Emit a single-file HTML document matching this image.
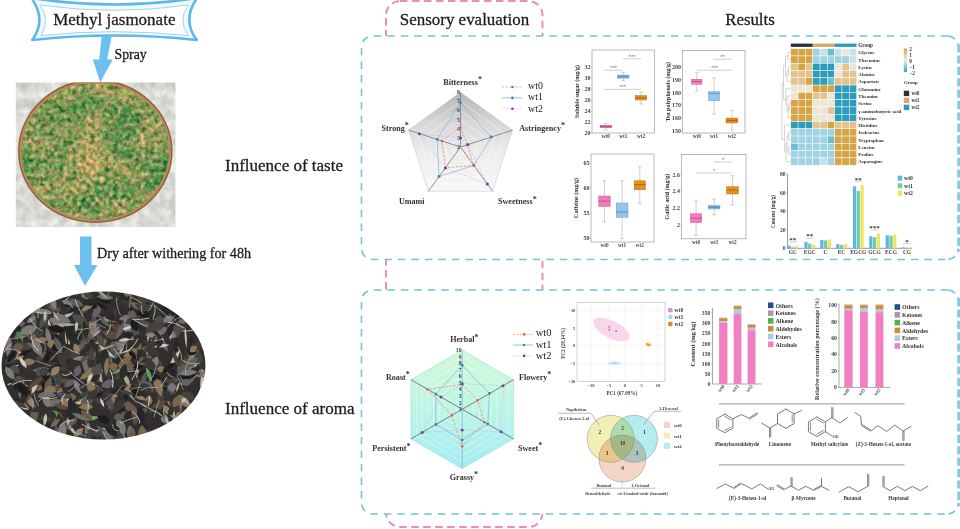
<!DOCTYPE html>
<html><head><meta charset="utf-8"><title>Graphical abstract</title>
<style>
html,body{margin:0;padding:0;background:#fff;}
body{width:960px;height:529px;overflow:hidden;font-family:"Liberation Serif",serif;}
svg{display:block;font-family:"Liberation Serif",serif;will-change:transform;}
</style></head><body>
<svg width="960" height="529" viewBox="0 0 960 529">
<defs>
<filter id="leafG" x="0" y="0" width="100%" height="100%" color-interpolation-filters="sRGB">
  <feTurbulence type="fractalNoise" baseFrequency="0.22" numOctaves="2" seed="7" result="n"/>
  <feColorMatrix in="n" type="matrix" values="0.60 0.95 0 0 -0.25  0.60 0.15 0 0 0.22  0.42 0.50 0 0 -0.12  0 0 0 0 1" result="c"/>
  <feTurbulence type="fractalNoise" baseFrequency="0.028 0.04" numOctaves="2" seed="21" result="lo"/>
  <feColorMatrix in="lo" type="matrix" values="1.2 0 0 0 -0.1  0.3 0 0 0 0.35  0.3 0 0 0 0.35  0 0 0 0 1" result="lo2"/>
  <feComposite in="c" in2="lo2" operator="arithmetic" k1="0" k2="1" k3="0.6" k4="-0.30" result="mix"/>
  <feGaussianBlur in="mix" stdDeviation="0.4"/>
</filter>
<filter id="concrete" x="0" y="0" width="100%" height="100%" color-interpolation-filters="sRGB">
  <feTurbulence type="fractalNoise" baseFrequency="0.10" numOctaves="3" seed="3" result="n"/>
  <feColorMatrix in="n" type="matrix" values="0.3 0 0 0 0.71  0.3 0 0 0 0.71  0.3 0 0 0 0.69  0 0 0 0 1"/>
</filter>
<filter id="leafD" x="0" y="0" width="100%" height="100%" color-interpolation-filters="sRGB">
  <feTurbulence type="fractalNoise" baseFrequency="0.06 0.10" numOctaves="3" seed="11" result="n1"/>
  <feColorMatrix in="n1" type="matrix" values="1.7 0.12 0 0 -0.66  1.7 0.0 0 0 -0.60  1.6 -0.10 0 0 -0.52  0 0 0 0 1" result="base"/>
  <feTurbulence type="turbulence" baseFrequency="0.05 0.08" numOctaves="2" seed="5" result="n2"/>
  <feColorMatrix in="n2" type="matrix" values="-5 0 0 0 0.5  -5 0 0 0 0.5  -5 0 0 0 0.47  0 0 0 0 1" result="veins"/>
  <feComposite in="base" in2="veins" operator="arithmetic" k1="0" k2="1" k3="0.8" k4="0" result="mix"/>
  <feGaussianBlur in="mix" stdDeviation="0.55"/>
</filter>
<clipPath id="clipTray"><ellipse cx="95.3" cy="151.2" rx="73.8" ry="68.3"/></clipPath>
<clipPath id="clipPhoto1"><rect x="15.8" y="82.5" width="159.6" height="144.5"/></clipPath>
<clipPath id="clipEll"><ellipse cx="103.5" cy="365.6" rx="102" ry="74"/></clipPath>
<filter id="soft" x="-2%" y="-2%" width="104%" height="104%"><feGaussianBlur stdDeviation="0.45"/></filter>
<linearGradient id="gPent" x1="0" y1="0" x2="0" y2="1"><stop offset="0" stop-color="#b4b4b4"/><stop offset="0.3" stop-color="#d6d6d6"/><stop offset="0.6" stop-color="#ececec"/><stop offset="1" stop-color="#f8f8f8"/></linearGradient>
<linearGradient id="gHex" x1="0" y1="0" x2="0" y2="1"><stop offset="0" stop-color="#d2f9d6"/><stop offset="0.5" stop-color="#bdf5e6"/><stop offset="1" stop-color="#a4ecf3"/></linearGradient>
<linearGradient id="gBar" x1="0" y1="0" x2="0" y2="1"><stop offset="0" stop-color="#c9a64a"/><stop offset="0.5" stop-color="#efefe6"/><stop offset="1" stop-color="#2fa3bd"/></linearGradient>
</defs>
<path d="M31.5,-2 Q114,11 197,-2 Q181.7,20 196.8,40 Q114,31 32.3,40 Q46.9,20 31.5,-2 Z" fill="#f3fafe" stroke="#5cb7ea" stroke-width="2.6" stroke-linejoin="round"/>
<path d="M39.8,5 Q114,15.6 188.3,5 Q177.3,20 188.3,35.6 Q114,27.8 40.8,35.6 Q51.1,20 39.8,5 Z" fill="#ffffff" stroke="#8fd0f2" stroke-width="0.9"/>
<text x="114.30" y="25.30" font-size="17.0" text-anchor="middle" font-weight="normal" fill="#1c1c1c" stroke="#1c1c1c" stroke-width="0.28">Methyl jasmonate</text>
<path d="M101.6,37 L111.5,37 L107.2,59.4 L112.7,59.4 L100.2,82.5 L92.9,59.4 L99.2,59.4 Z" fill="#6dc0ee"/>
<text x="114.50" y="59.40" font-size="13.8" text-anchor="start" font-weight="normal" fill="#1c1c1c" stroke="#1c1c1c" stroke-width="0.28">Spray</text>
<g clip-path="url(#clipPhoto1)">
<rect x="15.80" y="82.50" width="159.60" height="144.50" fill="#d3d4d0" stroke="none" stroke-width="0.5"/>
<rect x="15.8" y="82.5" width="159.6" height="144.5" filter="url(#concrete)" opacity="0.9"/>
<ellipse cx="95.3" cy="151.2" rx="77.3" ry="71.8" fill="#8e5e3c"/>
<ellipse cx="95.3" cy="151.2" rx="75.9" ry="70.4" fill="#b98a5c"/>
<ellipse cx="95.3" cy="151.2" rx="73.8" ry="68.3" fill="#7f9a4c"/>
<g clip-path="url(#clipTray)"><rect x="16" y="78" width="160" height="150" filter="url(#leafG)"/></g>
</g>
<path d="M80,236.5 L91.5,236.5 L91.5,265 L97.5,265 L85,286 L74,265 L80,265 Z" fill="#6dc0ee"/>
<text x="97.00" y="258.20" font-size="14.17" text-anchor="start" font-weight="normal" fill="#1c1c1c" stroke="#1c1c1c" stroke-width="0.28">Dry after withering for 48h</text>
<g clip-path="url(#clipEll)" filter="url(#soft)">
<ellipse cx="103.5" cy="365.6" rx="103" ry="75" fill="#302f2d"/>
<path d="M-5.3,0 Q0,-4.5 5.3,0 Q0,4.5 -5.3,0Z" fill="#3a3834" transform="translate(131.7 296.3) rotate(133)"/>
<path d="M-5.7,0 Q0,-6.5 5.7,0 Q0,6.5 -5.7,0Z" fill="#2b2a28" transform="translate(112.7 378.8) rotate(5)"/>
<path d="M-7.0,0 Q0,-5.4 7.0,0 Q0,5.4 -7.0,0Z" fill="#7a664e" transform="translate(42.7 387.5) rotate(156)"/>
<path d="M-5.4,0 Q0,-8.8 5.4,0 Q0,8.8 -5.4,0Z" fill="#1f1f1f" transform="translate(155.8 315.9) rotate(61)"/>
<path d="M-7.0,0 Q0,-4.6 7.0,0 Q0,4.6 -7.0,0Z" fill="#4e504e" transform="translate(173.7 380.7) rotate(166)"/>
<path d="M-7.7,0 Q0,-7.5 7.7,0 Q0,7.5 -7.7,0Z" fill="#5e5e5a" transform="translate(18.4 335.4) rotate(8)"/>
<path d="M-9.3,0 Q0,-5.9 9.3,0 Q0,5.9 -9.3,0Z" fill="#3a3834" transform="translate(48.5 334.9) rotate(82)"/>
<path d="M-6.0,0 Q0,-8.7 6.0,0 Q0,8.7 -6.0,0Z" fill="#27282a" transform="translate(171.0 316.3) rotate(117)"/>
<path d="M-7.0,0 Q0,-5.3 7.0,0 Q0,5.3 -7.0,0Z" fill="#777378" transform="translate(125.5 317.6) rotate(167)"/>
<path d="M-5.8,0 Q0,-4.2 5.8,0 Q0,4.2 -5.8,0Z" fill="#2b2a28" transform="translate(141.5 324.7) rotate(57)"/>
<path d="M-8.9,0 Q0,-4.2 8.9,0 Q0,4.2 -8.9,0Z" fill="#a8a496" transform="translate(56.6 323.4) rotate(26)"/>
<path d="M-6.9,0 Q0,-6.9 6.9,0 Q0,6.9 -6.9,0Z" fill="#94806a" transform="translate(30.7 401.4) rotate(65)"/>
<path d="M-5.4,0 Q0,-2.8 5.4,0 Q0,2.8 -5.4,0Z" fill="#d0cdc0" transform="translate(102.2 402.9) rotate(69)"/>
<path d="M-9.5,0 Q0,-4.2 9.5,0 Q0,4.2 -9.5,0Z" fill="#bdb9aa" transform="translate(203.7 369.9) rotate(138)"/>
<path d="M-9.7,0 Q0,-8.4 9.7,0 Q0,8.4 -9.7,0Z" fill="#2b2a28" transform="translate(71.2 335.5) rotate(47)"/>
<path d="M-7.2,0 Q0,-2.1 7.2,0 Q0,2.1 -7.2,0Z" fill="#a8a496" transform="translate(103.6 318.7) rotate(29)"/>
<path d="M-9.6,0 Q0,-8.4 9.6,0 Q0,8.4 -9.6,0Z" fill="#6b5a48" transform="translate(188.0 380.0) rotate(150)"/>
<path d="M-9.6,0 Q0,-1.7 9.6,0 Q0,1.7 -9.6,0Z" fill="#bdb9aa" transform="translate(64.6 301.1) rotate(138)"/>
<path d="M-7.4,0 Q0,-7.0 7.4,0 Q0,7.0 -7.4,0Z" fill="#8a7458" transform="translate(28.4 362.0) rotate(174)"/>
<path d="M-6.2,0 Q0,-9.0 6.2,0 Q0,9.0 -6.2,0Z" fill="#4e504e" transform="translate(190.1 402.9) rotate(117)"/>
<path d="M-4.9,0 Q0,-4.1 4.9,0 Q0,4.1 -4.9,0Z" fill="#3a3834" transform="translate(91.0 368.2) rotate(100)"/>
<path d="M-5.8,0 Q0,-8.5 5.8,0 Q0,8.5 -5.8,0Z" fill="#66606a" transform="translate(121.4 293.6) rotate(155)"/>
<path d="M-7.5,0 Q0,-7.6 7.5,0 Q0,7.6 -7.5,0Z" fill="#524e56" transform="translate(16.8 327.3) rotate(159)"/>
<path d="M-5.5,0 Q0,-4.5 5.5,0 Q0,4.5 -5.5,0Z" fill="#5c4c3e" transform="translate(118.9 328.1) rotate(78)"/>
<path d="M-8.1,0 Q0,-7.2 8.1,0 Q0,7.2 -8.1,0Z" fill="#6e6e6a" transform="translate(88.1 360.8) rotate(11)"/>
<path d="M-5.5,0 Q0,-6.2 5.5,0 Q0,6.2 -5.5,0Z" fill="#3a3834" transform="translate(149.6 409.5) rotate(76)"/>
<path d="M-8.9,0 Q0,-1.8 8.9,0 Q0,1.8 -8.9,0Z" fill="#c9c2ae" transform="translate(58.8 329.1) rotate(97)"/>
<path d="M-5.7,0 Q0,-6.0 5.7,0 Q0,6.0 -5.7,0Z" fill="#45423c" transform="translate(154.7 327.1) rotate(11)"/>
<path d="M-6.1,0 Q0,-7.5 6.1,0 Q0,7.5 -6.1,0Z" fill="#45423c" transform="translate(79.1 436.5) rotate(131)"/>
<path d="M-6.1,0 Q0,-8.8 6.1,0 Q0,8.8 -6.1,0Z" fill="#7a664e" transform="translate(160.7 389.2) rotate(104)"/>
<path d="M-7.1,0 Q0,-8.6 7.1,0 Q0,8.6 -7.1,0Z" fill="#33302e" transform="translate(112.0 401.8) rotate(96)"/>
<path d="M-5.7,0 Q0,-2.2 5.7,0 Q0,2.2 -5.7,0Z" fill="#bdb9aa" transform="translate(14.0 366.7) rotate(160)"/>
<path d="M-8.1,0 Q0,-6.8 8.1,0 Q0,6.8 -8.1,0Z" fill="#6e6e6a" transform="translate(52.2 379.4) rotate(57)"/>
<path d="M-6.7,0 Q0,-7.4 6.7,0 Q0,7.4 -6.7,0Z" fill="#1f1f1f" transform="translate(55.2 390.4) rotate(54)"/>
<path d="M-7.9,0 Q0,-6.8 7.9,0 Q0,6.8 -7.9,0Z" fill="#45423c" transform="translate(66.4 402.4) rotate(18)"/>
<path d="M-9.3,0 Q0,-8.4 9.3,0 Q0,8.4 -9.3,0Z" fill="#1f1f1f" transform="translate(111.1 366.5) rotate(67)"/>
<path d="M-9.9,0 Q0,-8.0 9.9,0 Q0,8.0 -9.9,0Z" fill="#5e5e5a" transform="translate(34.4 414.3) rotate(95)"/>
<path d="M-5.6,0 Q0,-1.8 5.6,0 Q0,1.8 -5.6,0Z" fill="#bdb9aa" transform="translate(137.4 373.6) rotate(100)"/>
<path d="M-8.3,0 Q0,-8.3 8.3,0 Q0,8.3 -8.3,0Z" fill="#524e56" transform="translate(57.5 380.9) rotate(91)"/>
<path d="M-6.8,0 Q0,-5.4 6.8,0 Q0,5.4 -6.8,0Z" fill="#27282a" transform="translate(53.2 425.2) rotate(1)"/>
<path d="M-6.9,0 Q0,-7.5 6.9,0 Q0,7.5 -6.9,0Z" fill="#27282a" transform="translate(158.3 385.6) rotate(101)"/>
<path d="M-7.7,0 Q0,-4.7 7.7,0 Q0,4.7 -7.7,0Z" fill="#1f1f1f" transform="translate(142.1 314.4) rotate(23)"/>
<path d="M-9.4,0 Q0,-5.1 9.4,0 Q0,5.1 -9.4,0Z" fill="#66606a" transform="translate(64.8 423.9) rotate(45)"/>
<path d="M-6.4,0 Q0,-4.3 6.4,0 Q0,4.3 -6.4,0Z" fill="#c9c2ae" transform="translate(23.3 406.5) rotate(29)"/>
<path d="M-8.6,0 Q0,-5.7 8.6,0 Q0,5.7 -8.6,0Z" fill="#3a3834" transform="translate(164.1 318.4) rotate(168)"/>
<path d="M-5.4,0 Q0,-7.5 5.4,0 Q0,7.5 -5.4,0Z" fill="#807a84" transform="translate(164.6 418.8) rotate(69)"/>
<path d="M-6.4,0 Q0,-8.1 6.4,0 Q0,8.1 -6.4,0Z" fill="#45423c" transform="translate(10.3 361.3) rotate(157)"/>
<path d="M-9.3,0 Q0,-8.8 9.3,0 Q0,8.8 -9.3,0Z" fill="#1f1f1f" transform="translate(47.5 389.0) rotate(50)"/>
<path d="M-6.3,0 Q0,-4.1 6.3,0 Q0,4.1 -6.3,0Z" fill="#4f8450" transform="translate(132.1 351.0) rotate(158)"/>
<path d="M-5.1,0 Q0,-6.2 5.1,0 Q0,6.2 -5.1,0Z" fill="#5f9a58" transform="translate(55.3 377.4) rotate(131)"/>
<path d="M-9.4,0 Q0,-5.0 9.4,0 Q0,5.0 -9.4,0Z" fill="#5c4c3e" transform="translate(65.9 381.1) rotate(8)"/>
<path d="M-8.5,0 Q0,-7.7 8.5,0 Q0,7.7 -8.5,0Z" fill="#6e6e6a" transform="translate(90.6 368.5) rotate(121)"/>
<path d="M-7.9,0 Q0,-7.3 7.9,0 Q0,7.3 -7.9,0Z" fill="#5e5e5a" transform="translate(76.1 302.8) rotate(22)"/>
<path d="M-6.7,0 Q0,-5.5 6.7,0 Q0,5.5 -6.7,0Z" fill="#5e5e5a" transform="translate(184.3 366.6) rotate(23)"/>
<path d="M-7.9,0 Q0,-5.5 7.9,0 Q0,5.5 -7.9,0Z" fill="#777378" transform="translate(87.4 429.9) rotate(99)"/>
<path d="M-6.9,0 Q0,-7.4 6.9,0 Q0,7.4 -6.9,0Z" fill="#4e504e" transform="translate(89.3 377.3) rotate(92)"/>
<path d="M-8.0,0 Q0,-5.7 8.0,0 Q0,5.7 -8.0,0Z" fill="#27282a" transform="translate(151.2 388.8) rotate(147)"/>
<path d="M-5.3,0 Q0,-4.2 5.3,0 Q0,4.2 -5.3,0Z" fill="#3a3834" transform="translate(154.2 390.8) rotate(177)"/>
<path d="M-5.6,0 Q0,-7.5 5.6,0 Q0,7.5 -5.6,0Z" fill="#94806a" transform="translate(126.0 404.8) rotate(89)"/>
<path d="M-8.8,0 Q0,-5.1 8.8,0 Q0,5.1 -8.8,0Z" fill="#2b2a28" transform="translate(51.8 388.4) rotate(145)"/>
<path d="M-7.0,0 Q0,-8.0 7.0,0 Q0,8.0 -7.0,0Z" fill="#6b5a48" transform="translate(143.1 360.4) rotate(120)"/>
<path d="M-10.0,0 Q0,-3.0 10.0,0 Q0,3.0 -10.0,0Z" fill="#c9c2ae" transform="translate(202.1 379.5) rotate(99)"/>
<path d="M-8.6,0 Q0,-8.2 8.6,0 Q0,8.2 -8.6,0Z" fill="#8a7458" transform="translate(183.7 401.2) rotate(50)"/>
<path d="M-4.9,0 Q0,-5.4 4.9,0 Q0,5.4 -4.9,0Z" fill="#45423c" transform="translate(159.6 363.4) rotate(49)"/>
<path d="M-6.6,0 Q0,-4.8 6.6,0 Q0,4.8 -6.6,0Z" fill="#3a3834" transform="translate(67.1 371.5) rotate(39)"/>
<path d="M-5.6,0 Q0,-6.1 5.6,0 Q0,6.1 -5.6,0Z" fill="#6b5a48" transform="translate(86.3 340.9) rotate(163)"/>
<path d="M-9.5,0 Q0,-2.6 9.5,0 Q0,2.6 -9.5,0Z" fill="#989486" transform="translate(120.5 394.1) rotate(154)"/>
<path d="M-8.9,0 Q0,-8.5 8.9,0 Q0,8.5 -8.9,0Z" fill="#7c7c76" transform="translate(195.1 353.8) rotate(88)"/>
<path d="M-8.2,0 Q0,-6.0 8.2,0 Q0,6.0 -8.2,0Z" fill="#27282a" transform="translate(57.6 363.5) rotate(30)"/>
<path d="M-9.5,0 Q0,-7.0 9.5,0 Q0,7.0 -9.5,0Z" fill="#66606a" transform="translate(96.9 311.2) rotate(119)"/>
<path d="M-7.0,0 Q0,-2.1 7.0,0 Q0,2.1 -7.0,0Z" fill="#d0cdc0" transform="translate(19.5 355.2) rotate(137)"/>
<path d="M-5.3,0 Q0,-3.7 5.3,0 Q0,3.7 -5.3,0Z" fill="#a8a496" transform="translate(79.1 402.4) rotate(171)"/>
<path d="M-8.2,0 Q0,-6.8 8.2,0 Q0,6.8 -8.2,0Z" fill="#45423c" transform="translate(172.0 383.3) rotate(39)"/>
<path d="M-9.8,0 Q0,-7.6 9.8,0 Q0,7.6 -9.8,0Z" fill="#33302e" transform="translate(143.8 404.6) rotate(140)"/>
<path d="M-7.7,0 Q0,-8.5 7.7,0 Q0,8.5 -7.7,0Z" fill="#8a7458" transform="translate(35.6 338.0) rotate(68)"/>
<path d="M-8.7,0 Q0,-8.3 8.7,0 Q0,8.3 -8.7,0Z" fill="#27282a" transform="translate(122.1 413.9) rotate(108)"/>
<path d="M-4.9,0 Q0,-7.2 4.9,0 Q0,7.2 -4.9,0Z" fill="#1f1f1f" transform="translate(160.6 343.3) rotate(2)"/>
<path d="M-8.0,0 Q0,-8.1 8.0,0 Q0,8.1 -8.0,0Z" fill="#1f1f1f" transform="translate(87.4 364.2) rotate(127)"/>
<path d="M-7.8,0 Q0,-3.8 7.8,0 Q0,3.8 -7.8,0Z" fill="#a8a496" transform="translate(90.5 399.7) rotate(149)"/>
<path d="M-6.0,0 Q0,-6.3 6.0,0 Q0,6.3 -6.0,0Z" fill="#2b2a28" transform="translate(122.2 339.7) rotate(135)"/>
<path d="M-9.2,0 Q0,-4.9 9.2,0 Q0,4.9 -9.2,0Z" fill="#45423c" transform="translate(117.6 390.2) rotate(38)"/>
<path d="M-6.4,0 Q0,-2.1 6.4,0 Q0,2.1 -6.4,0Z" fill="#a8a496" transform="translate(163.7 342.3) rotate(73)"/>
<path d="M-7.0,0 Q0,-4.1 7.0,0 Q0,4.1 -7.0,0Z" fill="#5c4c3e" transform="translate(114.6 327.7) rotate(53)"/>
<path d="M-7.1,0 Q0,-6.7 7.1,0 Q0,6.7 -7.1,0Z" fill="#5e5e5a" transform="translate(84.2 328.1) rotate(77)"/>
<path d="M-6.2,0 Q0,-5.2 6.2,0 Q0,5.2 -6.2,0Z" fill="#807a84" transform="translate(153.2 340.9) rotate(130)"/>
<path d="M-8.5,0 Q0,-2.3 8.5,0 Q0,2.3 -8.5,0Z" fill="#d0cdc0" transform="translate(66.2 401.1) rotate(137)"/>
<path d="M-8.2,0 Q0,-1.5 8.2,0 Q0,1.5 -8.2,0Z" fill="#a8a496" transform="translate(123.1 435.8) rotate(49)"/>
<path d="M-8.0,0 Q0,-7.8 8.0,0 Q0,7.8 -8.0,0Z" fill="#777378" transform="translate(199.3 373.4) rotate(18)"/>
<path d="M-7.4,0 Q0,-4.0 7.4,0 Q0,4.0 -7.4,0Z" fill="#a8a496" transform="translate(99.2 342.3) rotate(13)"/>
<path d="M-9.7,0 Q0,-4.4 9.7,0 Q0,4.4 -9.7,0Z" fill="#33302e" transform="translate(129.6 300.4) rotate(45)"/>
<path d="M-5.7,0 Q0,-6.6 5.7,0 Q0,6.6 -5.7,0Z" fill="#5e5e5a" transform="translate(115.2 353.4) rotate(81)"/>
<path d="M-7.6,0 Q0,-4.3 7.6,0 Q0,4.3 -7.6,0Z" fill="#6aa862" transform="translate(91.9 418.2) rotate(173)"/>
<path d="M-8.1,0 Q0,-4.8 8.1,0 Q0,4.8 -8.1,0Z" fill="#807a84" transform="translate(22.5 404.0) rotate(31)"/>
<path d="M-6.1,0 Q0,-5.4 6.1,0 Q0,5.4 -6.1,0Z" fill="#3a3834" transform="translate(93.5 379.3) rotate(155)"/>
<path d="M-7.7,0 Q0,-8.0 7.7,0 Q0,8.0 -7.7,0Z" fill="#27282a" transform="translate(16.9 326.7) rotate(36)"/>
<path d="M-9.0,0 Q0,-4.4 9.0,0 Q0,4.4 -9.0,0Z" fill="#1f1f1f" transform="translate(25.7 325.4) rotate(30)"/>
<path d="M-6.9,0 Q0,-6.3 6.9,0 Q0,6.3 -6.9,0Z" fill="#8a7458" transform="translate(64.6 401.9) rotate(55)"/>
<path d="M-4.9,0 Q0,-4.2 4.9,0 Q0,4.2 -4.9,0Z" fill="#5c4c3e" transform="translate(83.8 332.3) rotate(78)"/>
<path d="M-9.1,0 Q0,-6.9 9.1,0 Q0,6.9 -9.1,0Z" fill="#27282a" transform="translate(67.6 329.2) rotate(171)"/>
<path d="M-5.5,0 Q0,-6.9 5.5,0 Q0,6.9 -5.5,0Z" fill="#807a84" transform="translate(155.3 361.3) rotate(114)"/>
<path d="M-6.3,0 Q0,-4.5 6.3,0 Q0,4.5 -6.3,0Z" fill="#1f1f1f" transform="translate(101.8 305.9) rotate(29)"/>
<path d="M-9.0,0 Q0,-6.8 9.0,0 Q0,6.8 -9.0,0Z" fill="#6e6e6a" transform="translate(85.7 364.9) rotate(82)"/>
<path d="M-10.2,0 Q0,-1.5 10.2,0 Q0,1.5 -10.2,0Z" fill="#c9c2ae" transform="translate(66.0 339.8) rotate(83)"/>
<path d="M-7.9,0 Q0,-7.8 7.9,0 Q0,7.8 -7.9,0Z" fill="#4e504e" transform="translate(13.4 368.3) rotate(37)"/>
<path d="M-7.2,0 Q0,-4.1 7.2,0 Q0,4.1 -7.2,0Z" fill="#27282a" transform="translate(113.4 428.0) rotate(113)"/>
<path d="M-7.5,0 Q0,-4.5 7.5,0 Q0,4.5 -7.5,0Z" fill="#2b2a28" transform="translate(164.0 396.2) rotate(179)"/>
<path d="M-7.2,0 Q0,-7.6 7.2,0 Q0,7.6 -7.2,0Z" fill="#3a3834" transform="translate(186.9 360.0) rotate(92)"/>
<path d="M-7.0,0 Q0,-4.7 7.0,0 Q0,4.7 -7.0,0Z" fill="#5f9a58" transform="translate(57.7 414.5) rotate(34)"/>
<path d="M-6.0,0 Q0,-8.0 6.0,0 Q0,8.0 -6.0,0Z" fill="#2b2a28" transform="translate(123.6 401.6) rotate(75)"/>
<path d="M-8.5,0 Q0,-8.2 8.5,0 Q0,8.2 -8.5,0Z" fill="#807a84" transform="translate(191.2 366.7) rotate(104)"/>
<path d="M-6.4,0 Q0,-6.8 6.4,0 Q0,6.8 -6.4,0Z" fill="#5c4c3e" transform="translate(135.8 418.9) rotate(98)"/>
<path d="M-5.8,0 Q0,-5.9 5.8,0 Q0,5.9 -5.8,0Z" fill="#27282a" transform="translate(94.5 339.6) rotate(154)"/>
<path d="M-6.6,0 Q0,-7.3 6.6,0 Q0,7.3 -6.6,0Z" fill="#5c4c3e" transform="translate(85.5 339.1) rotate(148)"/>
<path d="M-9.8,0 Q0,-5.7 9.8,0 Q0,5.7 -9.8,0Z" fill="#33302e" transform="translate(200.6 364.9) rotate(18)"/>
<path d="M-8.1,0 Q0,-8.3 8.1,0 Q0,8.3 -8.1,0Z" fill="#6e6e6a" transform="translate(160.4 331.3) rotate(153)"/>
<path d="M-9.4,0 Q0,-6.4 9.4,0 Q0,6.4 -9.4,0Z" fill="#27282a" transform="translate(176.1 348.1) rotate(97)"/>
<path d="M-10.0,0 Q0,-7.7 10.0,0 Q0,7.7 -10.0,0Z" fill="#807a84" transform="translate(127.2 326.9) rotate(78)"/>
<path d="M-6.9,0 Q0,-1.6 6.9,0 Q0,1.6 -6.9,0Z" fill="#c9c2ae" transform="translate(22.4 385.1) rotate(10)"/>
<path d="M-7.6,0 Q0,-8.0 7.6,0 Q0,8.0 -7.6,0Z" fill="#45423c" transform="translate(74.9 355.5) rotate(31)"/>
<path d="M-9.0,0 Q0,-2.9 9.0,0 Q0,2.9 -9.0,0Z" fill="#d0cdc0" transform="translate(127.7 327.8) rotate(162)"/>
<path d="M-6.9,0 Q0,-5.7 6.9,0 Q0,5.7 -6.9,0Z" fill="#6b5a48" transform="translate(96.5 334.6) rotate(106)"/>
<path d="M-5.6,0 Q0,-5.9 5.6,0 Q0,5.9 -5.6,0Z" fill="#1f1f1f" transform="translate(131.6 354.5) rotate(87)"/>
<path d="M-4.6,0 Q0,-8.2 4.6,0 Q0,8.2 -4.6,0Z" fill="#8a7458" transform="translate(50.4 376.1) rotate(71)"/>
<path d="M-6.3,0 Q0,-3.9 6.3,0 Q0,3.9 -6.3,0Z" fill="#a8a496" transform="translate(186.4 401.4) rotate(34)"/>
<path d="M-9.1,0 Q0,-7.1 9.1,0 Q0,7.1 -9.1,0Z" fill="#6e6e6a" transform="translate(53.1 402.9) rotate(163)"/>
<path d="M-6.5,0 Q0,-4.7 6.5,0 Q0,4.7 -6.5,0Z" fill="#94806a" transform="translate(133.1 337.7) rotate(164)"/>
<path d="M-9.3,0 Q0,-5.8 9.3,0 Q0,5.8 -9.3,0Z" fill="#33302e" transform="translate(68.5 353.3) rotate(90)"/>
<path d="M-9.8,0 Q0,-4.1 9.8,0 Q0,4.1 -9.8,0Z" fill="#c9c2ae" transform="translate(57.6 316.6) rotate(84)"/>
<path d="M-8.5,0 Q0,-8.9 8.5,0 Q0,8.9 -8.5,0Z" fill="#27282a" transform="translate(17.7 402.7) rotate(174)"/>
<path d="M-6.0,0 Q0,-4.6 6.0,0 Q0,4.6 -6.0,0Z" fill="#66606a" transform="translate(165.0 346.0) rotate(66)"/>
<path d="M-9.7,0 Q0,-4.5 9.7,0 Q0,4.5 -9.7,0Z" fill="#27282a" transform="translate(153.8 330.9) rotate(42)"/>
<path d="M-8.0,0 Q0,-6.3 8.0,0 Q0,6.3 -8.0,0Z" fill="#2b2a28" transform="translate(115.9 426.2) rotate(126)"/>
<path d="M-6.2,0 Q0,-6.5 6.2,0 Q0,6.5 -6.2,0Z" fill="#2b2a28" transform="translate(133.6 309.6) rotate(17)"/>
<path d="M-6.8,0 Q0,-7.7 6.8,0 Q0,7.7 -6.8,0Z" fill="#7c7c76" transform="translate(94.1 390.5) rotate(28)"/>
<path d="M-9.7,0 Q0,-5.4 9.7,0 Q0,5.4 -9.7,0Z" fill="#5c4c3e" transform="translate(86.3 307.1) rotate(124)"/>
<path d="M-5.0,0 Q0,-7.4 5.0,0 Q0,7.4 -5.0,0Z" fill="#1f1f1f" transform="translate(46.4 357.5) rotate(98)"/>
<path d="M-9.8,0 Q0,-8.7 9.8,0 Q0,8.7 -9.8,0Z" fill="#3a3834" transform="translate(200.0 345.0) rotate(148)"/>
<path d="M-4.8,0 Q0,-5.7 4.8,0 Q0,5.7 -4.8,0Z" fill="#66606a" transform="translate(21.0 323.6) rotate(178)"/>
<path d="M-5.6,0 Q0,-5.1 5.6,0 Q0,5.1 -5.6,0Z" fill="#7c7c76" transform="translate(161.5 322.6) rotate(157)"/>
<path d="M-8.2,0 Q0,-4.5 8.2,0 Q0,4.5 -8.2,0Z" fill="#bdb9aa" transform="translate(68.9 314.1) rotate(144)"/>
<path d="M-6.3,0 Q0,-4.9 6.3,0 Q0,4.9 -6.3,0Z" fill="#5e5e5a" transform="translate(29.1 344.9) rotate(9)"/>
<path d="M-7.0,0 Q0,-5.8 7.0,0 Q0,5.8 -7.0,0Z" fill="#4e504e" transform="translate(152.3 369.4) rotate(107)"/>
<path d="M-8.8,0 Q0,-8.3 8.8,0 Q0,8.3 -8.8,0Z" fill="#4e504e" transform="translate(93.8 324.9) rotate(94)"/>
<path d="M-9.2,0 Q0,-6.1 9.2,0 Q0,6.1 -9.2,0Z" fill="#45423c" transform="translate(95.0 433.3) rotate(19)"/>
<path d="M-8.8,0 Q0,-2.3 8.8,0 Q0,2.3 -8.8,0Z" fill="#a8a496" transform="translate(146.4 357.4) rotate(99)"/>
<path d="M-8.9,0 Q0,-4.6 8.9,0 Q0,4.6 -8.9,0Z" fill="#5a585e" transform="translate(109.7 358.8) rotate(118)"/>
<path d="M-7.7,0 Q0,-2.5 7.7,0 Q0,2.5 -7.7,0Z" fill="#c9c2ae" transform="translate(179.8 373.1) rotate(75)"/>
<path d="M-9.7,0 Q0,-7.4 9.7,0 Q0,7.4 -9.7,0Z" fill="#5e5e5a" transform="translate(21.7 354.9) rotate(85)"/>
<path d="M-7.6,0 Q0,-6.9 7.6,0 Q0,6.9 -7.6,0Z" fill="#3a3834" transform="translate(89.7 401.3) rotate(101)"/>
<path d="M-9.7,0 Q0,-6.1 9.7,0 Q0,6.1 -9.7,0Z" fill="#27282a" transform="translate(69.1 310.4) rotate(165)"/>
<path d="M-7.7,0 Q0,-5.1 7.7,0 Q0,5.1 -7.7,0Z" fill="#2b2a28" transform="translate(12.9 334.6) rotate(118)"/>
<path d="M-7.6,0 Q0,-2.2 7.6,0 Q0,2.2 -7.6,0Z" fill="#a8a496" transform="translate(47.8 308.4) rotate(101)"/>
<path d="M-4.6,0 Q0,-8.6 4.6,0 Q0,8.6 -4.6,0Z" fill="#7c7c76" transform="translate(157.5 383.4) rotate(149)"/>
<path d="M-9.6,0 Q0,-5.8 9.6,0 Q0,5.8 -9.6,0Z" fill="#807a84" transform="translate(56.5 318.9) rotate(33)"/>
<path d="M-8.0,0 Q0,-4.2 8.0,0 Q0,4.2 -8.0,0Z" fill="#27282a" transform="translate(31.4 388.6) rotate(134)"/>
<path d="M-6.2,0 Q0,-5.6 6.2,0 Q0,5.6 -6.2,0Z" fill="#1f1f1f" transform="translate(46.0 353.9) rotate(169)"/>
<path d="M-4.8,0 Q0,-4.4 4.8,0 Q0,4.4 -4.8,0Z" fill="#33302e" transform="translate(122.9 421.6) rotate(80)"/>
<path d="M-8.7,0 Q0,-4.6 8.7,0 Q0,4.6 -8.7,0Z" fill="#3a3834" transform="translate(88.2 381.2) rotate(77)"/>
<path d="M-4.7,0 Q0,-6.0 4.7,0 Q0,6.0 -4.7,0Z" fill="#8a7458" transform="translate(59.7 391.7) rotate(108)"/>
<path d="M-5.2,0 Q0,-6.5 5.2,0 Q0,6.5 -5.2,0Z" fill="#1f1f1f" transform="translate(45.2 312.6) rotate(78)"/>
<path d="M-9.1,0 Q0,-8.0 9.1,0 Q0,8.0 -9.1,0Z" fill="#33302e" transform="translate(28.6 370.4) rotate(13)"/>
<path d="M-6.1,0 Q0,-6.0 6.1,0 Q0,6.0 -6.1,0Z" fill="#5c4c3e" transform="translate(176.6 376.7) rotate(174)"/>
<path d="M-9.1,0 Q0,-5.2 9.1,0 Q0,5.2 -9.1,0Z" fill="#45423c" transform="translate(95.4 393.3) rotate(106)"/>
<path d="M-5.7,0 Q0,-7.9 5.7,0 Q0,7.9 -5.7,0Z" fill="#1f1f1f" transform="translate(108.3 350.4) rotate(14)"/>
<path d="M-6.4,0 Q0,-8.8 6.4,0 Q0,8.8 -6.4,0Z" fill="#1f1f1f" transform="translate(130.4 370.1) rotate(116)"/>
<path d="M-4.9,0 Q0,-8.8 4.9,0 Q0,8.8 -4.9,0Z" fill="#27282a" transform="translate(54.2 317.9) rotate(113)"/>
<path d="M-8.0,0 Q0,-8.9 8.0,0 Q0,8.9 -8.0,0Z" fill="#94806a" transform="translate(96.2 374.9) rotate(58)"/>
<path d="M-6.0,0 Q0,-4.3 6.0,0 Q0,4.3 -6.0,0Z" fill="#7c7c76" transform="translate(91.3 361.1) rotate(91)"/>
<path d="M-4.9,0 Q0,-8.3 4.9,0 Q0,8.3 -4.9,0Z" fill="#1f1f1f" transform="translate(65.2 358.6) rotate(154)"/>
<path d="M-9.7,0 Q0,-7.7 9.7,0 Q0,7.7 -9.7,0Z" fill="#94806a" transform="translate(126.7 366.6) rotate(7)"/>
<path d="M-7.1,0 Q0,-4.8 7.1,0 Q0,4.8 -7.1,0Z" fill="#33302e" transform="translate(186.1 376.1) rotate(11)"/>
<path d="M-4.7,0 Q0,-7.5 4.7,0 Q0,7.5 -4.7,0Z" fill="#7a664e" transform="translate(71.9 396.9) rotate(178)"/>
<path d="M-6.6,0 Q0,-7.9 6.6,0 Q0,7.9 -6.6,0Z" fill="#1f1f1f" transform="translate(108.4 381.6) rotate(122)"/>
<path d="M-5.0,0 Q0,-7.4 5.0,0 Q0,7.4 -5.0,0Z" fill="#1f1f1f" transform="translate(13.1 384.7) rotate(51)"/>
<path d="M-7.1,0 Q0,-1.9 7.1,0 Q0,1.9 -7.1,0Z" fill="#d0cdc0" transform="translate(148.7 388.5) rotate(174)"/>
<path d="M-6.2,0 Q0,-5.9 6.2,0 Q0,5.9 -6.2,0Z" fill="#5a585e" transform="translate(143.6 349.8) rotate(142)"/>
<path d="M-10.0,0 Q0,-8.6 10.0,0 Q0,8.6 -10.0,0Z" fill="#4e504e" transform="translate(166.8 390.4) rotate(17)"/>
<path d="M-5.5,0 Q0,-5.1 5.5,0 Q0,5.1 -5.5,0Z" fill="#1f1f1f" transform="translate(137.9 366.8) rotate(171)"/>
<path d="M-6.1,0 Q0,-7.9 6.1,0 Q0,7.9 -6.1,0Z" fill="#2b2a28" transform="translate(100.7 325.7) rotate(91)"/>
<path d="M-9.3,0 Q0,-7.1 9.3,0 Q0,7.1 -9.3,0Z" fill="#8a7458" transform="translate(111.5 400.4) rotate(108)"/>
<path d="M-8.9,0 Q0,-4.8 8.9,0 Q0,4.8 -8.9,0Z" fill="#5e5e5a" transform="translate(33.7 319.0) rotate(79)"/>
<path d="M-7.9,0 Q0,-7.8 7.9,0 Q0,7.8 -7.9,0Z" fill="#45423c" transform="translate(85.5 391.3) rotate(141)"/>
<path d="M-8.4,0 Q0,-3.5 8.4,0 Q0,3.5 -8.4,0Z" fill="#c9c2ae" transform="translate(49.8 327.5) rotate(79)"/>
<path d="M-9.8,0 Q0,-8.1 9.8,0 Q0,8.1 -9.8,0Z" fill="#5c4c3e" transform="translate(157.9 406.2) rotate(144)"/>
<path d="M-7.5,0 Q0,-4.5 7.5,0 Q0,4.5 -7.5,0Z" fill="#5e5e5a" transform="translate(30.5 329.1) rotate(152)"/>
<path d="M-7.0,0 Q0,-6.6 7.0,0 Q0,6.6 -7.0,0Z" fill="#807a84" transform="translate(174.4 334.2) rotate(150)"/>
<path d="M-11.0,0 Q0,-2.2 11.0,0 Q0,2.2 -11.0,0Z" fill="#c9c2ae" transform="translate(167.5 421.8) rotate(67)"/>
<path d="M-4.7,0 Q0,-8.6 4.7,0 Q0,8.6 -4.7,0Z" fill="#777378" transform="translate(172.0 387.5) rotate(85)"/>
<path d="M-4.5,0 Q0,-4.4 4.5,0 Q0,4.4 -4.5,0Z" fill="#94806a" transform="translate(170.4 403.4) rotate(46)"/>
<path d="M-6.8,0 Q0,-7.9 6.8,0 Q0,7.9 -6.8,0Z" fill="#7c7c76" transform="translate(171.2 372.7) rotate(43)"/>
<path d="M-7.0,0 Q0,-4.6 7.0,0 Q0,4.6 -7.0,0Z" fill="#5e5e5a" transform="translate(27.1 327.4) rotate(163)"/>
<path d="M-8.5,0 Q0,-5.5 8.5,0 Q0,5.5 -8.5,0Z" fill="#7a664e" transform="translate(123.0 295.0) rotate(0)"/>
<path d="M-5.0,0 Q0,-8.9 5.0,0 Q0,8.9 -5.0,0Z" fill="#27282a" transform="translate(73.8 375.9) rotate(12)"/>
<path d="M-4.6,0 Q0,-8.4 4.6,0 Q0,8.4 -4.6,0Z" fill="#4f8450" transform="translate(108.8 366.7) rotate(8)"/>
<path d="M-8.8,0 Q0,-5.7 8.8,0 Q0,5.7 -8.8,0Z" fill="#5e5e5a" transform="translate(80.7 347.1) rotate(132)"/>
<path d="M-5.2,0 Q0,-5.8 5.2,0 Q0,5.8 -5.2,0Z" fill="#5e5e5a" transform="translate(129.4 405.2) rotate(61)"/>
<path d="M-7.1,0 Q0,-4.9 7.1,0 Q0,4.9 -7.1,0Z" fill="#4e504e" transform="translate(132.3 413.8) rotate(24)"/>
<path d="M-4.7,0 Q0,-5.0 4.7,0 Q0,5.0 -4.7,0Z" fill="#3a3834" transform="translate(147.1 430.4) rotate(8)"/>
<path d="M-7.1,0 Q0,-4.2 7.1,0 Q0,4.2 -7.1,0Z" fill="#4f8450" transform="translate(191.0 367.8) rotate(116)"/>
<path d="M-6.3,0 Q0,-4.6 6.3,0 Q0,4.6 -6.3,0Z" fill="#27282a" transform="translate(60.3 418.5) rotate(66)"/>
<path d="M-7.2,0 Q0,-3.6 7.2,0 Q0,3.6 -7.2,0Z" fill="#c9c2ae" transform="translate(182.2 401.1) rotate(144)"/>
<path d="M-7.8,0 Q0,-8.1 7.8,0 Q0,8.1 -7.8,0Z" fill="#45423c" transform="translate(56.4 304.7) rotate(98)"/>
<path d="M-7.0,0 Q0,-7.6 7.0,0 Q0,7.6 -7.0,0Z" fill="#807a84" transform="translate(67.4 304.3) rotate(30)"/>
<path d="M-7.9,0 Q0,-6.2 7.9,0 Q0,6.2 -7.9,0Z" fill="#5e5e5a" transform="translate(92.2 357.9) rotate(115)"/>
<path d="M-9.7,0 Q0,-4.7 9.7,0 Q0,4.7 -9.7,0Z" fill="#7a664e" transform="translate(138.1 351.9) rotate(109)"/>
<path d="M-5.3,0 Q0,-6.2 5.3,0 Q0,6.2 -5.3,0Z" fill="#94806a" transform="translate(76.5 348.5) rotate(67)"/>
<path d="M-6.7,0 Q0,-7.2 6.7,0 Q0,7.2 -6.7,0Z" fill="#1f1f1f" transform="translate(92.2 303.8) rotate(45)"/>
<path d="M-9.5,0 Q0,-4.6 9.5,0 Q0,4.6 -9.5,0Z" fill="#5c4c3e" transform="translate(25.4 400.0) rotate(139)"/>
<path d="M-9.5,0 Q0,-6.5 9.5,0 Q0,6.5 -9.5,0Z" fill="#4e504e" transform="translate(144.7 323.9) rotate(22)"/>
<path d="M-10.9,0 Q0,-4.4 10.9,0 Q0,4.4 -10.9,0Z" fill="#c9c2ae" transform="translate(174.8 358.6) rotate(120)"/>
<path d="M-9.2,0 Q0,-7.6 9.2,0 Q0,7.6 -9.2,0Z" fill="#1f1f1f" transform="translate(145.8 372.9) rotate(167)"/>
<path d="M-9.9,0 Q0,-8.0 9.9,0 Q0,8.0 -9.9,0Z" fill="#6b5a48" transform="translate(131.3 408.5) rotate(43)"/>
<path d="M-8.9,0 Q0,-6.8 8.9,0 Q0,6.8 -8.9,0Z" fill="#5c4c3e" transform="translate(102.3 345.3) rotate(110)"/>
<path d="M-7.1,0 Q0,-6.1 7.1,0 Q0,6.1 -7.1,0Z" fill="#4f8450" transform="translate(19.9 337.8) rotate(74)"/>
<path d="M-7.0,0 Q0,-7.4 7.0,0 Q0,7.4 -7.0,0Z" fill="#2b2a28" transform="translate(118.6 310.9) rotate(62)"/>
<path d="M-8.7,0 Q0,-4.6 8.7,0 Q0,4.6 -8.7,0Z" fill="#777378" transform="translate(179.8 406.5) rotate(91)"/>
<path d="M-5.4,0 Q0,-5.6 5.4,0 Q0,5.6 -5.4,0Z" fill="#8a7458" transform="translate(177.9 414.0) rotate(128)"/>
<path d="M-5.8,0 Q0,-3.2 5.8,0 Q0,3.2 -5.8,0Z" fill="#bdb9aa" transform="translate(72.4 430.0) rotate(55)"/>
<path d="M-5.3,0 Q0,-7.3 5.3,0 Q0,7.3 -5.3,0Z" fill="#33302e" transform="translate(110.3 366.0) rotate(130)"/>
<path d="M-4.9,0 Q0,-8.7 4.9,0 Q0,8.7 -4.9,0Z" fill="#6b5a48" transform="translate(124.7 415.6) rotate(139)"/>
<path d="M-8.0,0 Q0,-6.5 8.0,0 Q0,6.5 -8.0,0Z" fill="#94806a" transform="translate(56.0 323.4) rotate(113)"/>
<path d="M-6.1,0 Q0,-4.4 6.1,0 Q0,4.4 -6.1,0Z" fill="#5c4c3e" transform="translate(61.0 432.3) rotate(11)"/>
<path d="M-5.3,0 Q0,-8.3 5.3,0 Q0,8.3 -5.3,0Z" fill="#33302e" transform="translate(91.3 363.3) rotate(57)"/>
<path d="M-6.3,0 Q0,-6.3 6.3,0 Q0,6.3 -6.3,0Z" fill="#6b5a48" transform="translate(83.0 403.7) rotate(48)"/>
<path d="M-9.3,0 Q0,-6.1 9.3,0 Q0,6.1 -9.3,0Z" fill="#45423c" transform="translate(52.6 306.7) rotate(173)"/>
<path d="M-7.2,0 Q0,-6.6 7.2,0 Q0,6.6 -7.2,0Z" fill="#3a3834" transform="translate(191.1 397.9) rotate(90)"/>
<path d="M-8.6,0 Q0,-2.3 8.6,0 Q0,2.3 -8.6,0Z" fill="#d0cdc0" transform="translate(193.4 366.4) rotate(152)"/>
<path d="M-6.9,0 Q0,-8.4 6.9,0 Q0,8.4 -6.9,0Z" fill="#2b2a28" transform="translate(138.3 334.3) rotate(131)"/>
<path d="M-7.6,0 Q0,-5.8 7.6,0 Q0,5.8 -7.6,0Z" fill="#33302e" transform="translate(156.8 346.0) rotate(52)"/>
<path d="M-8.2,0 Q0,-4.6 8.2,0 Q0,4.6 -8.2,0Z" fill="#94806a" transform="translate(80.5 358.4) rotate(176)"/>
<path d="M-8.7,0 Q0,-5.0 8.7,0 Q0,5.0 -8.7,0Z" fill="#1f1f1f" transform="translate(82.1 408.7) rotate(92)"/>
<path d="M-8.9,0 Q0,-6.6 8.9,0 Q0,6.6 -8.9,0Z" fill="#1f1f1f" transform="translate(103.5 299.2) rotate(27)"/>
<path d="M-8.6,0 Q0,-5.5 8.6,0 Q0,5.5 -8.6,0Z" fill="#33302e" transform="translate(190.6 339.1) rotate(61)"/>
<path d="M-7.1,0 Q0,-4.1 7.1,0 Q0,4.1 -7.1,0Z" fill="#807a84" transform="translate(169.8 370.3) rotate(60)"/>
<path d="M-9.3,0 Q0,-7.1 9.3,0 Q0,7.1 -9.3,0Z" fill="#27282a" transform="translate(24.6 353.4) rotate(107)"/>
<path d="M-6.0,0 Q0,-3.3 6.0,0 Q0,3.3 -6.0,0Z" fill="#989486" transform="translate(56.1 388.3) rotate(113)"/>
<path d="M-5.8,0 Q0,-6.9 5.8,0 Q0,6.9 -5.8,0Z" fill="#27282a" transform="translate(127.7 415.4) rotate(126)"/>
<path d="M-8.3,0 Q0,-6.1 8.3,0 Q0,6.1 -8.3,0Z" fill="#45423c" transform="translate(41.0 357.0) rotate(139)"/>
<path d="M-7.6,0 Q0,-9.0 7.6,0 Q0,9.0 -7.6,0Z" fill="#3a3834" transform="translate(151.1 301.7) rotate(86)"/>
<path d="M-6.4,0 Q0,-5.8 6.4,0 Q0,5.8 -6.4,0Z" fill="#94806a" transform="translate(78.6 432.3) rotate(139)"/>
<path d="M-7.2,0 Q0,-8.8 7.2,0 Q0,8.8 -7.2,0Z" fill="#5e5e5a" transform="translate(148.1 386.5) rotate(50)"/>
<path d="M-8.4,0 Q0,-7.5 8.4,0 Q0,7.5 -8.4,0Z" fill="#6aa862" transform="translate(62.8 430.1) rotate(88)"/>
<path d="M-10.4,0 Q0,-3.1 10.4,0 Q0,3.1 -10.4,0Z" fill="#a8a496" transform="translate(99.4 374.4) rotate(71)"/>
<path d="M-6.1,0 Q0,-7.6 6.1,0 Q0,7.6 -6.1,0Z" fill="#2b2a28" transform="translate(72.2 405.5) rotate(62)"/>
<path d="M-9.1,0 Q0,-5.4 9.1,0 Q0,5.4 -9.1,0Z" fill="#7a664e" transform="translate(91.9 330.0) rotate(101)"/>
<path d="M-5.8,0 Q0,-7.3 5.8,0 Q0,7.3 -5.8,0Z" fill="#524e56" transform="translate(57.4 308.5) rotate(96)"/>
<path d="M-7.1,0 Q0,-7.4 7.1,0 Q0,7.4 -7.1,0Z" fill="#27282a" transform="translate(131.4 300.3) rotate(25)"/>
<path d="M-6.9,0 Q0,-4.4 6.9,0 Q0,4.4 -6.9,0Z" fill="#c9c2ae" transform="translate(34.4 387.9) rotate(116)"/>
<path d="M-9.5,0 Q0,-4.9 9.5,0 Q0,4.9 -9.5,0Z" fill="#66606a" transform="translate(118.5 370.7) rotate(159)"/>
<path d="M-5.6,0 Q0,-3.2 5.6,0 Q0,3.2 -5.6,0Z" fill="#a8a496" transform="translate(102.6 429.3) rotate(177)"/>
<path d="M-6.0,0 Q0,-1.8 6.0,0 Q0,1.8 -6.0,0Z" fill="#989486" transform="translate(112.2 364.7) rotate(83)"/>
<path d="M-6.1,0 Q0,-7.4 6.1,0 Q0,7.4 -6.1,0Z" fill="#7c7c76" transform="translate(54.5 319.8) rotate(35)"/>
<path d="M-7.3,0 Q0,-4.4 7.3,0 Q0,4.4 -7.3,0Z" fill="#45423c" transform="translate(125.9 385.9) rotate(120)"/>
<path d="M-4.5,0 Q0,-5.9 4.5,0 Q0,5.9 -4.5,0Z" fill="#3a3834" transform="translate(39.8 313.1) rotate(80)"/>
<path d="M-4.6,0 Q0,-7.3 4.6,0 Q0,7.3 -4.6,0Z" fill="#5e5e5a" transform="translate(56.4 340.7) rotate(125)"/>
<path d="M-8.3,0 Q0,-7.2 8.3,0 Q0,7.2 -8.3,0Z" fill="#8a7458" transform="translate(64.5 351.8) rotate(169)"/>
<path d="M-7.5,0 Q0,-3.3 7.5,0 Q0,3.3 -7.5,0Z" fill="#c9c2ae" transform="translate(76.7 324.8) rotate(99)"/>
<path d="M-8.7,0 Q0,-7.4 8.7,0 Q0,7.4 -8.7,0Z" fill="#524e56" transform="translate(97.6 371.1) rotate(107)"/>
<path d="M-4.9,0 Q0,-6.8 4.9,0 Q0,6.8 -4.9,0Z" fill="#8a7458" transform="translate(161.5 369.3) rotate(11)"/>
<path d="M-5.4,0 Q0,-8.3 5.4,0 Q0,8.3 -5.4,0Z" fill="#7a664e" transform="translate(113.1 366.4) rotate(80)"/>
<path d="M-7.0,0 Q0,-4.3 7.0,0 Q0,4.3 -7.0,0Z" fill="#94806a" transform="translate(139.9 397.3) rotate(24)"/>
<path d="M-8.5,0 Q0,-6.0 8.5,0 Q0,6.0 -8.5,0Z" fill="#8a7458" transform="translate(86.4 374.9) rotate(147)"/>
<path d="M-8.4,0 Q0,-6.7 8.4,0 Q0,6.7 -8.4,0Z" fill="#1f1f1f" transform="translate(153.2 377.0) rotate(11)"/>
<path d="M-8.7,0 Q0,-8.9 8.7,0 Q0,8.9 -8.7,0Z" fill="#3a3834" transform="translate(97.9 334.5) rotate(116)"/>
<path d="M-6.6,0 Q0,-7.4 6.6,0 Q0,7.4 -6.6,0Z" fill="#45423c" transform="translate(87.4 437.6) rotate(119)"/>
<path d="M-10.0,0 Q0,-6.0 10.0,0 Q0,6.0 -10.0,0Z" fill="#3a3834" transform="translate(111.4 388.0) rotate(23)"/>
<path d="M-9.0,0 Q0,-5.2 9.0,0 Q0,5.2 -9.0,0Z" fill="#45423c" transform="translate(96.0 397.6) rotate(62)"/>
<path d="M-4.7,0 Q0,-7.3 4.7,0 Q0,7.3 -4.7,0Z" fill="#5a585e" transform="translate(58.2 429.5) rotate(111)"/>
<path d="M-7.8,0 Q0,-7.5 7.8,0 Q0,7.5 -7.8,0Z" fill="#4e504e" transform="translate(51.1 302.4) rotate(9)"/>
<path d="M-8.6,0 Q0,-7.9 8.6,0 Q0,7.9 -8.6,0Z" fill="#3a3834" transform="translate(152.1 351.3) rotate(25)"/>
<path d="M-5.8,0 Q0,-8.4 5.8,0 Q0,8.4 -5.8,0Z" fill="#8a7458" transform="translate(187.6 376.7) rotate(177)"/>
<path d="M-9.7,0 Q0,-8.4 9.7,0 Q0,8.4 -9.7,0Z" fill="#33302e" transform="translate(107.8 353.0) rotate(164)"/>
<path d="M-9.7,0 Q0,-7.4 9.7,0 Q0,7.4 -9.7,0Z" fill="#8a7458" transform="translate(129.0 355.0) rotate(141)"/>
<path d="M-5.5,0 Q0,-6.7 5.5,0 Q0,6.7 -5.5,0Z" fill="#45423c" transform="translate(66.9 353.4) rotate(43)"/>
<path d="M-9.5,0 Q0,-6.8 9.5,0 Q0,6.8 -9.5,0Z" fill="#45423c" transform="translate(48.0 417.8) rotate(174)"/>
<path d="M-6.3,0 Q0,-4.4 6.3,0 Q0,4.4 -6.3,0Z" fill="#3a3834" transform="translate(115.1 312.2) rotate(81)"/>
<path d="M-6.0,0 Q0,-7.4 6.0,0 Q0,7.4 -6.0,0Z" fill="#66606a" transform="translate(77.5 370.8) rotate(109)"/>
<path d="M-8.2,0 Q0,-5.1 8.2,0 Q0,5.1 -8.2,0Z" fill="#4e504e" transform="translate(179.0 320.1) rotate(38)"/>
<path d="M-11.0,0 Q0,-1.9 11.0,0 Q0,1.9 -11.0,0Z" fill="#d0cdc0" transform="translate(185.7 336.9) rotate(86)"/>
<path d="M-7.5,0 Q0,-7.9 7.5,0 Q0,7.9 -7.5,0Z" fill="#3a3834" transform="translate(51.5 380.8) rotate(69)"/>
<path d="M-9.4,0 Q0,-6.3 9.4,0 Q0,6.3 -9.4,0Z" fill="#33302e" transform="translate(110.3 345.1) rotate(145)"/>
<path d="M-6.5,0 Q0,-6.1 6.5,0 Q0,6.1 -6.5,0Z" fill="#3a3834" transform="translate(148.4 403.8) rotate(101)"/>
<path d="M-7.7,0 Q0,-6.1 7.7,0 Q0,6.1 -7.7,0Z" fill="#33302e" transform="translate(47.2 313.9) rotate(27)"/>
<path d="M-9.6,0 Q0,-2.5 9.6,0 Q0,2.5 -9.6,0Z" fill="#c9c2ae" transform="translate(69.1 348.1) rotate(88)"/>
<path d="M-5.4,0 Q0,-7.6 5.4,0 Q0,7.6 -5.4,0Z" fill="#8a7458" transform="translate(148.7 400.6) rotate(88)"/>
<path d="M-7.4,0 Q0,-8.2 7.4,0 Q0,8.2 -7.4,0Z" fill="#66606a" transform="translate(187.7 371.8) rotate(13)"/>
<path d="M-7.3,0 Q0,-5.9 7.3,0 Q0,5.9 -7.3,0Z" fill="#3a3834" transform="translate(129.9 302.5) rotate(111)"/>
<path d="M-4.6,0 Q0,-6.7 4.6,0 Q0,6.7 -4.6,0Z" fill="#5c4c3e" transform="translate(137.2 382.6) rotate(74)"/>
<path d="M-8.9,0 Q0,-8.5 8.9,0 Q0,8.5 -8.9,0Z" fill="#5c4c3e" transform="translate(110.7 334.5) rotate(19)"/>
<path d="M-8.9,0 Q0,-4.4 8.9,0 Q0,4.4 -8.9,0Z" fill="#807a84" transform="translate(41.3 369.5) rotate(173)"/>
<path d="M-8.3,0 Q0,-8.2 8.3,0 Q0,8.2 -8.3,0Z" fill="#807a84" transform="translate(95.2 328.1) rotate(118)"/>
<path d="M-6.6,0 Q0,-6.4 6.6,0 Q0,6.4 -6.6,0Z" fill="#45423c" transform="translate(175.9 403.5) rotate(115)"/>
<path d="M-8.2,0 Q0,-1.8 8.2,0 Q0,1.8 -8.2,0Z" fill="#a8a496" transform="translate(144.5 304.7) rotate(8)"/>
<path d="M-6.7,0 Q0,-3.6 6.7,0 Q0,3.6 -6.7,0Z" fill="#c9c2ae" transform="translate(45.2 419.3) rotate(98)"/>
<path d="M-9.3,0 Q0,-3.8 9.3,0 Q0,3.8 -9.3,0Z" fill="#bdb9aa" transform="translate(135.4 318.8) rotate(72)"/>
<path d="M-6.3,0 Q0,-7.8 6.3,0 Q0,7.8 -6.3,0Z" fill="#33302e" transform="translate(51.1 414.5) rotate(25)"/>
<path d="M-5.8,0 Q0,-4.4 5.8,0 Q0,4.4 -5.8,0Z" fill="#45423c" transform="translate(103.7 434.9) rotate(109)"/>
<path d="M-7.9,0 Q0,-4.5 7.9,0 Q0,4.5 -7.9,0Z" fill="#a8a496" transform="translate(126.5 379.6) rotate(64)"/>
<path d="M-6.6,0 Q0,-7.9 6.6,0 Q0,7.9 -6.6,0Z" fill="#6e6e6a" transform="translate(192.6 355.6) rotate(53)"/>
<path d="M-8.4,0 Q0,-7.2 8.4,0 Q0,7.2 -8.4,0Z" fill="#45423c" transform="translate(52.3 303.3) rotate(133)"/>
<path d="M-6.9,0 Q0,-7.8 6.9,0 Q0,7.8 -6.9,0Z" fill="#1f1f1f" transform="translate(66.5 308.2) rotate(18)"/>
<path d="M-6.7,0 Q0,-4.1 6.7,0 Q0,4.1 -6.7,0Z" fill="#94806a" transform="translate(20.1 355.5) rotate(64)"/>
<path d="M-4.6,0 Q0,-6.1 4.6,0 Q0,6.1 -4.6,0Z" fill="#45423c" transform="translate(21.3 379.9) rotate(140)"/>
<path d="M-7.6,0 Q0,-4.8 7.6,0 Q0,4.8 -7.6,0Z" fill="#5f9a58" transform="translate(148.9 374.3) rotate(69)"/>
<path d="M-5.4,0 Q0,-5.4 5.4,0 Q0,5.4 -5.4,0Z" fill="#6b5a48" transform="translate(30.5 336.6) rotate(54)"/>
<path d="M-6.8,0 Q0,-1.8 6.8,0 Q0,1.8 -6.8,0Z" fill="#c9c2ae" transform="translate(160.6 345.3) rotate(171)"/>
<path d="M-6.9,0 Q0,-6.2 6.9,0 Q0,6.2 -6.9,0Z" fill="#5e5e5a" transform="translate(69.6 383.1) rotate(148)"/>
<path d="M-9.7,0 Q0,-5.0 9.7,0 Q0,5.0 -9.7,0Z" fill="#33302e" transform="translate(134.0 379.4) rotate(57)"/>
<path d="M-8.8,0 Q0,-5.6 8.8,0 Q0,5.6 -8.8,0Z" fill="#94806a" transform="translate(61.4 394.1) rotate(50)"/>
<path d="M-8.3,0 Q0,-3.5 8.3,0 Q0,3.5 -8.3,0Z" fill="#d0cdc0" transform="translate(161.2 345.9) rotate(172)"/>
<path d="M-9.1,0 Q0,-4.3 9.1,0 Q0,4.3 -9.1,0Z" fill="#1f1f1f" transform="translate(95.7 396.0) rotate(153)"/>
<path d="M-5.8,0 Q0,-7.3 5.8,0 Q0,7.3 -5.8,0Z" fill="#1f1f1f" transform="translate(163.1 390.9) rotate(129)"/>
<path d="M-9.6,0 Q0,-8.3 9.6,0 Q0,8.3 -9.6,0Z" fill="#33302e" transform="translate(202.6 362.6) rotate(75)"/>
<path d="M-5.1,0 Q0,-5.2 5.1,0 Q0,5.2 -5.1,0Z" fill="#5a585e" transform="translate(144.2 411.2) rotate(120)"/>
<path d="M-9.8,0 Q0,-5.7 9.8,0 Q0,5.7 -9.8,0Z" fill="#5c4c3e" transform="translate(36.1 382.1) rotate(143)"/>
<path d="M-5.7,0 Q0,-5.9 5.7,0 Q0,5.9 -5.7,0Z" fill="#94806a" transform="translate(47.3 401.6) rotate(83)"/>
<path d="M-7.2,0 Q0,-5.5 7.2,0 Q0,5.5 -7.2,0Z" fill="#2b2a28" transform="translate(139.8 393.4) rotate(166)"/>
<path d="M-7.4,0 Q0,-5.7 7.4,0 Q0,5.7 -7.4,0Z" fill="#3a3834" transform="translate(150.0 343.5) rotate(18)"/>
<path d="M-9.0,0 Q0,-4.6 9.0,0 Q0,4.6 -9.0,0Z" fill="#2b2a28" transform="translate(148.3 358.7) rotate(153)"/>
<path d="M-5.8,0 Q0,-4.9 5.8,0 Q0,4.9 -5.8,0Z" fill="#27282a" transform="translate(133.4 391.5) rotate(29)"/>
<path d="M-8.0,0 Q0,-4.9 8.0,0 Q0,4.9 -8.0,0Z" fill="#45423c" transform="translate(115.6 432.5) rotate(118)"/>
<path d="M-6.2,0 Q0,-3.6 6.2,0 Q0,3.6 -6.2,0Z" fill="#c9c2ae" transform="translate(82.4 400.3) rotate(135)"/>
<path d="M-8.2,0 Q0,-6.4 8.2,0 Q0,6.4 -8.2,0Z" fill="#8a7458" transform="translate(40.3 340.2) rotate(174)"/>
<path d="M-6.4,0 Q0,-8.2 6.4,0 Q0,8.2 -6.4,0Z" fill="#2b2a28" transform="translate(65.8 349.3) rotate(111)"/>
<path d="M-7.7,0 Q0,-7.4 7.7,0 Q0,7.4 -7.7,0Z" fill="#33302e" transform="translate(166.9 395.7) rotate(56)"/>
<path d="M-7.3,0 Q0,-6.1 7.3,0 Q0,6.1 -7.3,0Z" fill="#3a3834" transform="translate(50.7 309.7) rotate(25)"/>
<path d="M-9.6,0 Q0,-8.7 9.6,0 Q0,8.7 -9.6,0Z" fill="#4e504e" transform="translate(80.0 319.7) rotate(31)"/>
<path d="M-7.9,0 Q0,-8.3 7.9,0 Q0,8.3 -7.9,0Z" fill="#45423c" transform="translate(36.2 334.8) rotate(171)"/>
<path d="M-7.3,0 Q0,-6.5 7.3,0 Q0,6.5 -7.3,0Z" fill="#33302e" transform="translate(100.4 321.1) rotate(123)"/>
<path d="M-7.6,0 Q0,-8.0 7.6,0 Q0,8.0 -7.6,0Z" fill="#6b5a48" transform="translate(86.5 415.2) rotate(40)"/>
<path d="M-7.5,0 Q0,-4.6 7.5,0 Q0,4.6 -7.5,0Z" fill="#5c4c3e" transform="translate(60.8 406.6) rotate(21)"/>
<path d="M-8.7,0 Q0,-6.2 8.7,0 Q0,6.2 -8.7,0Z" fill="#2b2a28" transform="translate(159.1 412.8) rotate(39)"/>
<path d="M-6.1,0 Q0,-9.0 6.1,0 Q0,9.0 -6.1,0Z" fill="#524e56" transform="translate(88.4 400.1) rotate(81)"/>
<path d="M-8.8,0 Q0,-5.2 8.8,0 Q0,5.2 -8.8,0Z" fill="#2b2a28" transform="translate(72.9 411.8) rotate(146)"/>
<path d="M-6.9,0 Q0,-7.1 6.9,0 Q0,7.1 -6.9,0Z" fill="#6e6e6a" transform="translate(121.3 343.8) rotate(141)"/>
<path d="M-6.0,0 Q0,-6.7 6.0,0 Q0,6.7 -6.0,0Z" fill="#94806a" transform="translate(166.8 410.2) rotate(58)"/>
<path d="M-9.9,0 Q0,-7.4 9.9,0 Q0,7.4 -9.9,0Z" fill="#33302e" transform="translate(144.7 334.8) rotate(17)"/>
<path d="M-8.7,0 Q0,-7.4 8.7,0 Q0,7.4 -8.7,0Z" fill="#524e56" transform="translate(177.4 329.1) rotate(88)"/>
<path d="M-4.9,0 Q0,-8.0 4.9,0 Q0,8.0 -4.9,0Z" fill="#45423c" transform="translate(119.1 331.8) rotate(138)"/>
<path d="M-7.0,0 Q0,-6.4 7.0,0 Q0,6.4 -7.0,0Z" fill="#5e5e5a" transform="translate(83.9 402.1) rotate(105)"/>
<path d="M-8.0,0 Q0,-4.0 8.0,0 Q0,4.0 -8.0,0Z" fill="#989486" transform="translate(130.7 394.4) rotate(58)"/>
<path d="M-8.8,0 Q0,-8.5 8.8,0 Q0,8.5 -8.8,0Z" fill="#45423c" transform="translate(59.8 372.5) rotate(137)"/>
<path d="M-5.0,0 Q0,-2.8 5.0,0 Q0,2.8 -5.0,0Z" fill="#bdb9aa" transform="translate(11.8 384.0) rotate(172)"/>
<path d="M-6.2,0 Q0,-8.4 6.2,0 Q0,8.4 -6.2,0Z" fill="#27282a" transform="translate(43.4 393.1) rotate(158)"/>
<path d="M-9.5,0 Q0,-4.8 9.5,0 Q0,4.8 -9.5,0Z" fill="#27282a" transform="translate(21.4 345.2) rotate(71)"/>
<path d="M-5.0,0 Q0,-4.5 5.0,0 Q0,4.5 -5.0,0Z" fill="#27282a" transform="translate(64.2 394.7) rotate(38)"/>
<path d="M-4.6,0 Q0,-7.5 4.6,0 Q0,7.5 -4.6,0Z" fill="#5c4c3e" transform="translate(18.2 379.3) rotate(147)"/>
<path d="M-5.8,0 Q0,-4.4 5.8,0 Q0,4.4 -5.8,0Z" fill="#2b2a28" transform="translate(202.1 354.3) rotate(145)"/>
<path d="M-8.8,0 Q0,-7.8 8.8,0 Q0,7.8 -8.8,0Z" fill="#45423c" transform="translate(23.3 346.3) rotate(24)"/>
<path d="M-6.4,0 Q0,-5.1 6.4,0 Q0,5.1 -6.4,0Z" fill="#4e504e" transform="translate(109.7 293.8) rotate(135)"/>
<path d="M-5.0,0 Q0,-4.5 5.0,0 Q0,4.5 -5.0,0Z" fill="#7a664e" transform="translate(188.3 382.5) rotate(135)"/>
<path d="M-6.5,0 Q0,-3.4 6.5,0 Q0,3.4 -6.5,0Z" fill="#a8a496" transform="translate(121.6 348.7) rotate(108)"/>
<path d="M-8.1,0 Q0,-2.4 8.1,0 Q0,2.4 -8.1,0Z" fill="#bdb9aa" transform="translate(148.2 334.2) rotate(92)"/>
<path d="M-7.2,0 Q0,-4.6 7.2,0 Q0,4.6 -7.2,0Z" fill="#3a3834" transform="translate(153.6 335.7) rotate(90)"/>
<path d="M-9.6,0 Q0,-4.7 9.6,0 Q0,4.7 -9.6,0Z" fill="#6aa862" transform="translate(122.5 369.7) rotate(155)"/>
<path d="M-7.1,0 Q0,-8.9 7.1,0 Q0,8.9 -7.1,0Z" fill="#7c7c76" transform="translate(117.3 346.0) rotate(13)"/>
<path d="M-9.7,0 Q0,-6.0 9.7,0 Q0,6.0 -9.7,0Z" fill="#2b2a28" transform="translate(121.1 294.6) rotate(52)"/>
<path d="M-5.0,0 Q0,-6.7 5.0,0 Q0,6.7 -5.0,0Z" fill="#45423c" transform="translate(146.5 404.6) rotate(111)"/>
<path d="M-9.9,0 Q0,-4.8 9.9,0 Q0,4.8 -9.9,0Z" fill="#7a664e" transform="translate(58.5 337.8) rotate(59)"/>
<path d="M-4.9,0 Q0,-7.5 4.9,0 Q0,7.5 -4.9,0Z" fill="#6e6e6a" transform="translate(121.0 404.0) rotate(131)"/>
<path d="M-4.8,0 Q0,-7.3 4.8,0 Q0,7.3 -4.8,0Z" fill="#94806a" transform="translate(19.9 356.0) rotate(118)"/>
<path d="M-5.4,0 Q0,-4.6 5.4,0 Q0,4.6 -5.4,0Z" fill="#8a7458" transform="translate(102.8 343.2) rotate(141)"/>
<path d="M-6.3,0 Q0,-6.1 6.3,0 Q0,6.1 -6.3,0Z" fill="#66606a" transform="translate(56.8 422.0) rotate(94)"/>
<path d="M-7.2,0 Q0,-6.8 7.2,0 Q0,6.8 -7.2,0Z" fill="#6b5a48" transform="translate(129.3 365.0) rotate(66)"/>
<path d="M-5.8,0 Q0,-6.5 5.8,0 Q0,6.5 -5.8,0Z" fill="#6b5a48" transform="translate(54.0 307.6) rotate(8)"/>
<path d="M-9.6,0 Q0,-4.9 9.6,0 Q0,4.9 -9.6,0Z" fill="#5c4c3e" transform="translate(176.8 328.3) rotate(173)"/>
<path d="M-6.8,0 Q0,-7.6 6.8,0 Q0,7.6 -6.8,0Z" fill="#3a3834" transform="translate(146.7 388.3) rotate(49)"/>
<path d="M-5.5,0 Q0,-8.0 5.5,0 Q0,8.0 -5.5,0Z" fill="#6b5a48" transform="translate(18.2 347.0) rotate(177)"/>
<path d="M-6.7,0 Q0,-2.6 6.7,0 Q0,2.6 -6.7,0Z" fill="#a8a496" transform="translate(96.4 333.8) rotate(141)"/>
<path d="M-10.0,0 Q0,-7.9 10.0,0 Q0,7.9 -10.0,0Z" fill="#45423c" transform="translate(151.9 328.0) rotate(132)"/>
<path d="M-4.6,0 Q0,-6.7 4.6,0 Q0,6.7 -4.6,0Z" fill="#45423c" transform="translate(112.9 408.8) rotate(114)"/>
<path d="M-8.5,0 Q0,-4.5 8.5,0 Q0,4.5 -8.5,0Z" fill="#27282a" transform="translate(70.2 403.4) rotate(95)"/>
<path d="M-8.4,0 Q0,-4.5 8.4,0 Q0,4.5 -8.4,0Z" fill="#3a3834" transform="translate(50.6 364.4) rotate(166)"/>
<path d="M-7.0,0 Q0,-7.7 7.0,0 Q0,7.7 -7.0,0Z" fill="#5e5e5a" transform="translate(183.8 368.5) rotate(105)"/>
<path d="M-7.6,0 Q0,-6.2 7.6,0 Q0,6.2 -7.6,0Z" fill="#33302e" transform="translate(104.6 385.6) rotate(174)"/>
<path d="M-8.4,0 Q0,-7.7 8.4,0 Q0,7.7 -8.4,0Z" fill="#45423c" transform="translate(50.3 330.7) rotate(57)"/>
<path d="M-5.1,0 Q0,-4.5 5.1,0 Q0,4.5 -5.1,0Z" fill="#33302e" transform="translate(57.4 303.5) rotate(81)"/>
<path d="M-7.0,0 Q0,-6.3 7.0,0 Q0,6.3 -7.0,0Z" fill="#3a3834" transform="translate(65.9 310.2) rotate(153)"/>
<path d="M-9.1,0 Q0,-5.6 9.1,0 Q0,5.6 -9.1,0Z" fill="#524e56" transform="translate(64.0 395.5) rotate(16)"/>
<path d="M-5.9,0 Q0,-9.0 5.9,0 Q0,9.0 -5.9,0Z" fill="#8a7458" transform="translate(52.6 344.5) rotate(6)"/>
<path d="M-5.0,0 Q0,-4.5 5.0,0 Q0,4.5 -5.0,0Z" fill="#524e56" transform="translate(84.2 358.6) rotate(143)"/>
<path d="M-6.5,0 Q0,-7.2 6.5,0 Q0,7.2 -6.5,0Z" fill="#45423c" transform="translate(160.3 325.1) rotate(116)"/>
<path d="M-10.0,0 Q0,-5.0 10.0,0 Q0,5.0 -10.0,0Z" fill="#66606a" transform="translate(120.1 330.4) rotate(116)"/>
<path d="M-4.8,0 Q0,-8.6 4.8,0 Q0,8.6 -4.8,0Z" fill="#45423c" transform="translate(173.6 410.7) rotate(78)"/>
<path d="M-5.5,0 Q0,-5.1 5.5,0 Q0,5.1 -5.5,0Z" fill="#45423c" transform="translate(148.8 365.0) rotate(34)"/>
<path d="M-7.9,0 Q0,-7.2 7.9,0 Q0,7.2 -7.9,0Z" fill="#33302e" transform="translate(59.0 421.6) rotate(90)"/>
<path d="M-5.3,0 Q0,-5.0 5.3,0 Q0,5.0 -5.3,0Z" fill="#45423c" transform="translate(180.8 362.5) rotate(159)"/>
<path d="M-4.6,0 Q0,-5.9 4.6,0 Q0,5.9 -4.6,0Z" fill="#7c7c76" transform="translate(108.7 384.7) rotate(128)"/>
<path d="M-7.3,0 Q0,-5.9 7.3,0 Q0,5.9 -7.3,0Z" fill="#33302e" transform="translate(99.4 406.7) rotate(32)"/>
<path d="M-9.6,0 Q0,-3.1 9.6,0 Q0,3.1 -9.6,0Z" fill="#a8a496" transform="translate(66.9 324.6) rotate(180)"/>
<path d="M-4.8,0 Q0,-9.0 4.8,0 Q0,9.0 -4.8,0Z" fill="#4e504e" transform="translate(135.2 331.5) rotate(39)"/>
<path d="M-5.5,0 Q0,-7.0 5.5,0 Q0,7.0 -5.5,0Z" fill="#3a3834" transform="translate(173.5 409.0) rotate(145)"/>
<path d="M-6.4,0 Q0,-6.8 6.4,0 Q0,6.8 -6.4,0Z" fill="#27282a" transform="translate(143.4 426.0) rotate(26)"/>
<path d="M-5.8,0 Q0,-5.1 5.8,0 Q0,5.1 -5.8,0Z" fill="#2b2a28" transform="translate(112.0 318.2) rotate(95)"/>
<path d="M-9.1,0 Q0,-5.6 9.1,0 Q0,5.6 -9.1,0Z" fill="#7c7c76" transform="translate(43.2 311.7) rotate(4)"/>
<path d="M-9.2,0 Q0,-8.8 9.2,0 Q0,8.8 -9.2,0Z" fill="#7c7c76" transform="translate(121.0 426.5) rotate(67)"/>
<path d="M-6.3,0 Q0,-8.9 6.3,0 Q0,8.9 -6.3,0Z" fill="#1f1f1f" transform="translate(192.8 350.4) rotate(132)"/>
<path d="M-5.5,0 Q0,-8.8 5.5,0 Q0,8.8 -5.5,0Z" fill="#8a7458" transform="translate(90.7 385.9) rotate(125)"/>
<path d="M-8.5,0 Q0,-5.5 8.5,0 Q0,5.5 -8.5,0Z" fill="#1f1f1f" transform="translate(47.6 378.6) rotate(32)"/>
<path d="M-4.7,0 Q0,-7.0 4.7,0 Q0,7.0 -4.7,0Z" fill="#5e5e5a" transform="translate(118.2 416.8) rotate(166)"/>
<path d="M-4.9,0 Q0,-5.7 4.9,0 Q0,5.7 -4.9,0Z" fill="#27282a" transform="translate(116.7 429.4) rotate(58)"/>
<path d="M-8.0,0 Q0,-8.4 8.0,0 Q0,8.4 -8.0,0Z" fill="#6e6e6a" transform="translate(131.0 433.2) rotate(80)"/>
<path d="M-8.8,0 Q0,-7.6 8.8,0 Q0,7.6 -8.8,0Z" fill="#1f1f1f" transform="translate(56.1 329.0) rotate(9)"/>
<path d="M-7.2,0 Q0,-5.9 7.2,0 Q0,5.9 -7.2,0Z" fill="#45423c" transform="translate(91.0 353.9) rotate(98)"/>
<path d="M-6.8,0 Q0,-4.0 6.8,0 Q0,4.0 -6.8,0Z" fill="#d0cdc0" transform="translate(23.0 362.6) rotate(57)"/>
<path d="M-9.7,0 Q0,-8.9 9.7,0 Q0,8.9 -9.7,0Z" fill="#7c7c76" transform="translate(36.9 347.4) rotate(61)"/>
<path d="M-9.4,0 Q0,-4.8 9.4,0 Q0,4.8 -9.4,0Z" fill="#5e5e5a" transform="translate(144.8 355.6) rotate(18)"/>
<path d="M-9.6,0 Q0,-6.7 9.6,0 Q0,6.7 -9.6,0Z" fill="#4e504e" transform="translate(44.0 320.3) rotate(119)"/>
<path d="M-9.1,0 Q0,-4.8 9.1,0 Q0,4.8 -9.1,0Z" fill="#33302e" transform="translate(62.6 306.6) rotate(65)"/>
<path d="M-7.1,0 Q0,-4.5 7.1,0 Q0,4.5 -7.1,0Z" fill="#5e5e5a" transform="translate(88.9 335.6) rotate(37)"/>
<path d="M-6.2,0 Q0,-6.0 6.2,0 Q0,6.0 -6.2,0Z" fill="#6b5a48" transform="translate(131.4 435.3) rotate(88)"/>
<path d="M-6.5,0 Q0,-5.9 6.5,0 Q0,5.9 -6.5,0Z" fill="#7a664e" transform="translate(136.0 305.9) rotate(34)"/>
<path d="M-7.6,0 Q0,-4.8 7.6,0 Q0,4.8 -7.6,0Z" fill="#1f1f1f" transform="translate(11.5 356.8) rotate(125)"/>
<path d="M-9.8,0 Q0,-6.9 9.8,0 Q0,6.9 -9.8,0Z" fill="#6e6e6a" transform="translate(22.0 390.1) rotate(100)"/>
<path d="M-8.3,0 Q0,-8.7 8.3,0 Q0,8.7 -8.3,0Z" fill="#33302e" transform="translate(172.3 412.1) rotate(103)"/>
<path d="M-4.7,0 Q0,-6.9 4.7,0 Q0,6.9 -4.7,0Z" fill="#27282a" transform="translate(50.1 336.2) rotate(93)"/>
<path d="M-5.5,0 Q0,-8.9 5.5,0 Q0,8.9 -5.5,0Z" fill="#45423c" transform="translate(117.9 436.1) rotate(175)"/>
<path d="M-6.9,0 Q0,-9.0 6.9,0 Q0,9.0 -6.9,0Z" fill="#27282a" transform="translate(165.8 311.0) rotate(113)"/>
<path d="M-10.1,0 Q0,-3.2 10.1,0 Q0,3.2 -10.1,0Z" fill="#bdb9aa" transform="translate(171.0 330.3) rotate(94)"/>
<path d="M-6.8,0 Q0,-4.7 6.8,0 Q0,4.7 -6.8,0Z" fill="#5a585e" transform="translate(144.0 378.4) rotate(106)"/>
<path d="M-9.3,0 Q0,-8.4 9.3,0 Q0,8.4 -9.3,0Z" fill="#1f1f1f" transform="translate(189.3 374.8) rotate(158)"/>
<path d="M-4.7,0 Q0,-5.4 4.7,0 Q0,5.4 -4.7,0Z" fill="#5c4c3e" transform="translate(55.9 388.2) rotate(26)"/>
<path d="M-8.3,0 Q0,-4.2 8.3,0 Q0,4.2 -8.3,0Z" fill="#1f1f1f" transform="translate(125.4 393.9) rotate(86)"/>
<path d="M-6.2,0 Q0,-8.2 6.2,0 Q0,8.2 -6.2,0Z" fill="#1f1f1f" transform="translate(56.8 347.0) rotate(154)"/>
<path d="M-9.0,0 Q0,-5.3 9.0,0 Q0,5.3 -9.0,0Z" fill="#7c7c76" transform="translate(48.5 336.5) rotate(75)"/>
<path d="M-8.6,0 Q0,-7.8 8.6,0 Q0,7.8 -8.6,0Z" fill="#45423c" transform="translate(132.9 320.0) rotate(156)"/>
<path d="M-8.4,0 Q0,-6.0 8.4,0 Q0,6.0 -8.4,0Z" fill="#1f1f1f" transform="translate(168.3 367.8) rotate(140)"/>
<path d="M-9.1,0 Q0,-5.2 9.1,0 Q0,5.2 -9.1,0Z" fill="#3a3834" transform="translate(108.4 375.6) rotate(82)"/>
<path d="M-7.3,0 Q0,-7.2 7.3,0 Q0,7.2 -7.3,0Z" fill="#45423c" transform="translate(187.9 395.5) rotate(22)"/>
<path d="M-9.8,0 Q0,-6.4 9.8,0 Q0,6.4 -9.8,0Z" fill="#777378" transform="translate(8.7 347.0) rotate(99)"/>
<path d="M-5.0,0 Q0,-4.1 5.0,0 Q0,4.1 -5.0,0Z" fill="#27282a" transform="translate(72.0 414.9) rotate(9)"/>
<path d="M-8.1,0 Q0,-7.4 8.1,0 Q0,7.4 -8.1,0Z" fill="#3a3834" transform="translate(175.0 406.5) rotate(48)"/>
<path d="M-8.3,0 Q0,-6.4 8.3,0 Q0,6.4 -8.3,0Z" fill="#7c7c76" transform="translate(85.2 295.5) rotate(24)"/>
<path d="M-8.9,0 Q0,-5.5 8.9,0 Q0,5.5 -8.9,0Z" fill="#33302e" transform="translate(37.5 409.5) rotate(174)"/>
<path d="M-7.0,0 Q0,-5.1 7.0,0 Q0,5.1 -7.0,0Z" fill="#1f1f1f" transform="translate(132.3 354.5) rotate(54)"/>
<path d="M-7.3,0 Q0,-7.3 7.3,0 Q0,7.3 -7.3,0Z" fill="#66606a" transform="translate(107.7 383.6) rotate(152)"/>
<path d="M-8.3,0 Q0,-6.4 8.3,0 Q0,6.4 -8.3,0Z" fill="#807a84" transform="translate(78.1 387.1) rotate(61)"/>
<path d="M-8.4,0 Q0,-8.5 8.4,0 Q0,8.5 -8.4,0Z" fill="#27282a" transform="translate(58.3 340.1) rotate(54)"/>
<path d="M-5.2,0 Q0,-1.9 5.2,0 Q0,1.9 -5.2,0Z" fill="#989486" transform="translate(32.8 404.4) rotate(90)"/>
<path d="M-4.7,0 Q0,-7.5 4.7,0 Q0,7.5 -4.7,0Z" fill="#27282a" transform="translate(62.2 425.0) rotate(103)"/>
<path d="M-8.0,0 Q0,-6.4 8.0,0 Q0,6.4 -8.0,0Z" fill="#33302e" transform="translate(40.9 398.7) rotate(169)"/>
<path d="M-9.3,0 Q0,-4.9 9.3,0 Q0,4.9 -9.3,0Z" fill="#27282a" transform="translate(74.9 336.4) rotate(18)"/>
<path d="M-9.5,0 Q0,-8.7 9.5,0 Q0,8.7 -9.5,0Z" fill="#7c7c76" transform="translate(28.3 330.4) rotate(162)"/>
<path d="M-6.8,0 Q0,-8.4 6.8,0 Q0,8.4 -6.8,0Z" fill="#1f1f1f" transform="translate(134.7 325.0) rotate(67)"/>
<path d="M-9.3,0 Q0,-6.9 9.3,0 Q0,6.9 -9.3,0Z" fill="#2b2a28" transform="translate(120.8 360.3) rotate(170)"/>
<path d="M-6.8,0 Q0,-8.4 6.8,0 Q0,8.4 -6.8,0Z" fill="#1f1f1f" transform="translate(103.6 419.3) rotate(27)"/>
<path d="M-8.0,0 Q0,-4.9 8.0,0 Q0,4.9 -8.0,0Z" fill="#1f1f1f" transform="translate(176.7 318.9) rotate(114)"/>
<path d="M-8.8,0 Q0,-7.9 8.8,0 Q0,7.9 -8.8,0Z" fill="#4e504e" transform="translate(156.3 317.2) rotate(23)"/>
<path d="M-6.6,0 Q0,-4.2 6.6,0 Q0,4.2 -6.6,0Z" fill="#45423c" transform="translate(90.1 355.3) rotate(36)"/>
<path d="M-5.5,0 Q0,-7.4 5.5,0 Q0,7.4 -5.5,0Z" fill="#33302e" transform="translate(77.9 294.7) rotate(113)"/>
<path d="M-5.1,0 Q0,-6.5 5.1,0 Q0,6.5 -5.1,0Z" fill="#3a3834" transform="translate(52.8 393.9) rotate(55)"/>
<path d="M-6.4,0 Q0,-8.4 6.4,0 Q0,8.4 -6.4,0Z" fill="#94806a" transform="translate(194.1 359.2) rotate(179)"/>
<path d="M-5.4,0 Q0,-8.5 5.4,0 Q0,8.5 -5.4,0Z" fill="#3a3834" transform="translate(71.7 424.2) rotate(146)"/>
<path d="M-8.1,0 Q0,-4.2 8.1,0 Q0,4.2 -8.1,0Z" fill="#27282a" transform="translate(6.9 366.3) rotate(158)"/>
<path d="M-8.1,0 Q0,-7.3 8.1,0 Q0,7.3 -8.1,0Z" fill="#2b2a28" transform="translate(54.2 370.7) rotate(4)"/>
<path d="M-5.9,0 Q0,-7.5 5.9,0 Q0,7.5 -5.9,0Z" fill="#33302e" transform="translate(141.8 353.4) rotate(37)"/>
<path d="M-7.8,0 Q0,-4.7 7.8,0 Q0,4.7 -7.8,0Z" fill="#94806a" transform="translate(87.5 307.3) rotate(150)"/>
<path d="M-8.8,0 Q0,-6.5 8.8,0 Q0,6.5 -8.8,0Z" fill="#2b2a28" transform="translate(23.7 397.5) rotate(110)"/>
<path d="M-8.0,0 Q0,-1.6 8.0,0 Q0,1.6 -8.0,0Z" fill="#a8a496" transform="translate(159.6 414.0) rotate(37)"/>
<path d="M-5.0,0 Q0,-4.6 5.0,0 Q0,4.6 -5.0,0Z" fill="#27282a" transform="translate(191.0 340.9) rotate(103)"/>
<path d="M-8.5,0 Q0,-4.5 8.5,0 Q0,4.5 -8.5,0Z" fill="#5a585e" transform="translate(102.3 431.2) rotate(46)"/>
<path d="M-9.3,0 Q0,-8.3 9.3,0 Q0,8.3 -9.3,0Z" fill="#3a3834" transform="translate(62.3 360.4) rotate(65)"/>
<path d="M-4.6,0 Q0,-4.7 4.6,0 Q0,4.7 -4.6,0Z" fill="#2b2a28" transform="translate(139.2 354.8) rotate(116)"/>
<path d="M-6.1,0 Q0,-3.9 6.1,0 Q0,3.9 -6.1,0Z" fill="#a8a496" transform="translate(68.9 423.2) rotate(72)"/>
<path d="M-9.4,0 Q0,-4.8 9.4,0 Q0,4.8 -9.4,0Z" fill="#6e6e6a" transform="translate(80.4 416.8) rotate(24)"/>
<path d="M-5.5,0 Q0,-5.9 5.5,0 Q0,5.9 -5.5,0Z" fill="#5c4c3e" transform="translate(186.6 363.1) rotate(65)"/>
<path d="M-8.1,0 Q0,-4.1 8.1,0 Q0,4.1 -8.1,0Z" fill="#1f1f1f" transform="translate(25.3 352.6) rotate(156)"/>
<path d="M-9.9,0 Q0,-7.3 9.9,0 Q0,7.3 -9.9,0Z" fill="#524e56" transform="translate(108.5 401.2) rotate(61)"/>
<path d="M-8.5,0 Q0,-6.4 8.5,0 Q0,6.4 -8.5,0Z" fill="#27282a" transform="translate(108.2 394.9) rotate(119)"/>
<path d="M-4.8,0 Q0,-7.2 4.8,0 Q0,7.2 -4.8,0Z" fill="#5e5e5a" transform="translate(132.1 314.3) rotate(28)"/>
<path d="M-6.7,0 Q0,-2.5 6.7,0 Q0,2.5 -6.7,0Z" fill="#bdb9aa" transform="translate(174.0 417.0) rotate(91)"/>
<path d="M-7.0,0 Q0,-8.0 7.0,0 Q0,8.0 -7.0,0Z" fill="#5a585e" transform="translate(113.7 347.9) rotate(81)"/>
<path d="M-8.6,0 Q0,-4.1 8.6,0 Q0,4.1 -8.6,0Z" fill="#45423c" transform="translate(175.5 357.9) rotate(73)"/>
<path d="M-7.8,0 Q0,-7.1 7.8,0 Q0,7.1 -7.8,0Z" fill="#7c7c76" transform="translate(9.7 372.8) rotate(55)"/>
<path d="M-6.5,0 Q0,-4.3 6.5,0 Q0,4.3 -6.5,0Z" fill="#5e5e5a" transform="translate(105.2 322.8) rotate(40)"/>
<path d="M-8.4,0 Q0,-5.8 8.4,0 Q0,5.8 -8.4,0Z" fill="#4e504e" transform="translate(94.3 374.4) rotate(81)"/>
<path d="M-9.1,0 Q0,-8.8 9.1,0 Q0,8.8 -9.1,0Z" fill="#1f1f1f" transform="translate(22.2 388.8) rotate(53)"/>
<path d="M-7.2,0 Q0,-8.1 7.2,0 Q0,8.1 -7.2,0Z" fill="#3a3834" transform="translate(107.9 395.1) rotate(134)"/>
<path d="M-9.6,0 Q0,-6.0 9.6,0 Q0,6.0 -9.6,0Z" fill="#2b2a28" transform="translate(85.2 329.7) rotate(82)"/>
<path d="M-4.8,0 Q0,-7.2 4.8,0 Q0,7.2 -4.8,0Z" fill="#45423c" transform="translate(160.3 397.3) rotate(121)"/>
<path d="M-4.5,0 Q0,-7.7 4.5,0 Q0,7.7 -4.5,0Z" fill="#5c4c3e" transform="translate(94.9 378.6) rotate(100)"/>
<path d="M-5.6,0 Q0,-3.9 5.6,0 Q0,3.9 -5.6,0Z" fill="#d0cdc0" transform="translate(89.9 378.0) rotate(118)"/>
<path d="M-6.6,0 Q0,-3.8 6.6,0 Q0,3.8 -6.6,0Z" fill="#c9c2ae" transform="translate(124.9 339.6) rotate(173)"/>
<path d="M-7.8,0 Q0,-8.4 7.8,0 Q0,8.4 -7.8,0Z" fill="#45423c" transform="translate(198.5 358.7) rotate(92)"/>
<path d="M-9.6,0 Q0,-7.2 9.6,0 Q0,7.2 -9.6,0Z" fill="#27282a" transform="translate(172.8 372.6) rotate(36)"/>
<path d="M-5.2,0 Q0,-7.6 5.2,0 Q0,7.6 -5.2,0Z" fill="#27282a" transform="translate(128.6 335.0) rotate(176)"/>
<path d="M-5.1,0 Q0,-5.8 5.1,0 Q0,5.8 -5.1,0Z" fill="#4e504e" transform="translate(38.4 371.8) rotate(86)"/>
<path d="M-9.4,0 Q0,-6.7 9.4,0 Q0,6.7 -9.4,0Z" fill="#27282a" transform="translate(117.8 390.0) rotate(158)"/>
<path d="M-5.3,0 Q0,-7.4 5.3,0 Q0,7.4 -5.3,0Z" fill="#45423c" transform="translate(87.8 294.5) rotate(36)"/>
<path d="M-5.3,0 Q0,-4.3 5.3,0 Q0,4.3 -5.3,0Z" fill="#1f1f1f" transform="translate(154.0 316.1) rotate(141)"/>
<path d="M-5.1,0 Q0,-8.3 5.1,0 Q0,8.3 -5.1,0Z" fill="#45423c" transform="translate(43.7 371.6) rotate(133)"/>
<path d="M-7.3,0 Q0,-8.0 7.3,0 Q0,8.0 -7.3,0Z" fill="#7a664e" transform="translate(177.2 401.0) rotate(125)"/>
<path d="M-9.8,0 Q0,-8.9 9.8,0 Q0,8.9 -9.8,0Z" fill="#45423c" transform="translate(142.5 299.5) rotate(56)"/>
<path d="M-9.3,0 Q0,-8.3 9.3,0 Q0,8.3 -9.3,0Z" fill="#33302e" transform="translate(114.0 294.5) rotate(80)"/>
<path d="M-8.7,0 Q0,-6.7 8.7,0 Q0,6.7 -8.7,0Z" fill="#5e5e5a" transform="translate(48.1 385.1) rotate(109)"/>
<path d="M-9.8,0 Q0,-7.7 9.8,0 Q0,7.7 -9.8,0Z" fill="#777378" transform="translate(61.9 318.5) rotate(21)"/>
<path d="M-5.9,0 Q0,-2.0 5.9,0 Q0,2.0 -5.9,0Z" fill="#bdb9aa" transform="translate(55.9 316.1) rotate(58)"/>
<path d="M-7.5,0 Q0,-4.4 7.5,0 Q0,4.4 -7.5,0Z" fill="#94806a" transform="translate(126.9 389.2) rotate(127)"/>
<path d="M-5.4,0 Q0,-6.7 5.4,0 Q0,6.7 -5.4,0Z" fill="#94806a" transform="translate(108.6 432.3) rotate(73)"/>
<path d="M-6.5,0 Q0,-5.1 6.5,0 Q0,5.1 -6.5,0Z" fill="#5e5e5a" transform="translate(73.1 421.6) rotate(135)"/>
<path d="M-4.5,0 Q0,-7.3 4.5,0 Q0,7.3 -4.5,0Z" fill="#6e6e6a" transform="translate(109.7 438.1) rotate(80)"/>
<path d="M-8.3,0 Q0,-5.6 8.3,0 Q0,5.6 -8.3,0Z" fill="#66606a" transform="translate(185.2 382.2) rotate(165)"/>
<path d="M-4.6,0 Q0,-6.6 4.6,0 Q0,6.6 -4.6,0Z" fill="#8a7458" transform="translate(193.4 348.9) rotate(139)"/>
<path d="M-9.4,0 Q0,-5.0 9.4,0 Q0,5.0 -9.4,0Z" fill="#8a7458" transform="translate(106.4 366.9) rotate(93)"/>
<path d="M-5.7,0 Q0,-7.1 5.7,0 Q0,7.1 -5.7,0Z" fill="#2b2a28" transform="translate(195.7 371.1) rotate(38)"/>
<path d="M-9.3,0 Q0,-7.7 9.3,0 Q0,7.7 -9.3,0Z" fill="#27282a" transform="translate(141.0 414.6) rotate(78)"/>
<path d="M-6.7,0 Q0,-6.3 6.7,0 Q0,6.3 -6.7,0Z" fill="#807a84" transform="translate(53.4 302.9) rotate(73)"/>
<path d="M-8.0,0 Q0,-7.1 8.0,0 Q0,7.1 -8.0,0Z" fill="#2b2a28" transform="translate(66.4 349.5) rotate(136)"/>
<path d="M-5.1,0 Q0,-7.9 5.1,0 Q0,7.9 -5.1,0Z" fill="#33302e" transform="translate(120.8 394.9) rotate(54)"/>
<path d="M-9.0,0 Q0,-4.2 9.0,0 Q0,4.2 -9.0,0Z" fill="#45423c" transform="translate(20.0 404.3) rotate(28)"/>
<path d="M-6.1,0 Q0,-7.2 6.1,0 Q0,7.2 -6.1,0Z" fill="#7c7c76" transform="translate(46.9 401.6) rotate(54)"/>
<path d="M-5.0,0 Q0,-1.9 5.0,0 Q0,1.9 -5.0,0Z" fill="#bdb9aa" transform="translate(177.7 387.2) rotate(107)"/>
<path d="M-8.6,0 Q0,-7.6 8.6,0 Q0,7.6 -8.6,0Z" fill="#27282a" transform="translate(111.0 430.9) rotate(38)"/>
<path d="M-5.6,0 Q0,-4.9 5.6,0 Q0,4.9 -5.6,0Z" fill="#807a84" transform="translate(31.3 319.5) rotate(144)"/>
<path d="M-5.4,0 Q0,-2.4 5.4,0 Q0,2.4 -5.4,0Z" fill="#989486" transform="translate(174.7 416.9) rotate(18)"/>
<path d="M-8.2,0 Q0,-5.2 8.2,0 Q0,5.2 -8.2,0Z" fill="#3a3834" transform="translate(149.1 363.7) rotate(51)"/>
<path d="M-7.7,0 Q0,-6.8 7.7,0 Q0,6.8 -7.7,0Z" fill="#4e504e" transform="translate(100.6 340.5) rotate(66)"/>
<path d="M-8.8,0 Q0,-7.6 8.8,0 Q0,7.6 -8.8,0Z" fill="#3a3834" transform="translate(66.4 355.1) rotate(115)"/>
<path d="M-9.3,0 Q0,-6.3 9.3,0 Q0,6.3 -9.3,0Z" fill="#5e5e5a" transform="translate(58.4 345.1) rotate(65)"/>
<path d="M-5.0,0 Q0,-5.4 5.0,0 Q0,5.4 -5.0,0Z" fill="#33302e" transform="translate(64.2 373.1) rotate(149)"/>
<path d="M-4.9,0 Q0,-4.4 4.9,0 Q0,4.4 -4.9,0Z" fill="#6e6e6a" transform="translate(182.5 321.3) rotate(3)"/>
<path d="M-8.7,0 Q0,-5.1 8.7,0 Q0,5.1 -8.7,0Z" fill="#6e6e6a" transform="translate(105.0 297.2) rotate(7)"/>
<path d="M-6.5,0 Q0,-5.1 6.5,0 Q0,5.1 -6.5,0Z" fill="#7a664e" transform="translate(55.1 423.1) rotate(139)"/>
<path d="M-5.0,0 Q0,-5.8 5.0,0 Q0,5.8 -5.0,0Z" fill="#94806a" transform="translate(150.6 335.1) rotate(2)"/>
<path d="M-9.7,0 Q0,-7.3 9.7,0 Q0,7.3 -9.7,0Z" fill="#33302e" transform="translate(155.5 313.1) rotate(174)"/>
<path d="M-8.7,0 Q0,-5.2 8.7,0 Q0,5.2 -8.7,0Z" fill="#3a3834" transform="translate(151.2 363.2) rotate(48)"/>
<path d="M-6.6,0 Q0,-8.6 6.6,0 Q0,8.6 -6.6,0Z" fill="#8a7458" transform="translate(49.8 390.2) rotate(159)"/>
<path d="M-8.0,0 Q0,-5.4 8.0,0 Q0,5.4 -8.0,0Z" fill="#33302e" transform="translate(10.6 387.3) rotate(134)"/>
<path d="M-6.5,0 Q0,-7.3 6.5,0 Q0,7.3 -6.5,0Z" fill="#45423c" transform="translate(119.4 375.8) rotate(150)"/>
<path d="M-9.8,0 Q0,-2.5 9.8,0 Q0,2.5 -9.8,0Z" fill="#989486" transform="translate(106.9 347.5) rotate(160)"/>
<path d="M-5.7,0 Q0,-4.9 5.7,0 Q0,4.9 -5.7,0Z" fill="#8a7458" transform="translate(91.4 326.2) rotate(65)"/>
<path d="M-8.5,0 Q0,-6.4 8.5,0 Q0,6.4 -8.5,0Z" fill="#1f1f1f" transform="translate(147.4 309.9) rotate(86)"/>
<path d="M-5.8,0 Q0,-3.3 5.8,0 Q0,3.3 -5.8,0Z" fill="#bdb9aa" transform="translate(45.1 316.1) rotate(92)"/>
<path d="M-10.7,0 Q0,-4.0 10.7,0 Q0,4.0 -10.7,0Z" fill="#bdb9aa" transform="translate(106.9 351.8) rotate(39)"/>
<path d="M-9.1,0 Q0,-7.0 9.1,0 Q0,7.0 -9.1,0Z" fill="#7a664e" transform="translate(125.0 361.4) rotate(143)"/>
<path d="M-5.4,0 Q0,-7.4 5.4,0 Q0,7.4 -5.4,0Z" fill="#807a84" transform="translate(168.2 319.2) rotate(166)"/>
<path d="M-5.1,0 Q0,-5.0 5.1,0 Q0,5.0 -5.1,0Z" fill="#3a3834" transform="translate(123.0 302.7) rotate(155)"/>
<path d="M-5.5,0 Q0,-8.5 5.5,0 Q0,8.5 -5.5,0Z" fill="#2b2a28" transform="translate(104.4 353.9) rotate(108)"/>
<path d="M-7.2,0 Q0,-4.7 7.2,0 Q0,4.7 -7.2,0Z" fill="#5a585e" transform="translate(179.8 370.2) rotate(109)"/>
<path d="M-9.3,0 Q0,-7.5 9.3,0 Q0,7.5 -9.3,0Z" fill="#8a7458" transform="translate(159.0 387.4) rotate(77)"/>
<path d="M-7.7,0 Q0,-7.7 7.7,0 Q0,7.7 -7.7,0Z" fill="#5e5e5a" transform="translate(192.1 363.0) rotate(137)"/>
<path d="M-8.7,0 Q0,-8.6 8.7,0 Q0,8.6 -8.7,0Z" fill="#45423c" transform="translate(143.2 306.9) rotate(15)"/>
<path d="M-8.4,0 Q0,-7.9 8.4,0 Q0,7.9 -8.4,0Z" fill="#2b2a28" transform="translate(123.4 372.0) rotate(104)"/>
<path d="M-5.1,0 Q0,-6.1 5.1,0 Q0,6.1 -5.1,0Z" fill="#1f1f1f" transform="translate(134.7 393.0) rotate(105)"/>
<path d="M-6.0,0 Q0,-7.4 6.0,0 Q0,7.4 -6.0,0Z" fill="#94806a" transform="translate(55.3 370.9) rotate(136)"/>
<path d="M-7.6,0 Q0,-6.4 7.6,0 Q0,6.4 -7.6,0Z" fill="#8a7458" transform="translate(86.0 407.0) rotate(178)"/>
<path d="M-9.2,0 Q0,-7.3 9.2,0 Q0,7.3 -9.2,0Z" fill="#3a3834" transform="translate(119.2 405.6) rotate(135)"/>
<path d="M-7.3,0 Q0,-7.9 7.3,0 Q0,7.9 -7.3,0Z" fill="#3a3834" transform="translate(92.7 394.7) rotate(144)"/>
<path d="M-9.8,0 Q0,-4.0 9.8,0 Q0,4.0 -9.8,0Z" fill="#45423c" transform="translate(126.5 392.5) rotate(16)"/>
<path d="M-7.8,0 Q0,-7.6 7.8,0 Q0,7.6 -7.8,0Z" fill="#2b2a28" transform="translate(90.4 302.0) rotate(168)"/>
<path d="M-4.8,0 Q0,-7.9 4.8,0 Q0,7.9 -4.8,0Z" fill="#33302e" transform="translate(83.4 388.4) rotate(32)"/>
<path d="M-8.1,0 Q0,-3.3 8.1,0 Q0,3.3 -8.1,0Z" fill="#989486" transform="translate(102.4 294.2) rotate(42)"/>
<path d="M-5.6,0 Q0,-4.1 5.6,0 Q0,4.1 -5.6,0Z" fill="#33302e" transform="translate(160.0 344.2) rotate(127)"/>
<path d="M-9.5,0 Q0,-5.7 9.5,0 Q0,5.7 -9.5,0Z" fill="#7c7c76" transform="translate(188.2 372.8) rotate(173)"/>
<path d="M-7.7,0 Q0,-5.3 7.7,0 Q0,5.3 -7.7,0Z" fill="#45423c" transform="translate(58.4 381.1) rotate(73)"/>
<path d="M-9.3,0 Q0,-8.1 9.3,0 Q0,8.1 -9.3,0Z" fill="#807a84" transform="translate(61.9 430.9) rotate(103)"/>
<path d="M-8.7,0 Q0,-8.8 8.7,0 Q0,8.8 -8.7,0Z" fill="#7a664e" transform="translate(142.7 433.6) rotate(83)"/>
<path d="M-5.9,0 Q0,-5.9 5.9,0 Q0,5.9 -5.9,0Z" fill="#2b2a28" transform="translate(95.6 378.3) rotate(142)"/>
<path d="M-9.8,0 Q0,-6.6 9.8,0 Q0,6.6 -9.8,0Z" fill="#6e6e6a" transform="translate(47.0 395.0) rotate(2)"/>
<path d="M-8.6,0 Q0,-5.7 8.6,0 Q0,5.7 -8.6,0Z" fill="#27282a" transform="translate(170.6 328.8) rotate(100)"/>
<path d="M33.4,334.1 Q36.7,340.8 45.0,343.5" fill="none" stroke="#c4c0b0" stroke-width="0.75" stroke-linecap="round"/>
<path d="M48.3,397.5 Q41.1,397.5 38.6,401.5" fill="none" stroke="#e0dccf" stroke-width="0.58" stroke-linecap="round"/>
<path d="M141.7,381.1 Q139.0,385.5 135.7,397.2" fill="none" stroke="#b0ac9c" stroke-width="0.69" stroke-linecap="round"/>
<path d="M73.5,420.2 Q64.8,420.4 59.7,425.6" fill="none" stroke="#e0dccf" stroke-width="0.70" stroke-linecap="round"/>
<path d="M154.1,305.5 Q157.1,308.3 153.0,318.6" fill="none" stroke="#e0dccf" stroke-width="0.70" stroke-linecap="round"/>
<path d="M148.9,318.2 Q140.4,320.3 132.6,319.4" fill="none" stroke="#d6d2c4" stroke-width="0.84" stroke-linecap="round"/>
<path d="M75.5,299.8 Q76.9,306.2 83.2,316.4" fill="none" stroke="#e0dccf" stroke-width="0.74" stroke-linecap="round"/>
<path d="M126.1,341.0 Q127.7,345.3 126.1,351.6" fill="none" stroke="#b0ac9c" stroke-width="0.64" stroke-linecap="round"/>
<path d="M40.7,307.3 Q36.3,310.6 38.2,317.7" fill="none" stroke="#c4c0b0" stroke-width="0.78" stroke-linecap="round"/>
<path d="M181.6,316.9 Q174.5,317.9 167.9,326.8" fill="none" stroke="#b0ac9c" stroke-width="0.75" stroke-linecap="round"/>
<path d="M111.4,393.7 Q107.4,397.9 102.4,401.0" fill="none" stroke="#b0ac9c" stroke-width="0.55" stroke-linecap="round"/>
<path d="M29.9,318.2 Q32.9,326.6 42.5,331.1" fill="none" stroke="#e0dccf" stroke-width="0.68" stroke-linecap="round"/>
<path d="M112.7,424.8 Q112.5,430.7 118.4,430.8" fill="none" stroke="#c4c0b0" stroke-width="0.79" stroke-linecap="round"/>
<path d="M139.2,370.8 Q132.1,371.2 127.8,371.5" fill="none" stroke="#b0ac9c" stroke-width="0.94" stroke-linecap="round"/>
<path d="M81.7,330.4 Q77.1,337.3 77.8,339.3" fill="none" stroke="#e0dccf" stroke-width="0.71" stroke-linecap="round"/>
<path d="M130.2,350.6 Q124.7,350.4 121.7,353.2" fill="none" stroke="#e0dccf" stroke-width="0.86" stroke-linecap="round"/>
<path d="M132.7,347.5 Q128.1,352.5 116.4,353.5" fill="none" stroke="#b0ac9c" stroke-width="0.71" stroke-linecap="round"/>
<path d="M157.1,387.4 Q145.7,386.3 141.0,390.5" fill="none" stroke="#d6d2c4" stroke-width="0.55" stroke-linecap="round"/>
<path d="M182.4,360.3 Q191.1,365.7 199.4,363.2" fill="none" stroke="#d6d2c4" stroke-width="0.63" stroke-linecap="round"/>
<path d="M40.0,385.8 Q32.5,386.2 29.1,390.0" fill="none" stroke="#c4c0b0" stroke-width="0.57" stroke-linecap="round"/>
<path d="M132.6,411.6 Q140.0,417.8 139.8,423.3" fill="none" stroke="#e0dccf" stroke-width="0.77" stroke-linecap="round"/>
<path d="M110.2,370.3 Q114.4,378.2 112.5,387.1" fill="none" stroke="#e0dccf" stroke-width="0.95" stroke-linecap="round"/>
<path d="M94.2,324.7 Q99.1,323.6 105.4,327.9" fill="none" stroke="#d6d2c4" stroke-width="0.50" stroke-linecap="round"/>
<path d="M163.4,409.7 Q162.6,419.1 169.8,421.7" fill="none" stroke="#b0ac9c" stroke-width="0.65" stroke-linecap="round"/>
<path d="M159.3,400.1 Q157.1,406.0 154.0,416.9" fill="none" stroke="#b0ac9c" stroke-width="0.70" stroke-linecap="round"/>
<path d="M34.0,393.8 Q34.3,399.1 38.3,405.6" fill="none" stroke="#c4c0b0" stroke-width="0.76" stroke-linecap="round"/>
<path d="M166.7,377.3 Q164.7,382.2 160.3,386.5" fill="none" stroke="#e0dccf" stroke-width="0.71" stroke-linecap="round"/>
<path d="M169.4,313.7 Q175.1,318.0 179.0,326.0" fill="none" stroke="#b0ac9c" stroke-width="0.59" stroke-linecap="round"/>
<path d="M105.2,318.6 Q112.2,322.2 115.8,322.1" fill="none" stroke="#c4c0b0" stroke-width="0.55" stroke-linecap="round"/>
<path d="M87.5,400.5 Q89.1,403.0 87.6,413.0" fill="none" stroke="#d6d2c4" stroke-width="0.92" stroke-linecap="round"/>
<path d="M105.4,317.0 Q100.2,318.3 89.7,325.5" fill="none" stroke="#c4c0b0" stroke-width="0.69" stroke-linecap="round"/>
<path d="M153.2,302.6 Q149.7,310.8 147.9,311.7" fill="none" stroke="#e0dccf" stroke-width="0.58" stroke-linecap="round"/>
<path d="M149.9,396.2 Q149.0,399.2 148.4,405.5" fill="none" stroke="#e0dccf" stroke-width="0.94" stroke-linecap="round"/>
<path d="M168.9,322.3 Q174.8,322.3 183.5,327.7" fill="none" stroke="#e0dccf" stroke-width="0.79" stroke-linecap="round"/>
<path d="M90.1,327.9 Q84.2,330.1 75.2,329.3" fill="none" stroke="#c4c0b0" stroke-width="0.69" stroke-linecap="round"/>
<path d="M31.5,380.5 Q22.8,379.2 12.0,384.8" fill="none" stroke="#c4c0b0" stroke-width="0.85" stroke-linecap="round"/>
<path d="M154.4,305.1 Q164.1,313.8 169.2,318.3" fill="none" stroke="#b0ac9c" stroke-width="0.87" stroke-linecap="round"/>
<path d="M11.3,343.8 Q4.1,349.7 4.2,352.2" fill="none" stroke="#e0dccf" stroke-width="0.77" stroke-linecap="round"/>
<path d="M102.3,369.3 Q101.3,378.1 100.7,381.1" fill="none" stroke="#c4c0b0" stroke-width="0.53" stroke-linecap="round"/>
<path d="M30.3,331.6 Q30.5,337.3 38.7,340.7" fill="none" stroke="#b0ac9c" stroke-width="0.87" stroke-linecap="round"/>
<path d="M176.9,375.8 Q178.7,379.3 183.3,389.9" fill="none" stroke="#b0ac9c" stroke-width="0.59" stroke-linecap="round"/>
<path d="M135.1,401.2 Q139.4,402.4 145.2,406.5" fill="none" stroke="#d6d2c4" stroke-width="0.76" stroke-linecap="round"/>
<path d="M36.8,361.2 Q46.6,364.8 51.0,365.8" fill="none" stroke="#e0dccf" stroke-width="0.52" stroke-linecap="round"/>
<path d="M38.1,396.6 Q48.9,400.4 57.2,397.4" fill="none" stroke="#d6d2c4" stroke-width="0.73" stroke-linecap="round"/>
<path d="M137.8,338.8 Q133.9,347.9 124.8,352.3" fill="none" stroke="#d6d2c4" stroke-width="0.91" stroke-linecap="round"/>
<path d="M27.2,335.7 Q14.4,339.2 8.0,339.1" fill="none" stroke="#b0ac9c" stroke-width="0.59" stroke-linecap="round"/>
<path d="M110.7,324.7 Q110.7,328.7 106.8,334.1" fill="none" stroke="#d6d2c4" stroke-width="0.88" stroke-linecap="round"/>
<path d="M122.7,385.4 Q115.6,393.1 114.9,396.0" fill="none" stroke="#b0ac9c" stroke-width="0.75" stroke-linecap="round"/>
<path d="M138.0,361.3 Q138.2,370.9 132.0,379.6" fill="none" stroke="#e0dccf" stroke-width="0.92" stroke-linecap="round"/>
<path d="M91.0,381.7 Q83.9,385.2 80.9,387.9" fill="none" stroke="#b0ac9c" stroke-width="0.88" stroke-linecap="round"/>
<path d="M195.4,329.4 Q187.9,332.0 182.1,331.0" fill="none" stroke="#e0dccf" stroke-width="0.80" stroke-linecap="round"/>
<path d="M103.6,431.9 Q104.8,439.5 110.4,441.4" fill="none" stroke="#d6d2c4" stroke-width="0.89" stroke-linecap="round"/>
<path d="M189.0,360.0 Q184.1,366.9 185.7,374.5" fill="none" stroke="#c4c0b0" stroke-width="0.57" stroke-linecap="round"/>
<path d="M70.3,371.5 Q73.7,376.6 83.5,383.4" fill="none" stroke="#c4c0b0" stroke-width="0.87" stroke-linecap="round"/>
<path d="M140.6,403.2 Q149.7,408.4 155.9,412.4" fill="none" stroke="#d6d2c4" stroke-width="0.80" stroke-linecap="round"/>
<path d="M64.6,394.5 Q60.0,401.0 62.5,403.2" fill="none" stroke="#e0dccf" stroke-width="0.94" stroke-linecap="round"/>
<path d="M82.3,424.4 Q92.3,430.4 98.4,430.7" fill="none" stroke="#d6d2c4" stroke-width="0.82" stroke-linecap="round"/>
<path d="M130.4,295.5 Q130.5,300.0 129.5,307.3" fill="none" stroke="#c4c0b0" stroke-width="0.58" stroke-linecap="round"/>
<path d="M116.7,298.1 Q115.7,305.3 120.4,315.1" fill="none" stroke="#b0ac9c" stroke-width="0.79" stroke-linecap="round"/>
<path d="M6.6,349.2 Q15.6,348.1 20.1,352.9" fill="none" stroke="#c4c0b0" stroke-width="0.74" stroke-linecap="round"/>
<path d="M44.8,343.3 Q47.1,350.7 41.5,357.7" fill="none" stroke="#c4c0b0" stroke-width="0.54" stroke-linecap="round"/>
<path d="M163.3,339.1 Q160.2,339.6 154.4,341.2" fill="none" stroke="#e0dccf" stroke-width="0.60" stroke-linecap="round"/>
<path d="M76.2,384.7 Q71.2,390.6 68.6,391.3" fill="none" stroke="#b0ac9c" stroke-width="0.81" stroke-linecap="round"/>
<path d="M85.6,421.3 Q88.8,428.5 97.6,432.1" fill="none" stroke="#d6d2c4" stroke-width="0.56" stroke-linecap="round"/>
<path d="M141.6,305.5 Q139.9,309.9 142.9,313.7" fill="none" stroke="#c4c0b0" stroke-width="0.77" stroke-linecap="round"/>
<path d="M157.3,363.4 Q155.1,374.0 149.8,381.8" fill="none" stroke="#b0ac9c" stroke-width="0.79" stroke-linecap="round"/>
<path d="M131.3,297.0 Q138.5,300.8 141.1,302.8" fill="none" stroke="#d6d2c4" stroke-width="0.73" stroke-linecap="round"/>
<path d="M141.5,387.4 Q132.4,387.4 129.6,390.7" fill="none" stroke="#b0ac9c" stroke-width="0.62" stroke-linecap="round"/>
<path d="M74.0,432.4 Q82.6,434.5 85.2,436.0" fill="none" stroke="#c4c0b0" stroke-width="0.60" stroke-linecap="round"/>
<path d="M199.5,371.0 Q200.2,372.8 194.2,377.7" fill="none" stroke="#b0ac9c" stroke-width="0.70" stroke-linecap="round"/>
<path d="M31.4,336.6 Q32.8,347.4 38.4,350.5" fill="none" stroke="#e0dccf" stroke-width="0.91" stroke-linecap="round"/>
<path d="M137.0,417.1 Q124.9,420.6 120.3,423.1" fill="none" stroke="#e0dccf" stroke-width="0.61" stroke-linecap="round"/>
<path d="M64.2,346.7 Q72.0,351.6 79.5,353.7" fill="none" stroke="#c4c0b0" stroke-width="0.71" stroke-linecap="round"/>
<path d="M113.8,348.7 Q117.7,352.1 122.3,361.4" fill="none" stroke="#c4c0b0" stroke-width="0.79" stroke-linecap="round"/>
<path d="M132.9,319.3 Q143.5,326.0 147.7,326.2" fill="none" stroke="#b0ac9c" stroke-width="1.00" stroke-linecap="round"/>
<path d="M71.6,373.1 Q65.5,376.9 62.4,374.6" fill="none" stroke="#d6d2c4" stroke-width="0.88" stroke-linecap="round"/>
<path d="M177.7,346.8 Q183.0,356.4 181.4,359.6" fill="none" stroke="#e0dccf" stroke-width="0.58" stroke-linecap="round"/>
<path d="M31.2,311.7 Q42.0,313.4 51.0,313.4" fill="none" stroke="#c4c0b0" stroke-width="0.80" stroke-linecap="round"/>
<path d="M92.0,383.7 Q97.0,384.4 102.6,390.6" fill="none" stroke="#c4c0b0" stroke-width="0.52" stroke-linecap="round"/>
<path d="M64.3,345.9 Q59.5,349.6 50.6,360.3" fill="none" stroke="#b0ac9c" stroke-width="0.93" stroke-linecap="round"/>
</g>
<text x="225.00" y="171.00" font-size="17" text-anchor="start" font-weight="normal" fill="#1c1c1c" stroke="#1c1c1c" stroke-width="0.28">Influence of taste</text>
<text x="225.00" y="414.00" font-size="17.04" text-anchor="start" font-weight="normal" fill="#1c1c1c" stroke="#1c1c1c" stroke-width="0.28">Influence of aroma</text>
<rect x="386" y="1" width="156.5" height="526" rx="14" ry="14" fill="none" stroke="#e98fb6" stroke-width="2" stroke-dasharray="7.5 4.5"/>
<rect x="361.5" y="36" width="597.8" height="223.5" rx="11" ry="11" fill="#ffffff"/>
<path d="M948.3,36 H372.5 A11,11 0 0 0 361.5,47 V248.5 A11,11 0 0 0 372.5,259.5 H948.3" fill="none" stroke="#6ec6d6" stroke-width="1.6" stroke-dasharray="7.5 6"/>
<path d="M948.3,36 A11,11 0 0 1 958.3,47" fill="none" stroke="#6ec6d6" stroke-width="1.6" stroke-dasharray="7.5 5"/>
<path d="M948.3,259.5 A11,11 0 0 0 958.3,248.5" fill="none" stroke="#6ec6d6" stroke-width="1.6" stroke-dasharray="7.5 5"/>
<line x1="958.7" y1="44" x2="958.7" y2="251.5" stroke="#84cbe4" stroke-width="3" stroke-dasharray="8.2 3.2"/>
<rect x="361.5" y="290" width="597.8" height="224" rx="11" ry="11" fill="#ffffff"/>
<path d="M948.3,290 H372.5 A11,11 0 0 0 361.5,301 V503 A11,11 0 0 0 372.5,514 H948.3" fill="none" stroke="#6ec6d6" stroke-width="1.6" stroke-dasharray="7.5 6"/>
<path d="M948.3,290 A11,11 0 0 1 958.3,301" fill="none" stroke="#6ec6d6" stroke-width="1.6" stroke-dasharray="7.5 5"/>
<path d="M948.3,514 A11,11 0 0 0 958.3,503" fill="none" stroke="#6ec6d6" stroke-width="1.6" stroke-dasharray="7.5 5"/>
<line x1="958.7" y1="298" x2="958.7" y2="506" stroke="#84cbe4" stroke-width="3" stroke-dasharray="8.2 3.2"/>
<text x="464.50" y="24.50" font-size="16.95" text-anchor="middle" font-weight="normal" fill="#1c1c1c" stroke="#1c1c1c" stroke-width="0.28">Sensory evaluation</text>
<text x="750.00" y="24.80" font-size="16.8" text-anchor="middle" font-weight="normal" fill="#1c1c1c" stroke="#1c1c1c" stroke-width="0.28">Results</text>
<polygon points="460.50,92.30 512.52,130.10 492.65,191.25 428.35,191.25 408.48,130.10" fill="url(#gPent)" stroke="#c4c4c4" stroke-width="0.5"/>
<polygon points="460.50,137.88 469.17,144.18 465.86,154.38 455.14,154.38 451.83,144.18" fill="none" stroke="#ffffff" stroke-width="0.5" opacity="0.85"/>
<polygon points="460.50,128.77 477.84,141.37 471.22,161.75 449.78,161.75 443.16,141.37" fill="none" stroke="#ffffff" stroke-width="0.5" opacity="0.85"/>
<polygon points="460.50,119.65 486.51,138.55 476.58,169.13 444.42,169.13 434.49,138.55" fill="none" stroke="#ffffff" stroke-width="0.5" opacity="0.85"/>
<polygon points="460.50,110.53 495.18,135.73 481.93,176.50 439.07,176.50 425.82,135.73" fill="none" stroke="#ffffff" stroke-width="0.5" opacity="0.85"/>
<polygon points="460.50,101.42 503.85,132.91 487.29,183.88 433.71,183.88 417.15,132.91" fill="none" stroke="#ffffff" stroke-width="0.5" opacity="0.85"/>
<line x1="460.50" y1="147.00" x2="460.50" y2="92.30" stroke="#858585" stroke-width="0.9"/>
<line x1="460.50" y1="147.00" x2="512.52" y2="130.10" stroke="#858585" stroke-width="0.9"/>
<line x1="460.50" y1="147.00" x2="492.65" y2="191.25" stroke="#858585" stroke-width="0.9"/>
<line x1="460.50" y1="147.00" x2="428.35" y2="191.25" stroke="#858585" stroke-width="0.9"/>
<line x1="460.50" y1="147.00" x2="408.48" y2="130.10" stroke="#858585" stroke-width="0.9"/>
<text x="459.90" y="148.90" font-size="5.8" text-anchor="end" font-weight="bold" fill="#2a3f86">2</text>
<text x="459.90" y="139.78" font-size="5.8" text-anchor="end" font-weight="bold" fill="#2a3f86">3</text>
<text x="459.90" y="130.67" font-size="5.8" text-anchor="end" font-weight="bold" fill="#2a3f86">4</text>
<text x="459.90" y="121.55" font-size="5.8" text-anchor="end" font-weight="bold" fill="#2a3f86">5</text>
<text x="459.90" y="112.43" font-size="5.8" text-anchor="end" font-weight="bold" fill="#2a3f86">6</text>
<text x="459.90" y="103.32" font-size="5.8" text-anchor="end" font-weight="bold" fill="#2a3f86">7</text>
<text x="459.90" y="94.20" font-size="5.8" text-anchor="end" font-weight="bold" fill="#2a3f86">8</text>
<polygon points="460.50,102.69 491.28,137.00 473.90,165.44 439.07,176.50 437.09,139.39" fill="none" stroke="#7cb2df" stroke-width="0.7"/>
<polygon points="460.50,137.88 467.87,144.61 487.29,183.88 445.28,167.95 419.40,133.65" fill="none" stroke="#c79ae4" stroke-width="0.7" stroke-dasharray="0.8 1.2"/>
<polygon points="460.50,127.58 467.18,144.83 473.90,165.44 445.28,167.95 441.95,140.97" fill="none" stroke="#f0946f" stroke-width="0.9" stroke-dasharray="2.4 1.6"/>
<circle cx="460.50" cy="102.69" r="1.40" fill="#3a86b8" stroke="none" stroke-width="0.5"/>
<circle cx="491.28" cy="137.00" r="1.40" fill="#3a86b8" stroke="none" stroke-width="0.5"/>
<circle cx="473.90" cy="165.44" r="1.40" fill="#3a86b8" stroke="none" stroke-width="0.5"/>
<circle cx="439.07" cy="176.50" r="1.40" fill="#3a86b8" stroke="none" stroke-width="0.5"/>
<circle cx="437.09" cy="139.39" r="1.40" fill="#3a86b8" stroke="none" stroke-width="0.5"/>
<circle cx="460.50" cy="127.58" r="1.20" fill="#d85a4a" stroke="none" stroke-width="0.5"/>
<circle cx="467.18" cy="144.83" r="1.20" fill="#d85a4a" stroke="none" stroke-width="0.5"/>
<circle cx="473.90" cy="165.44" r="1.20" fill="#d85a4a" stroke="none" stroke-width="0.5"/>
<circle cx="445.28" cy="167.95" r="1.20" fill="#d85a4a" stroke="none" stroke-width="0.5"/>
<circle cx="441.95" cy="140.97" r="1.20" fill="#d85a4a" stroke="none" stroke-width="0.5"/>
<circle cx="460.50" cy="137.88" r="1.50" fill="#7d3aa6" stroke="none" stroke-width="0.5"/>
<circle cx="467.87" cy="144.61" r="1.50" fill="#7d3aa6" stroke="none" stroke-width="0.5"/>
<circle cx="487.29" cy="183.88" r="1.50" fill="#7d3aa6" stroke="none" stroke-width="0.5"/>
<circle cx="445.28" cy="167.95" r="1.50" fill="#7d3aa6" stroke="none" stroke-width="0.5"/>
<circle cx="419.40" cy="133.65" r="1.50" fill="#7d3aa6" stroke="none" stroke-width="0.5"/>
<text x="462.60" y="85.00" font-size="8.1" text-anchor="middle" font-weight="bold" fill="#333">Bitterness<tspan dy="-2.6" font-size="8.1">*</tspan></text>
<text x="408.90" y="131.00" font-size="8.1" text-anchor="end" font-weight="bold" fill="#333">Strong<tspan dy="-2.6" font-size="8.1">*</tspan></text>
<text x="519.20" y="131.00" font-size="8.1" text-anchor="start" font-weight="bold" fill="#333">Astringency<tspan dy="-2.6" font-size="8.1">*</tspan></text>
<text x="411.80" y="204.30" font-size="8.1" text-anchor="middle" font-weight="bold" fill="#333">Umami</text>
<text x="498.00" y="204.30" font-size="8.1" text-anchor="start" font-weight="bold" fill="#333">Sweetness<tspan dy="-2.6" font-size="8.1">*</tspan></text>
<line x1="501.80" y1="87.00" x2="522.20" y2="87.00" stroke="#f0946f" stroke-width="0.8" stroke-dasharray="2 1.5"/>
<circle cx="512.40" cy="87.00" r="1.30" fill="#d85a4a" stroke="none" stroke-width="0.5"/>
<text x="528.00" y="88.60" font-size="9.9" text-anchor="start" font-weight="normal" fill="#1e1e1e">wt0</text>
<line x1="501.80" y1="97.90" x2="522.20" y2="97.90" stroke="#7cb2df" stroke-width="0.8"/>
<circle cx="512.40" cy="97.90" r="1.30" fill="#3a86b8" stroke="none" stroke-width="0.5"/>
<text x="528.00" y="100.20" font-size="9.9" text-anchor="start" font-weight="normal" fill="#1e1e1e">wt1</text>
<line x1="501.80" y1="108.80" x2="522.20" y2="108.80" stroke="#c79ae4" stroke-width="0.8" stroke-dasharray="0.8 1.2"/>
<circle cx="512.40" cy="108.80" r="1.30" fill="#7d3aa6" stroke="none" stroke-width="0.5"/>
<text x="528.00" y="111.50" font-size="9.9" text-anchor="start" font-weight="normal" fill="#1e1e1e">wt2</text>
<rect x="592.00" y="50.00" width="62.50" height="83.00" fill="#ffffff" stroke="#9c9c9c" stroke-width="0.7"/>
<text x="590.50" y="68.70" font-size="6.0" text-anchor="end" font-weight="bold" fill="#444">32</text>
<line x1="591.00" y1="66.70" x2="592.00" y2="66.70" stroke="#777" stroke-width="0.4"/>
<text x="590.50" y="80.00" font-size="6.0" text-anchor="end" font-weight="bold" fill="#444">30</text>
<line x1="591.00" y1="78.00" x2="592.00" y2="78.00" stroke="#777" stroke-width="0.4"/>
<text x="590.50" y="91.00" font-size="6.0" text-anchor="end" font-weight="bold" fill="#444">28</text>
<line x1="591.00" y1="89.00" x2="592.00" y2="89.00" stroke="#777" stroke-width="0.4"/>
<text x="590.50" y="102.00" font-size="6.0" text-anchor="end" font-weight="bold" fill="#444">26</text>
<line x1="591.00" y1="100.00" x2="592.00" y2="100.00" stroke="#777" stroke-width="0.4"/>
<text x="590.50" y="113.00" font-size="6.0" text-anchor="end" font-weight="bold" fill="#444">24</text>
<line x1="591.00" y1="111.00" x2="592.00" y2="111.00" stroke="#777" stroke-width="0.4"/>
<text x="590.50" y="124.00" font-size="6.0" text-anchor="end" font-weight="bold" fill="#444">22</text>
<line x1="591.00" y1="122.00" x2="592.00" y2="122.00" stroke="#777" stroke-width="0.4"/>
<text x="590.50" y="135.00" font-size="6.0" text-anchor="end" font-weight="bold" fill="#444">20</text>
<line x1="591.00" y1="133.00" x2="592.00" y2="133.00" stroke="#777" stroke-width="0.4"/>
<text x="579.20" y="91.50" font-size="6.0" text-anchor="middle" font-weight="bold" fill="#333" transform="rotate(-90 579.2 91.5)">Soluble sugar (mg/g)</text>
<line x1="605.85" y1="123.30" x2="605.85" y2="130.00" stroke="#b0b0b0" stroke-width="0.6"/>
<line x1="603.85" y1="123.30" x2="607.85" y2="123.30" stroke="#b0b0b0" stroke-width="0.6"/>
<line x1="603.85" y1="130.00" x2="607.85" y2="130.00" stroke="#b0b0b0" stroke-width="0.6"/>
<rect x="600.00" y="125.20" width="11.70" height="2.60" fill="#f07cbc" stroke="#c0508f" stroke-width="0.4"/>
<line x1="600.00" y1="126.50" x2="611.70" y2="126.50" stroke="#c0508f" stroke-width="1.5"/>
<text x="605.85" y="138.00" font-size="5.2" text-anchor="middle" font-weight="bold" fill="#444">wt0</text>
<line x1="623.25" y1="72.30" x2="623.25" y2="80.60" stroke="#b0b0b0" stroke-width="0.6"/>
<line x1="621.25" y1="72.30" x2="625.25" y2="72.30" stroke="#b0b0b0" stroke-width="0.6"/>
<line x1="621.25" y1="80.60" x2="625.25" y2="80.60" stroke="#b0b0b0" stroke-width="0.6"/>
<rect x="617.50" y="75.00" width="11.50" height="3.20" fill="#93c4ec" stroke="#5a8fc0" stroke-width="0.4"/>
<line x1="617.50" y1="76.60" x2="629.00" y2="76.60" stroke="#5a8fc0" stroke-width="1.5"/>
<text x="623.25" y="138.00" font-size="5.2" text-anchor="middle" font-weight="bold" fill="#444">wt1</text>
<line x1="640.95" y1="92.00" x2="640.95" y2="104.00" stroke="#b0b0b0" stroke-width="0.6"/>
<line x1="638.95" y1="92.00" x2="642.95" y2="92.00" stroke="#b0b0b0" stroke-width="0.6"/>
<line x1="638.95" y1="104.00" x2="642.95" y2="104.00" stroke="#b0b0b0" stroke-width="0.6"/>
<rect x="635.20" y="95.60" width="11.50" height="4.40" fill="#e8901c" stroke="#a86010" stroke-width="0.4"/>
<line x1="635.20" y1="97.80" x2="646.70" y2="97.80" stroke="#a86010" stroke-width="0.9"/>
<text x="640.95" y="138.00" font-size="5.2" text-anchor="middle" font-weight="bold" fill="#444">wt2</text>
<line x1="604.00" y1="70.20" x2="623.00" y2="70.20" stroke="#9a9a9a" stroke-width="0.5"/>
<text x="613.50" y="69.00" font-size="4.5" text-anchor="middle" font-weight="bold" fill="#666">***</text>
<line x1="623.00" y1="58.80" x2="641.00" y2="58.80" stroke="#9a9a9a" stroke-width="0.5"/>
<text x="632.00" y="57.60" font-size="4.5" text-anchor="middle" font-weight="bold" fill="#666">***</text>
<line x1="604.00" y1="89.40" x2="641.00" y2="89.40" stroke="#9a9a9a" stroke-width="0.5"/>
<text x="622.50" y="88.20" font-size="4.5" text-anchor="middle" font-weight="bold" fill="#666">***</text>
<rect x="682.50" y="50.50" width="62.50" height="82.50" fill="#ffffff" stroke="#9c9c9c" stroke-width="0.7"/>
<text x="681.00" y="68.70" font-size="6.0" text-anchor="end" font-weight="bold" fill="#444">200</text>
<line x1="681.50" y1="66.70" x2="682.50" y2="66.70" stroke="#777" stroke-width="0.4"/>
<text x="681.00" y="81.60" font-size="6.0" text-anchor="end" font-weight="bold" fill="#444">190</text>
<line x1="681.50" y1="79.60" x2="682.50" y2="79.60" stroke="#777" stroke-width="0.4"/>
<text x="681.00" y="94.50" font-size="6.0" text-anchor="end" font-weight="bold" fill="#444">180</text>
<line x1="681.50" y1="92.50" x2="682.50" y2="92.50" stroke="#777" stroke-width="0.4"/>
<text x="681.00" y="107.20" font-size="6.0" text-anchor="end" font-weight="bold" fill="#444">170</text>
<line x1="681.50" y1="105.20" x2="682.50" y2="105.20" stroke="#777" stroke-width="0.4"/>
<text x="681.00" y="120.00" font-size="6.0" text-anchor="end" font-weight="bold" fill="#444">160</text>
<line x1="681.50" y1="118.00" x2="682.50" y2="118.00" stroke="#777" stroke-width="0.4"/>
<text x="681.00" y="133.00" font-size="6.0" text-anchor="end" font-weight="bold" fill="#444">150</text>
<line x1="681.50" y1="131.00" x2="682.50" y2="131.00" stroke="#777" stroke-width="0.4"/>
<text x="669.70" y="91.75" font-size="6.0" text-anchor="middle" font-weight="bold" fill="#333" transform="rotate(-90 669.7 91.75)">Tea polyphenols (mg/g)</text>
<line x1="696.75" y1="72.30" x2="696.75" y2="91.00" stroke="#b0b0b0" stroke-width="0.6"/>
<line x1="694.75" y1="72.30" x2="698.75" y2="72.30" stroke="#b0b0b0" stroke-width="0.6"/>
<line x1="694.75" y1="91.00" x2="698.75" y2="91.00" stroke="#b0b0b0" stroke-width="0.6"/>
<rect x="691.50" y="79.20" width="10.50" height="5.00" fill="#f07cbc" stroke="#c0508f" stroke-width="0.4"/>
<line x1="691.50" y1="81.50" x2="702.00" y2="81.50" stroke="#c0508f" stroke-width="0.9"/>
<text x="696.75" y="138.00" font-size="5.2" text-anchor="middle" font-weight="bold" fill="#444">wt0</text>
<line x1="714.05" y1="78.00" x2="714.05" y2="114.00" stroke="#b0b0b0" stroke-width="0.6"/>
<line x1="712.05" y1="78.00" x2="716.05" y2="78.00" stroke="#b0b0b0" stroke-width="0.6"/>
<line x1="712.05" y1="114.00" x2="716.05" y2="114.00" stroke="#b0b0b0" stroke-width="0.6"/>
<rect x="708.50" y="91.70" width="11.10" height="9.10" fill="#93c4ec" stroke="#5a8fc0" stroke-width="0.4"/>
<line x1="708.50" y1="93.50" x2="719.60" y2="93.50" stroke="#5a8fc0" stroke-width="0.9"/>
<text x="714.05" y="138.00" font-size="5.2" text-anchor="middle" font-weight="bold" fill="#444">wt1</text>
<line x1="731.85" y1="110.40" x2="731.85" y2="130.00" stroke="#b0b0b0" stroke-width="0.6"/>
<line x1="729.85" y1="110.40" x2="733.85" y2="110.40" stroke="#b0b0b0" stroke-width="0.6"/>
<line x1="729.85" y1="130.00" x2="733.85" y2="130.00" stroke="#b0b0b0" stroke-width="0.6"/>
<rect x="726.00" y="118.00" width="11.70" height="5.00" fill="#e8901c" stroke="#a86010" stroke-width="0.4"/>
<line x1="726.00" y1="120.40" x2="737.70" y2="120.40" stroke="#a86010" stroke-width="0.9"/>
<text x="731.85" y="138.00" font-size="5.2" text-anchor="middle" font-weight="bold" fill="#444">wt2</text>
<line x1="713.00" y1="59.20" x2="732.00" y2="59.20" stroke="#9a9a9a" stroke-width="0.5"/>
<text x="722.50" y="58.00" font-size="4.5" text-anchor="middle" font-weight="bold" fill="#666">**</text>
<line x1="697.00" y1="70.20" x2="732.00" y2="70.20" stroke="#9a9a9a" stroke-width="0.5"/>
<text x="714.50" y="69.00" font-size="4.5" text-anchor="middle" font-weight="bold" fill="#666">***</text>
<rect x="591.00" y="154.00" width="63.00" height="88.00" fill="#ffffff" stroke="#9c9c9c" stroke-width="0.7"/>
<text x="589.50" y="165.30" font-size="6.0" text-anchor="end" font-weight="bold" fill="#444">65</text>
<line x1="590.00" y1="163.30" x2="591.00" y2="163.30" stroke="#777" stroke-width="0.4"/>
<text x="589.50" y="190.30" font-size="6.0" text-anchor="end" font-weight="bold" fill="#444">60</text>
<line x1="590.00" y1="188.30" x2="591.00" y2="188.30" stroke="#777" stroke-width="0.4"/>
<text x="589.50" y="215.30" font-size="6.0" text-anchor="end" font-weight="bold" fill="#444">55</text>
<line x1="590.00" y1="213.30" x2="591.00" y2="213.30" stroke="#777" stroke-width="0.4"/>
<text x="589.50" y="240.30" font-size="6.0" text-anchor="end" font-weight="bold" fill="#444">50</text>
<line x1="590.00" y1="238.30" x2="591.00" y2="238.30" stroke="#777" stroke-width="0.4"/>
<text x="578.20" y="198.00" font-size="6.0" text-anchor="middle" font-weight="bold" fill="#333" transform="rotate(-90 578.2 198.0)">Caffeine (mg/g)</text>
<line x1="604.45" y1="180.80" x2="604.45" y2="222.00" stroke="#b0b0b0" stroke-width="0.6"/>
<line x1="602.45" y1="180.80" x2="606.45" y2="180.80" stroke="#b0b0b0" stroke-width="0.6"/>
<line x1="602.45" y1="222.00" x2="606.45" y2="222.00" stroke="#b0b0b0" stroke-width="0.6"/>
<rect x="598.70" y="196.00" width="11.50" height="10.50" fill="#f07cbc" stroke="#c0508f" stroke-width="0.4"/>
<line x1="598.70" y1="201.00" x2="610.20" y2="201.00" stroke="#c0508f" stroke-width="0.9"/>
<text x="604.45" y="246.50" font-size="5.2" text-anchor="middle" font-weight="bold" fill="#444">wt0</text>
<line x1="622.10" y1="180.80" x2="622.10" y2="238.70" stroke="#b0b0b0" stroke-width="0.6"/>
<line x1="620.10" y1="180.80" x2="624.10" y2="180.80" stroke="#b0b0b0" stroke-width="0.6"/>
<line x1="620.10" y1="238.70" x2="624.10" y2="238.70" stroke="#b0b0b0" stroke-width="0.6"/>
<rect x="616.20" y="203.00" width="11.80" height="14.30" fill="#93c4ec" stroke="#5a8fc0" stroke-width="0.4"/>
<line x1="616.20" y1="212.00" x2="628.00" y2="212.00" stroke="#5a8fc0" stroke-width="0.9"/>
<text x="622.10" y="246.50" font-size="5.2" text-anchor="middle" font-weight="bold" fill="#444">wt1</text>
<line x1="639.80" y1="166.50" x2="639.80" y2="203.70" stroke="#b0b0b0" stroke-width="0.6"/>
<line x1="637.80" y1="166.50" x2="641.80" y2="166.50" stroke="#b0b0b0" stroke-width="0.6"/>
<line x1="637.80" y1="203.70" x2="641.80" y2="203.70" stroke="#b0b0b0" stroke-width="0.6"/>
<rect x="634.20" y="180.80" width="11.20" height="9.00" fill="#e8901c" stroke="#a86010" stroke-width="0.4"/>
<line x1="634.20" y1="184.60" x2="645.40" y2="184.60" stroke="#a86010" stroke-width="0.9"/>
<text x="639.80" y="246.50" font-size="5.2" text-anchor="middle" font-weight="bold" fill="#444">wt2</text>
<rect x="681.50" y="154.40" width="64.50" height="84.40" fill="#ffffff" stroke="#9c9c9c" stroke-width="0.7"/>
<text x="680.00" y="176.80" font-size="6.0" text-anchor="end" font-weight="bold" fill="#444">2.6</text>
<line x1="680.50" y1="174.80" x2="681.50" y2="174.80" stroke="#777" stroke-width="0.4"/>
<text x="680.00" y="193.20" font-size="6.0" text-anchor="end" font-weight="bold" fill="#444">2.4</text>
<line x1="680.50" y1="191.20" x2="681.50" y2="191.20" stroke="#777" stroke-width="0.4"/>
<text x="680.00" y="210.00" font-size="6.0" text-anchor="end" font-weight="bold" fill="#444">2.2</text>
<line x1="680.50" y1="208.00" x2="681.50" y2="208.00" stroke="#777" stroke-width="0.4"/>
<text x="680.00" y="226.80" font-size="6.0" text-anchor="end" font-weight="bold" fill="#444">2</text>
<line x1="680.50" y1="224.80" x2="681.50" y2="224.80" stroke="#777" stroke-width="0.4"/>
<text x="668.70" y="196.60" font-size="6.0" text-anchor="middle" font-weight="bold" fill="#333" transform="rotate(-90 668.7 196.60000000000002)">Gallic acid (mg/g)</text>
<line x1="696.05" y1="200.20" x2="696.05" y2="235.60" stroke="#b0b0b0" stroke-width="0.6"/>
<line x1="694.05" y1="200.20" x2="698.05" y2="200.20" stroke="#b0b0b0" stroke-width="0.6"/>
<line x1="694.05" y1="235.60" x2="698.05" y2="235.60" stroke="#b0b0b0" stroke-width="0.6"/>
<rect x="690.40" y="213.70" width="11.30" height="9.00" fill="#f07cbc" stroke="#c0508f" stroke-width="0.4"/>
<line x1="690.40" y1="218.30" x2="701.70" y2="218.30" stroke="#c0508f" stroke-width="0.9"/>
<text x="696.05" y="243.50" font-size="5.2" text-anchor="middle" font-weight="bold" fill="#444">wt0</text>
<line x1="714.25" y1="199.00" x2="714.25" y2="214.80" stroke="#b0b0b0" stroke-width="0.6"/>
<line x1="712.25" y1="199.00" x2="716.25" y2="199.00" stroke="#b0b0b0" stroke-width="0.6"/>
<line x1="712.25" y1="214.80" x2="716.25" y2="214.80" stroke="#b0b0b0" stroke-width="0.6"/>
<rect x="708.50" y="205.40" width="11.50" height="3.60" fill="#93c4ec" stroke="#5a8fc0" stroke-width="0.4"/>
<line x1="708.50" y1="207.20" x2="720.00" y2="207.20" stroke="#5a8fc0" stroke-width="1.5"/>
<text x="714.25" y="243.50" font-size="5.2" text-anchor="middle" font-weight="bold" fill="#444">wt1</text>
<line x1="732.50" y1="175.80" x2="732.50" y2="205.00" stroke="#b0b0b0" stroke-width="0.6"/>
<line x1="730.50" y1="175.80" x2="734.50" y2="175.80" stroke="#b0b0b0" stroke-width="0.6"/>
<line x1="730.50" y1="205.00" x2="734.50" y2="205.00" stroke="#b0b0b0" stroke-width="0.6"/>
<rect x="726.70" y="186.70" width="11.60" height="7.30" fill="#e8901c" stroke="#a86010" stroke-width="0.4"/>
<line x1="726.70" y1="190.00" x2="738.30" y2="190.00" stroke="#a86010" stroke-width="0.9"/>
<text x="732.50" y="243.50" font-size="5.2" text-anchor="middle" font-weight="bold" fill="#444">wt2</text>
<line x1="714.00" y1="162.00" x2="732.00" y2="162.00" stroke="#9a9a9a" stroke-width="0.5"/>
<text x="723.00" y="160.80" font-size="4.5" text-anchor="middle" font-weight="bold" fill="#666">*</text>
<line x1="696.00" y1="173.00" x2="732.00" y2="173.00" stroke="#9a9a9a" stroke-width="0.5"/>
<text x="714.00" y="171.80" font-size="4.5" text-anchor="middle" font-weight="bold" fill="#666">*</text>
<rect x="790.80" y="43.60" width="21.93" height="3.30" fill="#27323c" stroke="none" stroke-width="0.5"/>
<rect x="812.73" y="43.60" width="21.93" height="3.30" fill="#d9a867" stroke="none" stroke-width="0.5"/>
<rect x="834.66" y="43.60" width="21.93" height="3.30" fill="#2b9dba" stroke="none" stroke-width="0.5"/>
<text x="858.30" y="47.20" font-size="5.2" text-anchor="start" font-weight="bold" fill="#333">Group</text>
<rect x="790.80" y="48.70" width="7.31" height="7.28" fill="#d6a444" stroke="#ffffff" stroke-width="0.45"/>
<rect x="798.11" y="48.70" width="7.31" height="7.28" fill="#d6a444" stroke="#ffffff" stroke-width="0.45"/>
<rect x="805.42" y="48.70" width="7.31" height="7.28" fill="#d6a444" stroke="#ffffff" stroke-width="0.45"/>
<rect x="812.73" y="48.70" width="7.31" height="7.28" fill="#9fd2e2" stroke="#ffffff" stroke-width="0.45"/>
<rect x="820.04" y="48.70" width="7.31" height="7.28" fill="#c4e2ea" stroke="#ffffff" stroke-width="0.45"/>
<rect x="827.35" y="48.70" width="7.31" height="7.28" fill="#6dbdd2" stroke="#ffffff" stroke-width="0.45"/>
<rect x="834.66" y="48.70" width="7.31" height="7.28" fill="#c4e2ea" stroke="#ffffff" stroke-width="0.45"/>
<rect x="841.97" y="48.70" width="7.31" height="7.28" fill="#ece6d6" stroke="#ffffff" stroke-width="0.45"/>
<rect x="849.28" y="48.70" width="7.31" height="7.28" fill="#c4e2ea" stroke="#ffffff" stroke-width="0.45"/>
<text x="858.30" y="54.28" font-size="5.0" text-anchor="start" font-weight="bold" fill="#333">Glycine</text>
<rect x="790.80" y="55.98" width="7.31" height="7.28" fill="#d6a444" stroke="#ffffff" stroke-width="0.45"/>
<rect x="798.11" y="55.98" width="7.31" height="7.28" fill="#d6a444" stroke="#ffffff" stroke-width="0.45"/>
<rect x="805.42" y="55.98" width="7.31" height="7.28" fill="#d6a444" stroke="#ffffff" stroke-width="0.45"/>
<rect x="812.73" y="55.98" width="7.31" height="7.28" fill="#9fd2e2" stroke="#ffffff" stroke-width="0.45"/>
<rect x="820.04" y="55.98" width="7.31" height="7.28" fill="#9fd2e2" stroke="#ffffff" stroke-width="0.45"/>
<rect x="827.35" y="55.98" width="7.31" height="7.28" fill="#9fd2e2" stroke="#ffffff" stroke-width="0.45"/>
<rect x="834.66" y="55.98" width="7.31" height="7.28" fill="#9fd2e2" stroke="#ffffff" stroke-width="0.45"/>
<rect x="841.97" y="55.98" width="7.31" height="7.28" fill="#9fd2e2" stroke="#ffffff" stroke-width="0.45"/>
<rect x="849.28" y="55.98" width="7.31" height="7.28" fill="#c4e2ea" stroke="#ffffff" stroke-width="0.45"/>
<text x="858.30" y="61.56" font-size="5.0" text-anchor="start" font-weight="bold" fill="#333">Threonine</text>
<rect x="790.80" y="63.26" width="7.31" height="7.28" fill="#e2c48c" stroke="#ffffff" stroke-width="0.45"/>
<rect x="798.11" y="63.26" width="7.31" height="7.28" fill="#d6a444" stroke="#ffffff" stroke-width="0.45"/>
<rect x="805.42" y="63.26" width="7.31" height="7.28" fill="#e2c48c" stroke="#ffffff" stroke-width="0.45"/>
<rect x="812.73" y="63.26" width="7.31" height="7.28" fill="#2b9dba" stroke="#ffffff" stroke-width="0.45"/>
<rect x="820.04" y="63.26" width="7.31" height="7.28" fill="#2b9dba" stroke="#ffffff" stroke-width="0.45"/>
<rect x="827.35" y="63.26" width="7.31" height="7.28" fill="#2b9dba" stroke="#ffffff" stroke-width="0.45"/>
<rect x="834.66" y="63.26" width="7.31" height="7.28" fill="#ece6d6" stroke="#ffffff" stroke-width="0.45"/>
<rect x="841.97" y="63.26" width="7.31" height="7.28" fill="#e2c48c" stroke="#ffffff" stroke-width="0.45"/>
<rect x="849.28" y="63.26" width="7.31" height="7.28" fill="#ece6d6" stroke="#ffffff" stroke-width="0.45"/>
<text x="858.30" y="68.84" font-size="5.0" text-anchor="start" font-weight="bold" fill="#333">Lysine</text>
<rect x="790.80" y="70.54" width="7.31" height="7.28" fill="#e2c48c" stroke="#ffffff" stroke-width="0.45"/>
<rect x="798.11" y="70.54" width="7.31" height="7.28" fill="#e2c48c" stroke="#ffffff" stroke-width="0.45"/>
<rect x="805.42" y="70.54" width="7.31" height="7.28" fill="#e2c48c" stroke="#ffffff" stroke-width="0.45"/>
<rect x="812.73" y="70.54" width="7.31" height="7.28" fill="#2b9dba" stroke="#ffffff" stroke-width="0.45"/>
<rect x="820.04" y="70.54" width="7.31" height="7.28" fill="#2b9dba" stroke="#ffffff" stroke-width="0.45"/>
<rect x="827.35" y="70.54" width="7.31" height="7.28" fill="#2b9dba" stroke="#ffffff" stroke-width="0.45"/>
<rect x="834.66" y="70.54" width="7.31" height="7.28" fill="#ece6d6" stroke="#ffffff" stroke-width="0.45"/>
<rect x="841.97" y="70.54" width="7.31" height="7.28" fill="#e2c48c" stroke="#ffffff" stroke-width="0.45"/>
<rect x="849.28" y="70.54" width="7.31" height="7.28" fill="#e2c48c" stroke="#ffffff" stroke-width="0.45"/>
<text x="858.30" y="76.12" font-size="5.0" text-anchor="start" font-weight="bold" fill="#333">Alanine</text>
<rect x="790.80" y="77.82" width="7.31" height="7.28" fill="#e2c48c" stroke="#ffffff" stroke-width="0.45"/>
<rect x="798.11" y="77.82" width="7.31" height="7.28" fill="#e2c48c" stroke="#ffffff" stroke-width="0.45"/>
<rect x="805.42" y="77.82" width="7.31" height="7.28" fill="#d6a444" stroke="#ffffff" stroke-width="0.45"/>
<rect x="812.73" y="77.82" width="7.31" height="7.28" fill="#2b9dba" stroke="#ffffff" stroke-width="0.45"/>
<rect x="820.04" y="77.82" width="7.31" height="7.28" fill="#2b9dba" stroke="#ffffff" stroke-width="0.45"/>
<rect x="827.35" y="77.82" width="7.31" height="7.28" fill="#6dbdd2" stroke="#ffffff" stroke-width="0.45"/>
<rect x="834.66" y="77.82" width="7.31" height="7.28" fill="#e2c48c" stroke="#ffffff" stroke-width="0.45"/>
<rect x="841.97" y="77.82" width="7.31" height="7.28" fill="#e2c48c" stroke="#ffffff" stroke-width="0.45"/>
<rect x="849.28" y="77.82" width="7.31" height="7.28" fill="#e2c48c" stroke="#ffffff" stroke-width="0.45"/>
<text x="858.30" y="83.40" font-size="5.0" text-anchor="start" font-weight="bold" fill="#333">Aspartate</text>
<rect x="790.80" y="85.10" width="7.31" height="7.28" fill="#ece6d6" stroke="#ffffff" stroke-width="0.45"/>
<rect x="798.11" y="85.10" width="7.31" height="7.28" fill="#ece6d6" stroke="#ffffff" stroke-width="0.45"/>
<rect x="805.42" y="85.10" width="7.31" height="7.28" fill="#ece6d6" stroke="#ffffff" stroke-width="0.45"/>
<rect x="812.73" y="85.10" width="7.31" height="7.28" fill="#d6a444" stroke="#ffffff" stroke-width="0.45"/>
<rect x="820.04" y="85.10" width="7.31" height="7.28" fill="#d6a444" stroke="#ffffff" stroke-width="0.45"/>
<rect x="827.35" y="85.10" width="7.31" height="7.28" fill="#d6a444" stroke="#ffffff" stroke-width="0.45"/>
<rect x="834.66" y="85.10" width="7.31" height="7.28" fill="#2b9dba" stroke="#ffffff" stroke-width="0.45"/>
<rect x="841.97" y="85.10" width="7.31" height="7.28" fill="#2b9dba" stroke="#ffffff" stroke-width="0.45"/>
<rect x="849.28" y="85.10" width="7.31" height="7.28" fill="#2b9dba" stroke="#ffffff" stroke-width="0.45"/>
<text x="858.30" y="90.68" font-size="5.0" text-anchor="start" font-weight="bold" fill="#333">Glutamine</text>
<rect x="790.80" y="92.38" width="7.31" height="7.28" fill="#ece6d6" stroke="#ffffff" stroke-width="0.45"/>
<rect x="798.11" y="92.38" width="7.31" height="7.28" fill="#d6a444" stroke="#ffffff" stroke-width="0.45"/>
<rect x="805.42" y="92.38" width="7.31" height="7.28" fill="#d6a444" stroke="#ffffff" stroke-width="0.45"/>
<rect x="812.73" y="92.38" width="7.31" height="7.28" fill="#e2c48c" stroke="#ffffff" stroke-width="0.45"/>
<rect x="820.04" y="92.38" width="7.31" height="7.28" fill="#e2c48c" stroke="#ffffff" stroke-width="0.45"/>
<rect x="827.35" y="92.38" width="7.31" height="7.28" fill="#ece6d6" stroke="#ffffff" stroke-width="0.45"/>
<rect x="834.66" y="92.38" width="7.31" height="7.28" fill="#2b9dba" stroke="#ffffff" stroke-width="0.45"/>
<rect x="841.97" y="92.38" width="7.31" height="7.28" fill="#2b9dba" stroke="#ffffff" stroke-width="0.45"/>
<rect x="849.28" y="92.38" width="7.31" height="7.28" fill="#2b9dba" stroke="#ffffff" stroke-width="0.45"/>
<text x="858.30" y="97.96" font-size="5.0" text-anchor="start" font-weight="bold" fill="#333">Theanine</text>
<rect x="790.80" y="99.66" width="7.31" height="7.28" fill="#d6a444" stroke="#ffffff" stroke-width="0.45"/>
<rect x="798.11" y="99.66" width="7.31" height="7.28" fill="#d6a444" stroke="#ffffff" stroke-width="0.45"/>
<rect x="805.42" y="99.66" width="7.31" height="7.28" fill="#d6a444" stroke="#ffffff" stroke-width="0.45"/>
<rect x="812.73" y="99.66" width="7.31" height="7.28" fill="#ece6d6" stroke="#ffffff" stroke-width="0.45"/>
<rect x="820.04" y="99.66" width="7.31" height="7.28" fill="#ece6d6" stroke="#ffffff" stroke-width="0.45"/>
<rect x="827.35" y="99.66" width="7.31" height="7.28" fill="#ece6d6" stroke="#ffffff" stroke-width="0.45"/>
<rect x="834.66" y="99.66" width="7.31" height="7.28" fill="#2b9dba" stroke="#ffffff" stroke-width="0.45"/>
<rect x="841.97" y="99.66" width="7.31" height="7.28" fill="#2b9dba" stroke="#ffffff" stroke-width="0.45"/>
<rect x="849.28" y="99.66" width="7.31" height="7.28" fill="#2b9dba" stroke="#ffffff" stroke-width="0.45"/>
<text x="858.30" y="105.24" font-size="5.0" text-anchor="start" font-weight="bold" fill="#333">Serine</text>
<rect x="790.80" y="106.94" width="7.31" height="7.28" fill="#d6a444" stroke="#ffffff" stroke-width="0.45"/>
<rect x="798.11" y="106.94" width="7.31" height="7.28" fill="#d6a444" stroke="#ffffff" stroke-width="0.45"/>
<rect x="805.42" y="106.94" width="7.31" height="7.28" fill="#d6a444" stroke="#ffffff" stroke-width="0.45"/>
<rect x="812.73" y="106.94" width="7.31" height="7.28" fill="#ece6d6" stroke="#ffffff" stroke-width="0.45"/>
<rect x="820.04" y="106.94" width="7.31" height="7.28" fill="#ece6d6" stroke="#ffffff" stroke-width="0.45"/>
<rect x="827.35" y="106.94" width="7.31" height="7.28" fill="#e2c48c" stroke="#ffffff" stroke-width="0.45"/>
<rect x="834.66" y="106.94" width="7.31" height="7.28" fill="#2b9dba" stroke="#ffffff" stroke-width="0.45"/>
<rect x="841.97" y="106.94" width="7.31" height="7.28" fill="#2b9dba" stroke="#ffffff" stroke-width="0.45"/>
<rect x="849.28" y="106.94" width="7.31" height="7.28" fill="#2b9dba" stroke="#ffffff" stroke-width="0.45"/>
<text x="858.30" y="112.52" font-size="5.0" text-anchor="start" font-weight="bold" fill="#333">γ-aminobutyric acid</text>
<rect x="790.80" y="114.22" width="7.31" height="7.28" fill="#d6a444" stroke="#ffffff" stroke-width="0.45"/>
<rect x="798.11" y="114.22" width="7.31" height="7.28" fill="#d6a444" stroke="#ffffff" stroke-width="0.45"/>
<rect x="805.42" y="114.22" width="7.31" height="7.28" fill="#d6a444" stroke="#ffffff" stroke-width="0.45"/>
<rect x="812.73" y="114.22" width="7.31" height="7.28" fill="#ece6d6" stroke="#ffffff" stroke-width="0.45"/>
<rect x="820.04" y="114.22" width="7.31" height="7.28" fill="#ece6d6" stroke="#ffffff" stroke-width="0.45"/>
<rect x="827.35" y="114.22" width="7.31" height="7.28" fill="#ece6d6" stroke="#ffffff" stroke-width="0.45"/>
<rect x="834.66" y="114.22" width="7.31" height="7.28" fill="#2b9dba" stroke="#ffffff" stroke-width="0.45"/>
<rect x="841.97" y="114.22" width="7.31" height="7.28" fill="#2b9dba" stroke="#ffffff" stroke-width="0.45"/>
<rect x="849.28" y="114.22" width="7.31" height="7.28" fill="#2b9dba" stroke="#ffffff" stroke-width="0.45"/>
<text x="858.30" y="119.80" font-size="5.0" text-anchor="start" font-weight="bold" fill="#333">Tyrosine</text>
<rect x="790.80" y="121.50" width="7.31" height="7.28" fill="#2b9dba" stroke="#ffffff" stroke-width="0.45"/>
<rect x="798.11" y="121.50" width="7.31" height="7.28" fill="#2b9dba" stroke="#ffffff" stroke-width="0.45"/>
<rect x="805.42" y="121.50" width="7.31" height="7.28" fill="#2b9dba" stroke="#ffffff" stroke-width="0.45"/>
<rect x="812.73" y="121.50" width="7.31" height="7.28" fill="#e2c48c" stroke="#ffffff" stroke-width="0.45"/>
<rect x="820.04" y="121.50" width="7.31" height="7.28" fill="#e2c48c" stroke="#ffffff" stroke-width="0.45"/>
<rect x="827.35" y="121.50" width="7.31" height="7.28" fill="#d6a444" stroke="#ffffff" stroke-width="0.45"/>
<rect x="834.66" y="121.50" width="7.31" height="7.28" fill="#e2c48c" stroke="#ffffff" stroke-width="0.45"/>
<rect x="841.97" y="121.50" width="7.31" height="7.28" fill="#e2c48c" stroke="#ffffff" stroke-width="0.45"/>
<rect x="849.28" y="121.50" width="7.31" height="7.28" fill="#e2c48c" stroke="#ffffff" stroke-width="0.45"/>
<text x="858.30" y="127.08" font-size="5.0" text-anchor="start" font-weight="bold" fill="#333">Histidine</text>
<rect x="790.80" y="128.78" width="7.31" height="7.28" fill="#9fd2e2" stroke="#ffffff" stroke-width="0.45"/>
<rect x="798.11" y="128.78" width="7.31" height="7.28" fill="#9fd2e2" stroke="#ffffff" stroke-width="0.45"/>
<rect x="805.42" y="128.78" width="7.31" height="7.28" fill="#9fd2e2" stroke="#ffffff" stroke-width="0.45"/>
<rect x="812.73" y="128.78" width="7.31" height="7.28" fill="#9fd2e2" stroke="#ffffff" stroke-width="0.45"/>
<rect x="820.04" y="128.78" width="7.31" height="7.28" fill="#9fd2e2" stroke="#ffffff" stroke-width="0.45"/>
<rect x="827.35" y="128.78" width="7.31" height="7.28" fill="#9fd2e2" stroke="#ffffff" stroke-width="0.45"/>
<rect x="834.66" y="128.78" width="7.31" height="7.28" fill="#d6a444" stroke="#ffffff" stroke-width="0.45"/>
<rect x="841.97" y="128.78" width="7.31" height="7.28" fill="#d6a444" stroke="#ffffff" stroke-width="0.45"/>
<rect x="849.28" y="128.78" width="7.31" height="7.28" fill="#d6a444" stroke="#ffffff" stroke-width="0.45"/>
<text x="858.30" y="134.36" font-size="5.0" text-anchor="start" font-weight="bold" fill="#333">Isoleucine</text>
<rect x="790.80" y="136.06" width="7.31" height="7.28" fill="#9fd2e2" stroke="#ffffff" stroke-width="0.45"/>
<rect x="798.11" y="136.06" width="7.31" height="7.28" fill="#9fd2e2" stroke="#ffffff" stroke-width="0.45"/>
<rect x="805.42" y="136.06" width="7.31" height="7.28" fill="#9fd2e2" stroke="#ffffff" stroke-width="0.45"/>
<rect x="812.73" y="136.06" width="7.31" height="7.28" fill="#9fd2e2" stroke="#ffffff" stroke-width="0.45"/>
<rect x="820.04" y="136.06" width="7.31" height="7.28" fill="#9fd2e2" stroke="#ffffff" stroke-width="0.45"/>
<rect x="827.35" y="136.06" width="7.31" height="7.28" fill="#6dbdd2" stroke="#ffffff" stroke-width="0.45"/>
<rect x="834.66" y="136.06" width="7.31" height="7.28" fill="#d6a444" stroke="#ffffff" stroke-width="0.45"/>
<rect x="841.97" y="136.06" width="7.31" height="7.28" fill="#d6a444" stroke="#ffffff" stroke-width="0.45"/>
<rect x="849.28" y="136.06" width="7.31" height="7.28" fill="#d6a444" stroke="#ffffff" stroke-width="0.45"/>
<text x="858.30" y="141.64" font-size="5.0" text-anchor="start" font-weight="bold" fill="#333">Tryptophan</text>
<rect x="790.80" y="143.34" width="7.31" height="7.28" fill="#6dbdd2" stroke="#ffffff" stroke-width="0.45"/>
<rect x="798.11" y="143.34" width="7.31" height="7.28" fill="#9fd2e2" stroke="#ffffff" stroke-width="0.45"/>
<rect x="805.42" y="143.34" width="7.31" height="7.28" fill="#9fd2e2" stroke="#ffffff" stroke-width="0.45"/>
<rect x="812.73" y="143.34" width="7.31" height="7.28" fill="#9fd2e2" stroke="#ffffff" stroke-width="0.45"/>
<rect x="820.04" y="143.34" width="7.31" height="7.28" fill="#9fd2e2" stroke="#ffffff" stroke-width="0.45"/>
<rect x="827.35" y="143.34" width="7.31" height="7.28" fill="#9fd2e2" stroke="#ffffff" stroke-width="0.45"/>
<rect x="834.66" y="143.34" width="7.31" height="7.28" fill="#d6a444" stroke="#ffffff" stroke-width="0.45"/>
<rect x="841.97" y="143.34" width="7.31" height="7.28" fill="#d6a444" stroke="#ffffff" stroke-width="0.45"/>
<rect x="849.28" y="143.34" width="7.31" height="7.28" fill="#d6a444" stroke="#ffffff" stroke-width="0.45"/>
<text x="858.30" y="148.92" font-size="5.0" text-anchor="start" font-weight="bold" fill="#333">Leucine</text>
<rect x="790.80" y="150.62" width="7.31" height="7.28" fill="#9fd2e2" stroke="#ffffff" stroke-width="0.45"/>
<rect x="798.11" y="150.62" width="7.31" height="7.28" fill="#9fd2e2" stroke="#ffffff" stroke-width="0.45"/>
<rect x="805.42" y="150.62" width="7.31" height="7.28" fill="#9fd2e2" stroke="#ffffff" stroke-width="0.45"/>
<rect x="812.73" y="150.62" width="7.31" height="7.28" fill="#9fd2e2" stroke="#ffffff" stroke-width="0.45"/>
<rect x="820.04" y="150.62" width="7.31" height="7.28" fill="#9fd2e2" stroke="#ffffff" stroke-width="0.45"/>
<rect x="827.35" y="150.62" width="7.31" height="7.28" fill="#9fd2e2" stroke="#ffffff" stroke-width="0.45"/>
<rect x="834.66" y="150.62" width="7.31" height="7.28" fill="#d6a444" stroke="#ffffff" stroke-width="0.45"/>
<rect x="841.97" y="150.62" width="7.31" height="7.28" fill="#d6a444" stroke="#ffffff" stroke-width="0.45"/>
<rect x="849.28" y="150.62" width="7.31" height="7.28" fill="#d6a444" stroke="#ffffff" stroke-width="0.45"/>
<text x="858.30" y="156.20" font-size="5.0" text-anchor="start" font-weight="bold" fill="#333">Proline</text>
<rect x="790.80" y="157.90" width="7.31" height="7.28" fill="#9fd2e2" stroke="#ffffff" stroke-width="0.45"/>
<rect x="798.11" y="157.90" width="7.31" height="7.28" fill="#9fd2e2" stroke="#ffffff" stroke-width="0.45"/>
<rect x="805.42" y="157.90" width="7.31" height="7.28" fill="#9fd2e2" stroke="#ffffff" stroke-width="0.45"/>
<rect x="812.73" y="157.90" width="7.31" height="7.28" fill="#9fd2e2" stroke="#ffffff" stroke-width="0.45"/>
<rect x="820.04" y="157.90" width="7.31" height="7.28" fill="#c4e2ea" stroke="#ffffff" stroke-width="0.45"/>
<rect x="827.35" y="157.90" width="7.31" height="7.28" fill="#9fd2e2" stroke="#ffffff" stroke-width="0.45"/>
<rect x="834.66" y="157.90" width="7.31" height="7.28" fill="#d6a444" stroke="#ffffff" stroke-width="0.45"/>
<rect x="841.97" y="157.90" width="7.31" height="7.28" fill="#d6a444" stroke="#ffffff" stroke-width="0.45"/>
<rect x="849.28" y="157.90" width="7.31" height="7.28" fill="#d6a444" stroke="#ffffff" stroke-width="0.45"/>
<text x="858.30" y="163.48" font-size="5.0" text-anchor="start" font-weight="bold" fill="#333">Asparagine</text>
<polyline points="790.30,52.34 788.00,52.34 788.00,59.62 790.30,59.62" fill="none" stroke="#9a9a9a" stroke-width="0.4" stroke-linejoin="round" stroke-linecap="round"/>
<polyline points="790.30,66.90 788.50,66.90 788.50,74.18 790.30,74.18" fill="none" stroke="#9a9a9a" stroke-width="0.4" stroke-linejoin="round" stroke-linecap="round"/>
<polyline points="788.50,70.54 787.00,70.54 787.00,81.46 790.30,81.46" fill="none" stroke="#9a9a9a" stroke-width="0.4" stroke-linejoin="round" stroke-linecap="round"/>
<polyline points="788.00,55.98 785.50,55.98 785.50,75.64 787.00,75.64" fill="none" stroke="#9a9a9a" stroke-width="0.4" stroke-linejoin="round" stroke-linecap="round"/>
<polyline points="790.30,103.30 789.00,103.30 789.00,110.58 790.30,110.58" fill="none" stroke="#9a9a9a" stroke-width="0.4" stroke-linejoin="round" stroke-linecap="round"/>
<polyline points="789.00,106.94 788.00,106.94 788.00,117.86 790.30,117.86" fill="none" stroke="#9a9a9a" stroke-width="0.4" stroke-linejoin="round" stroke-linecap="round"/>
<polyline points="788.00,112.04 787.00,112.04 787.00,96.02 790.30,96.02" fill="none" stroke="#9a9a9a" stroke-width="0.4" stroke-linejoin="round" stroke-linecap="round"/>
<polyline points="787.00,104.76 785.80,104.76 785.80,88.74 790.30,88.74" fill="none" stroke="#9a9a9a" stroke-width="0.4" stroke-linejoin="round" stroke-linecap="round"/>
<polyline points="785.50,65.44 783.50,65.44 783.50,99.66 785.80,99.66" fill="none" stroke="#9a9a9a" stroke-width="0.4" stroke-linejoin="round" stroke-linecap="round"/>
<polyline points="790.30,132.42 788.50,132.42 788.50,139.70 790.30,139.70" fill="none" stroke="#9a9a9a" stroke-width="0.4" stroke-linejoin="round" stroke-linecap="round"/>
<polyline points="790.30,146.98 788.50,146.98 788.50,154.26 790.30,154.26" fill="none" stroke="#9a9a9a" stroke-width="0.4" stroke-linejoin="round" stroke-linecap="round"/>
<polyline points="788.50,136.06 787.00,136.06 787.00,150.62 788.50,150.62" fill="none" stroke="#9a9a9a" stroke-width="0.4" stroke-linejoin="round" stroke-linecap="round"/>
<polyline points="787.00,143.34 786.00,143.34 786.00,161.54 790.30,161.54" fill="none" stroke="#9a9a9a" stroke-width="0.4" stroke-linejoin="round" stroke-linecap="round"/>
<polyline points="786.00,152.08 784.50,152.08 784.50,125.14 790.30,125.14" fill="none" stroke="#9a9a9a" stroke-width="0.4" stroke-linejoin="round" stroke-linecap="round"/>
<polyline points="783.50,82.92 782.00,82.92 782.00,139.70 784.50,139.70" fill="none" stroke="#9a9a9a" stroke-width="0.4" stroke-linejoin="round" stroke-linecap="round"/>
<rect x="903.80" y="48.50" width="3.30" height="23.60" fill="url(#gBar)" stroke="none" stroke-width="0.5"/>
<text x="909.20" y="51.00" font-size="5.3" text-anchor="start" font-weight="bold" fill="#333">2</text>
<text x="909.20" y="56.95" font-size="5.3" text-anchor="start" font-weight="bold" fill="#333">1</text>
<text x="909.20" y="62.90" font-size="5.3" text-anchor="start" font-weight="bold" fill="#333">0</text>
<text x="909.20" y="68.85" font-size="5.3" text-anchor="start" font-weight="bold" fill="#333">−1</text>
<text x="909.20" y="74.80" font-size="5.3" text-anchor="start" font-weight="bold" fill="#333">−2</text>
<text x="904.00" y="83.80" font-size="4.9" text-anchor="start" font-weight="bold" fill="#333">Group</text>
<rect x="903.80" y="90.70" width="5.40" height="5.40" fill="#27323c" stroke="none" stroke-width="0.5"/>
<text x="911.40" y="95.00" font-size="5.2" text-anchor="start" font-weight="bold" fill="#333">wt0</text>
<rect x="903.80" y="97.70" width="5.40" height="5.40" fill="#d9a867" stroke="none" stroke-width="0.5"/>
<text x="911.40" y="102.00" font-size="5.2" text-anchor="start" font-weight="bold" fill="#333">wt1</text>
<rect x="903.80" y="104.70" width="5.40" height="5.40" fill="#2b9dba" stroke="none" stroke-width="0.5"/>
<text x="911.40" y="109.00" font-size="5.2" text-anchor="start" font-weight="bold" fill="#333">wt2</text>
<line x1="787.50" y1="174.30" x2="787.50" y2="248.30" stroke="#555" stroke-width="0.6"/>
<line x1="787.50" y1="248.30" x2="912.00" y2="248.30" stroke="#555" stroke-width="0.6"/>
<line x1="786.30" y1="248.30" x2="787.50" y2="248.30" stroke="#555" stroke-width="0.4"/>
<text x="785.50" y="250.10" font-size="5.6" text-anchor="end" font-weight="bold" fill="#444">0</text>
<line x1="786.30" y1="229.80" x2="787.50" y2="229.80" stroke="#555" stroke-width="0.4"/>
<text x="785.50" y="231.60" font-size="5.6" text-anchor="end" font-weight="bold" fill="#444">20</text>
<line x1="786.30" y1="211.30" x2="787.50" y2="211.30" stroke="#555" stroke-width="0.4"/>
<text x="785.50" y="213.10" font-size="5.6" text-anchor="end" font-weight="bold" fill="#444">40</text>
<line x1="786.30" y1="192.80" x2="787.50" y2="192.80" stroke="#555" stroke-width="0.4"/>
<text x="785.50" y="194.60" font-size="5.6" text-anchor="end" font-weight="bold" fill="#444">60</text>
<line x1="786.30" y1="174.30" x2="787.50" y2="174.30" stroke="#555" stroke-width="0.4"/>
<text x="785.50" y="176.10" font-size="5.6" text-anchor="end" font-weight="bold" fill="#444">80</text>
<text x="775.20" y="211.50" font-size="5.1" text-anchor="middle" font-weight="bold" fill="#333" transform="rotate(-90 775.2 211.5)">Content (mg/g)</text>
<rect x="787.43" y="245.53" width="3.25" height="2.78" fill="#62b3e6" stroke="none" stroke-width="0.5"/>
<rect x="791.18" y="247.38" width="3.25" height="0.93" fill="#6ccfa6" stroke="none" stroke-width="0.5"/>
<rect x="794.93" y="245.90" width="3.25" height="2.41" fill="#f1e361" stroke="none" stroke-width="0.5"/>
<text x="792.80" y="254.00" font-size="5.5" text-anchor="middle" font-weight="bold" fill="#444">GC</text>
<line x1="788.80" y1="241.93" x2="796.80" y2="241.93" stroke="#888" stroke-width="0.4"/>
<text x="792.80" y="242.12" font-size="7.0" text-anchor="middle" font-weight="bold" fill="#333">**</text>
<rect x="804.33" y="241.83" width="3.25" height="6.48" fill="#62b3e6" stroke="none" stroke-width="0.5"/>
<rect x="808.08" y="243.68" width="3.25" height="4.62" fill="#6ccfa6" stroke="none" stroke-width="0.5"/>
<rect x="811.83" y="244.97" width="3.25" height="3.33" fill="#f1e361" stroke="none" stroke-width="0.5"/>
<text x="809.70" y="254.00" font-size="5.5" text-anchor="middle" font-weight="bold" fill="#444">EGC</text>
<line x1="805.70" y1="238.23" x2="813.70" y2="238.23" stroke="#888" stroke-width="0.4"/>
<text x="809.70" y="238.43" font-size="7.0" text-anchor="middle" font-weight="bold" fill="#333">**</text>
<rect x="820.23" y="239.98" width="3.25" height="8.33" fill="#62b3e6" stroke="none" stroke-width="0.5"/>
<rect x="823.98" y="240.44" width="3.25" height="7.86" fill="#6ccfa6" stroke="none" stroke-width="0.5"/>
<rect x="827.73" y="239.42" width="3.25" height="8.88" fill="#f1e361" stroke="none" stroke-width="0.5"/>
<text x="825.60" y="254.00" font-size="5.5" text-anchor="middle" font-weight="bold" fill="#444">C</text>
<rect x="836.13" y="244.14" width="3.25" height="4.16" fill="#62b3e6" stroke="none" stroke-width="0.5"/>
<rect x="839.88" y="244.97" width="3.25" height="3.33" fill="#6ccfa6" stroke="none" stroke-width="0.5"/>
<rect x="843.63" y="244.05" width="3.25" height="4.25" fill="#f1e361" stroke="none" stroke-width="0.5"/>
<text x="841.50" y="254.00" font-size="5.5" text-anchor="middle" font-weight="bold" fill="#444">EC</text>
<rect x="852.93" y="186.33" width="3.25" height="61.98" fill="#62b3e6" stroke="none" stroke-width="0.5"/>
<rect x="856.68" y="190.95" width="3.25" height="57.35" fill="#6ccfa6" stroke="none" stroke-width="0.5"/>
<rect x="860.43" y="184.94" width="3.25" height="63.36" fill="#f1e361" stroke="none" stroke-width="0.5"/>
<text x="858.30" y="254.00" font-size="5.5" text-anchor="middle" font-weight="bold" fill="#444">EGCG</text>
<line x1="854.30" y1="181.34" x2="862.30" y2="181.34" stroke="#888" stroke-width="0.4"/>
<text x="858.30" y="181.54" font-size="7.0" text-anchor="middle" font-weight="bold" fill="#333">**</text>
<rect x="869.23" y="236.28" width="3.25" height="12.03" fill="#62b3e6" stroke="none" stroke-width="0.5"/>
<rect x="872.98" y="237.20" width="3.25" height="11.10" fill="#6ccfa6" stroke="none" stroke-width="0.5"/>
<rect x="876.73" y="233.50" width="3.25" height="14.80" fill="#f1e361" stroke="none" stroke-width="0.5"/>
<text x="874.60" y="254.00" font-size="5.5" text-anchor="middle" font-weight="bold" fill="#444">GCG</text>
<line x1="870.60" y1="229.90" x2="878.60" y2="229.90" stroke="#888" stroke-width="0.4"/>
<text x="874.60" y="230.10" font-size="7.0" text-anchor="middle" font-weight="bold" fill="#333">***</text>
<rect x="885.63" y="235.35" width="3.25" height="12.95" fill="#62b3e6" stroke="none" stroke-width="0.5"/>
<rect x="889.38" y="235.72" width="3.25" height="12.58" fill="#6ccfa6" stroke="none" stroke-width="0.5"/>
<rect x="893.13" y="234.43" width="3.25" height="13.88" fill="#f1e361" stroke="none" stroke-width="0.5"/>
<text x="891.00" y="254.00" font-size="5.5" text-anchor="middle" font-weight="bold" fill="#444">ECG</text>
<rect x="901.63" y="247.38" width="3.25" height="0.93" fill="#62b3e6" stroke="none" stroke-width="0.5"/>
<rect x="905.38" y="247.84" width="3.25" height="0.46" fill="#6ccfa6" stroke="none" stroke-width="0.5"/>
<rect x="909.13" y="247.28" width="3.25" height="1.02" fill="#f1e361" stroke="none" stroke-width="0.5"/>
<text x="907.00" y="254.00" font-size="5.5" text-anchor="middle" font-weight="bold" fill="#444">CG</text>
<line x1="903.00" y1="243.68" x2="911.00" y2="243.68" stroke="#888" stroke-width="0.4"/>
<text x="907.00" y="243.88" font-size="7.0" text-anchor="middle" font-weight="bold" fill="#333">*</text>
<rect x="897.60" y="175.70" width="4.60" height="5.00" fill="#62b3e6" stroke="none" stroke-width="0.5"/>
<text x="904.00" y="180.30" font-size="5.8" text-anchor="start" font-weight="bold" fill="#333">wt0</text>
<rect x="897.60" y="183.25" width="4.60" height="5.00" fill="#6ccfa6" stroke="none" stroke-width="0.5"/>
<text x="904.00" y="187.85" font-size="5.8" text-anchor="start" font-weight="bold" fill="#333">wt1</text>
<rect x="897.60" y="190.80" width="4.60" height="5.00" fill="#f1e361" stroke="none" stroke-width="0.5"/>
<text x="904.00" y="195.40" font-size="5.8" text-anchor="start" font-weight="bold" fill="#333">wt2</text>
<polygon points="462.20,350.10 513.47,379.70 513.47,438.90 462.20,468.50 410.93,438.90 410.93,379.70" fill="url(#gHex)" stroke="#8fd8d8" stroke-width="0.5"/>
<polygon points="462.20,402.72 467.90,406.01 467.90,412.59 462.20,415.88 456.50,412.59 456.50,406.01" fill="none" stroke="#ffffff" stroke-width="0.45" opacity="0.8"/>
<polygon points="462.20,396.14 473.59,402.72 473.59,415.88 462.20,422.46 450.81,415.88 450.81,402.72" fill="none" stroke="#ffffff" stroke-width="0.45" opacity="0.8"/>
<polygon points="462.20,389.57 479.29,399.43 479.29,419.17 462.20,429.03 445.11,419.17 445.11,399.43" fill="none" stroke="#ffffff" stroke-width="0.45" opacity="0.8"/>
<polygon points="462.20,382.99 484.99,396.14 484.99,422.46 462.20,435.61 439.41,422.46 439.41,396.14" fill="none" stroke="#ffffff" stroke-width="0.45" opacity="0.8"/>
<polygon points="462.20,376.41 490.68,392.86 490.68,425.74 462.20,442.19 433.72,425.74 433.72,392.86" fill="none" stroke="#ffffff" stroke-width="0.45" opacity="0.8"/>
<polygon points="462.20,369.83 496.38,389.57 496.38,429.03 462.20,448.77 428.02,429.03 428.02,389.57" fill="none" stroke="#ffffff" stroke-width="0.45" opacity="0.8"/>
<polygon points="462.20,363.26 502.08,386.28 502.08,432.32 462.20,455.34 422.32,432.32 422.32,386.28" fill="none" stroke="#ffffff" stroke-width="0.45" opacity="0.8"/>
<polygon points="462.20,356.68 507.77,382.99 507.77,435.61 462.20,461.92 416.63,435.61 416.63,382.99" fill="none" stroke="#ffffff" stroke-width="0.45" opacity="0.8"/>
<line x1="462.20" y1="409.30" x2="462.20" y2="350.10" stroke="#8ab8b8" stroke-width="0.8"/>
<line x1="462.20" y1="409.30" x2="513.47" y2="379.70" stroke="#666" stroke-width="0.8"/>
<line x1="462.20" y1="409.30" x2="513.47" y2="438.90" stroke="#666" stroke-width="0.8"/>
<line x1="462.20" y1="409.30" x2="462.20" y2="468.50" stroke="#8ab8b8" stroke-width="0.8"/>
<line x1="462.20" y1="409.30" x2="410.93" y2="438.90" stroke="#666" stroke-width="0.8"/>
<line x1="462.20" y1="409.30" x2="410.93" y2="379.70" stroke="#666" stroke-width="0.8"/>
<text x="461.60" y="411.20" font-size="5.8" text-anchor="end" font-weight="bold" fill="#2a3f86">1</text>
<text x="461.60" y="404.62" font-size="5.8" text-anchor="end" font-weight="bold" fill="#2a3f86">2</text>
<text x="461.60" y="398.04" font-size="5.8" text-anchor="end" font-weight="bold" fill="#2a3f86">3</text>
<text x="461.60" y="391.47" font-size="5.8" text-anchor="end" font-weight="bold" fill="#2a3f86">4</text>
<text x="461.60" y="384.89" font-size="5.8" text-anchor="end" font-weight="bold" fill="#2a3f86">5</text>
<text x="461.60" y="378.31" font-size="5.8" text-anchor="end" font-weight="bold" fill="#2a3f86">6</text>
<text x="461.60" y="371.73" font-size="5.8" text-anchor="end" font-weight="bold" fill="#2a3f86">7</text>
<text x="461.60" y="365.16" font-size="5.8" text-anchor="end" font-weight="bold" fill="#2a3f86">8</text>
<text x="461.60" y="358.58" font-size="5.8" text-anchor="end" font-weight="bold" fill="#2a3f86">9</text>
<text x="461.60" y="352.00" font-size="5.8" text-anchor="end" font-weight="bold" fill="#2a3f86">10</text>
<polygon points="462.20,365.23 489.54,393.51 487.78,424.07 462.20,440.08 435.88,424.49 435.83,394.07" fill="none" stroke="#7cb2df" stroke-width="0.7"/>
<polygon points="462.20,383.65 502.99,385.75 501.16,431.80 462.20,430.02 422.10,432.45 440.95,397.03" fill="none" stroke="#c79ae4" stroke-width="0.7" stroke-dasharray="0.8 1.2"/>
<polygon points="462.20,384.50 477.75,400.32 484.42,422.13 462.20,446.40 451.83,415.29 427.62,389.34" fill="none" stroke="#f0946f" stroke-width="0.9" stroke-dasharray="2.4 1.6"/>
<circle cx="462.20" cy="365.23" r="1.40" fill="#3a86b8" stroke="none" stroke-width="0.5"/>
<circle cx="489.54" cy="393.51" r="1.40" fill="#3a86b8" stroke="none" stroke-width="0.5"/>
<circle cx="487.78" cy="424.07" r="1.40" fill="#3a86b8" stroke="none" stroke-width="0.5"/>
<circle cx="462.20" cy="440.08" r="1.40" fill="#3a86b8" stroke="none" stroke-width="0.5"/>
<circle cx="435.88" cy="424.49" r="1.40" fill="#3a86b8" stroke="none" stroke-width="0.5"/>
<circle cx="435.83" cy="394.07" r="1.40" fill="#3a86b8" stroke="none" stroke-width="0.5"/>
<circle cx="462.20" cy="384.50" r="1.20" fill="#d85a4a" stroke="none" stroke-width="0.5"/>
<circle cx="477.75" cy="400.32" r="1.20" fill="#d85a4a" stroke="none" stroke-width="0.5"/>
<circle cx="484.42" cy="422.13" r="1.20" fill="#d85a4a" stroke="none" stroke-width="0.5"/>
<circle cx="462.20" cy="446.40" r="1.20" fill="#d85a4a" stroke="none" stroke-width="0.5"/>
<circle cx="451.83" cy="415.29" r="1.20" fill="#d85a4a" stroke="none" stroke-width="0.5"/>
<circle cx="427.62" cy="389.34" r="1.20" fill="#d85a4a" stroke="none" stroke-width="0.5"/>
<circle cx="462.20" cy="383.65" r="1.50" fill="#7d3aa6" stroke="none" stroke-width="0.5"/>
<circle cx="502.99" cy="385.75" r="1.50" fill="#7d3aa6" stroke="none" stroke-width="0.5"/>
<circle cx="501.16" cy="431.80" r="1.50" fill="#7d3aa6" stroke="none" stroke-width="0.5"/>
<circle cx="462.20" cy="430.02" r="1.50" fill="#7d3aa6" stroke="none" stroke-width="0.5"/>
<circle cx="422.10" cy="432.45" r="1.50" fill="#7d3aa6" stroke="none" stroke-width="0.5"/>
<circle cx="440.95" cy="397.03" r="1.50" fill="#7d3aa6" stroke="none" stroke-width="0.5"/>
<text x="464.40" y="342.30" font-size="8.1" text-anchor="middle" font-weight="bold" fill="#333">Herbal<tspan dy="-2.6" font-size="8.1">*</tspan></text>
<text x="409.80" y="379.70" font-size="8.1" text-anchor="end" font-weight="bold" fill="#333">Roast<tspan dy="-2.6" font-size="8.1">*</tspan></text>
<text x="519.00" y="379.70" font-size="8.1" text-anchor="start" font-weight="bold" fill="#333">Flowery<tspan dy="-2.6" font-size="8.1">*</tspan></text>
<text x="410.50" y="451.20" font-size="8.1" text-anchor="end" font-weight="bold" fill="#333">Persistent<tspan dy="-2.6" font-size="8.1">*</tspan></text>
<text x="518.00" y="450.50" font-size="8.1" text-anchor="start" font-weight="bold" fill="#333">Sweet<tspan dy="-2.6" font-size="8.1">*</tspan></text>
<text x="464.00" y="479.50" font-size="8.1" text-anchor="middle" font-weight="bold" fill="#333">Grassy<tspan dy="-2.6" font-size="8.1">*</tspan></text>
<line x1="512.80" y1="334.40" x2="533.00" y2="334.40" stroke="#f0946f" stroke-width="0.8" stroke-dasharray="2 1.5"/>
<circle cx="524.10" cy="334.40" r="1.30" fill="#d85a4a" stroke="none" stroke-width="0.5"/>
<text x="535.70" y="336.30" font-size="10.6" text-anchor="start" font-weight="normal" fill="#1e1e1e">wt0</text>
<line x1="512.80" y1="345.00" x2="533.00" y2="345.00" stroke="#7cb2df" stroke-width="0.8"/>
<circle cx="524.10" cy="345.00" r="1.30" fill="#3a86b8" stroke="none" stroke-width="0.5"/>
<text x="535.70" y="348.20" font-size="10.6" text-anchor="start" font-weight="normal" fill="#1e1e1e">wt1</text>
<line x1="512.80" y1="355.90" x2="533.00" y2="355.90" stroke="#c79ae4" stroke-width="0.8" stroke-dasharray="0.8 1.2"/>
<circle cx="524.10" cy="355.90" r="1.30" fill="#7d3aa6" stroke="none" stroke-width="0.5"/>
<text x="535.70" y="359.30" font-size="10.6" text-anchor="start" font-weight="normal" fill="#1e1e1e">wt2</text>
<rect x="577.00" y="302.50" width="88.00" height="79.00" fill="#ffffff" stroke="#b8b8b8" stroke-width="0.6"/>
<line x1="577.00" y1="310.00" x2="665.00" y2="310.00" stroke="#e6e6e6" stroke-width="0.4"/>
<line x1="577.00" y1="328.00" x2="665.00" y2="328.00" stroke="#e6e6e6" stroke-width="0.4"/>
<line x1="577.00" y1="345.80" x2="665.00" y2="345.80" stroke="#e6e6e6" stroke-width="0.4"/>
<line x1="577.00" y1="363.90" x2="665.00" y2="363.90" stroke="#e6e6e6" stroke-width="0.4"/>
<line x1="591.00" y1="302.50" x2="591.00" y2="381.50" stroke="#e6e6e6" stroke-width="0.4"/>
<line x1="608.90" y1="302.50" x2="608.90" y2="381.50" stroke="#e6e6e6" stroke-width="0.4"/>
<line x1="624.90" y1="302.50" x2="624.90" y2="381.50" stroke="#e6e6e6" stroke-width="0.4"/>
<line x1="641.50" y1="302.50" x2="641.50" y2="381.50" stroke="#e6e6e6" stroke-width="0.4"/>
<line x1="658.00" y1="302.50" x2="658.00" y2="381.50" stroke="#e6e6e6" stroke-width="0.4"/>
<text x="575.30" y="311.50" font-size="4.4" text-anchor="end" font-weight="bold" fill="#444">10</text>
<text x="575.30" y="329.50" font-size="4.4" text-anchor="end" font-weight="bold" fill="#444">5</text>
<text x="575.30" y="347.30" font-size="4.4" text-anchor="end" font-weight="bold" fill="#444">0</text>
<text x="575.30" y="365.40" font-size="4.4" text-anchor="end" font-weight="bold" fill="#444">−5</text>
<text x="575.30" y="383.00" font-size="4.4" text-anchor="end" font-weight="bold" fill="#444">−10</text>
<text x="591.00" y="387.00" font-size="4.4" text-anchor="middle" font-weight="bold" fill="#444">−10</text>
<text x="608.90" y="387.00" font-size="4.4" text-anchor="middle" font-weight="bold" fill="#444">−5</text>
<text x="624.90" y="387.00" font-size="4.4" text-anchor="middle" font-weight="bold" fill="#444">0</text>
<text x="641.50" y="387.00" font-size="4.4" text-anchor="middle" font-weight="bold" fill="#444">5</text>
<text x="658.00" y="387.00" font-size="4.4" text-anchor="middle" font-weight="bold" fill="#444">10</text>
<text x="621.80" y="395.00" font-size="5.1" text-anchor="middle" font-weight="bold" fill="#444">PC1 (67.09%)</text>
<text x="564.60" y="343.40" font-size="5.1" text-anchor="middle" font-weight="bold" fill="#444" transform="rotate(-90 564.6 343.4)">PC2 (28.14%)</text>
<ellipse cx="611.4" cy="329.5" rx="20" ry="8.6" fill="#f8cde5" opacity="0.8" transform="rotate(27 611.4 329.5)"/>
<circle cx="609.30" cy="326.80" r="0.90" fill="#cc4f9a" stroke="none" stroke-width="0.5"/>
<circle cx="609.30" cy="329.80" r="0.90" fill="#cc4f9a" stroke="none" stroke-width="0.5"/>
<circle cx="616.20" cy="331.20" r="0.90" fill="#cc4f9a" stroke="none" stroke-width="0.5"/>
<ellipse cx="614.5" cy="363.2" rx="6.5" ry="2" fill="#c4e4f6" opacity="0.9"/>
<circle cx="613.20" cy="363.20" r="0.70" fill="#8cc4ea" stroke="none" stroke-width="0.5"/>
<circle cx="615.50" cy="363.00" r="0.70" fill="#8cc4ea" stroke="none" stroke-width="0.5"/>
<ellipse cx="648.4" cy="344.5" rx="3.4" ry="2.4" fill="#fbdca0" opacity="0.9"/>
<circle cx="647.60" cy="344.20" r="1.00" fill="#d98512" stroke="none" stroke-width="0.5"/>
<circle cx="649.30" cy="344.90" r="1.00" fill="#d98512" stroke="none" stroke-width="0.5"/>
<circle cx="670.30" cy="310.20" r="2.40" fill="#e58bc4" stroke="none" stroke-width="0.5"/>
<text x="674.50" y="312.00" font-size="5.6" text-anchor="start" font-weight="bold" fill="#333">wt0</text>
<circle cx="670.30" cy="317.10" r="2.40" fill="#a8d8f0" stroke="none" stroke-width="0.5"/>
<text x="674.50" y="318.90" font-size="5.6" text-anchor="start" font-weight="bold" fill="#333">wt1</text>
<circle cx="670.30" cy="324.00" r="2.40" fill="#dc8a1c" stroke="none" stroke-width="0.5"/>
<text x="674.50" y="325.80" font-size="5.6" text-anchor="start" font-weight="bold" fill="#333">wt2</text>
<g style="isolation:isolate">
<circle cx="622.40" cy="458.60" r="23.50" fill="#f3d5c6" stroke="none" stroke-width="0.5" style="mix-blend-mode:multiply"/>
<circle cx="610.70" cy="438.80" r="23.50" fill="#f3eeb6" stroke="none" stroke-width="0.5" style="mix-blend-mode:multiply"/>
<circle cx="634.00" cy="438.80" r="23.50" fill="#b4ecf0" stroke="none" stroke-width="0.5" style="mix-blend-mode:multiply"/>
</g>
<circle cx="622.40" cy="458.60" r="23.50" fill="none" stroke="#808080" stroke-width="0.45"/>
<circle cx="610.70" cy="438.80" r="23.50" fill="none" stroke="#808080" stroke-width="0.45"/>
<circle cx="634.00" cy="438.80" r="23.50" fill="none" stroke="#808080" stroke-width="0.45"/>
<text x="599.70" y="434.20" font-size="5.2" text-anchor="middle" font-weight="bold" fill="#333">2</text>
<text x="622.50" y="430.20" font-size="5.2" text-anchor="middle" font-weight="bold" fill="#333">2</text>
<text x="644.50" y="434.20" font-size="5.2" text-anchor="middle" font-weight="bold" fill="#333">1</text>
<text x="622.50" y="445.30" font-size="5.2" text-anchor="middle" font-weight="bold" fill="#333">10</text>
<text x="607.00" y="455.00" font-size="5.2" text-anchor="middle" font-weight="bold" fill="#333">3</text>
<text x="637.00" y="455.00" font-size="5.2" text-anchor="middle" font-weight="bold" fill="#333">3</text>
<text x="622.50" y="469.80" font-size="5.2" text-anchor="middle" font-weight="bold" fill="#333">4</text>
<line x1="558.40" y1="413.20" x2="590.90" y2="413.20" stroke="#666" stroke-width="0.45"/>
<line x1="590.90" y1="413.20" x2="599.40" y2="425.50" stroke="#666" stroke-width="0.45"/>
<text x="576.50" y="411.40" font-size="4.3" text-anchor="middle" font-weight="bold" fill="#444">Napthalene</text>
<text x="574.10" y="419.80" font-size="4.3" text-anchor="middle" font-weight="bold" fill="#444">(E)-3-hexen-1-ol</text>
<line x1="654.20" y1="411.30" x2="681.20" y2="411.30" stroke="#666" stroke-width="0.45"/>
<line x1="654.20" y1="411.30" x2="643.80" y2="424.60" stroke="#666" stroke-width="0.45"/>
<text x="668.60" y="409.90" font-size="4.3" text-anchor="middle" font-weight="bold" fill="#444">2-Hexenal</text>
<line x1="590.90" y1="488.20" x2="655.10" y2="488.20" stroke="#666" stroke-width="0.45"/>
<line x1="622.10" y1="480.30" x2="622.10" y2="488.20" stroke="#666" stroke-width="0.45" stroke-dasharray="1 0.8"/>
<text x="603.80" y="486.90" font-size="4.3" text-anchor="middle" font-weight="bold" fill="#444">Butanal</text>
<text x="640.20" y="486.90" font-size="4.3" text-anchor="middle" font-weight="bold" fill="#444">1-Octanol</text>
<text x="597.90" y="494.50" font-size="4.3" text-anchor="middle" font-weight="bold" fill="#444">Benzaldehyde</text>
<text x="642.70" y="494.50" font-size="4.1" text-anchor="middle" font-weight="bold" fill="#444">cis-Linalool-oxide (furanoid)</text>
<rect x="664.00" y="422.00" width="6.00" height="6.00" fill="#f3d5c6" stroke="none" stroke-width="0.5"/>
<text x="674.00" y="427.20" font-size="5.0" text-anchor="start" font-weight="bold" fill="#333">wt0</text>
<rect x="664.00" y="432.40" width="6.00" height="6.00" fill="#f3eeb6" stroke="none" stroke-width="0.5"/>
<text x="674.00" y="437.60" font-size="5.0" text-anchor="start" font-weight="bold" fill="#333">wt1</text>
<rect x="664.00" y="442.80" width="6.00" height="6.00" fill="#b4ecf0" stroke="none" stroke-width="0.5"/>
<text x="674.00" y="448.00" font-size="5.0" text-anchor="start" font-weight="bold" fill="#333">wt2</text>
<line x1="712.50" y1="308.00" x2="712.50" y2="384.00" stroke="#7d8790" stroke-width="0.7"/>
<line x1="712.50" y1="384.00" x2="761.80" y2="384.00" stroke="#7d8790" stroke-width="0.7"/>
<line x1="711.30" y1="312.90" x2="712.50" y2="312.90" stroke="#555" stroke-width="0.4"/>
<text x="710.50" y="314.80" font-size="5.8" text-anchor="end" font-weight="bold" fill="#444">350</text>
<line x1="711.30" y1="323.30" x2="712.50" y2="323.30" stroke="#555" stroke-width="0.4"/>
<text x="710.50" y="325.20" font-size="5.8" text-anchor="end" font-weight="bold" fill="#444">300</text>
<line x1="711.30" y1="333.50" x2="712.50" y2="333.50" stroke="#555" stroke-width="0.4"/>
<text x="710.50" y="335.40" font-size="5.8" text-anchor="end" font-weight="bold" fill="#444">250</text>
<line x1="711.30" y1="343.70" x2="712.50" y2="343.70" stroke="#555" stroke-width="0.4"/>
<text x="710.50" y="345.60" font-size="5.8" text-anchor="end" font-weight="bold" fill="#444">200</text>
<line x1="711.30" y1="354.00" x2="712.50" y2="354.00" stroke="#555" stroke-width="0.4"/>
<text x="710.50" y="355.90" font-size="5.8" text-anchor="end" font-weight="bold" fill="#444">150</text>
<line x1="711.30" y1="364.00" x2="712.50" y2="364.00" stroke="#555" stroke-width="0.4"/>
<text x="710.50" y="365.90" font-size="5.8" text-anchor="end" font-weight="bold" fill="#444">100</text>
<line x1="711.30" y1="374.00" x2="712.50" y2="374.00" stroke="#555" stroke-width="0.4"/>
<text x="710.50" y="375.90" font-size="5.8" text-anchor="end" font-weight="bold" fill="#444">50</text>
<line x1="711.30" y1="384.00" x2="712.50" y2="384.00" stroke="#555" stroke-width="0.4"/>
<text x="710.50" y="385.90" font-size="5.8" text-anchor="end" font-weight="bold" fill="#444">0</text>
<rect x="719.10" y="317.70" width="8.30" height="0.60" fill="#b58fb4" stroke="none" stroke-width="0.5"/>
<rect x="719.10" y="318.30" width="8.30" height="2.90" fill="#cf8b34" stroke="none" stroke-width="0.5"/>
<rect x="719.10" y="321.20" width="8.30" height="1.70" fill="#a9cbe8" stroke="none" stroke-width="0.5"/>
<rect x="719.10" y="322.90" width="8.30" height="61.10" fill="#f17fc1" stroke="none" stroke-width="0.5"/>
<text x="724.75" y="386.50" font-size="5.0" text-anchor="end" font-weight="bold" fill="#444" transform="rotate(-50 724.75 386.5)">wt0</text>
<rect x="733.70" y="305.60" width="7.70" height="0.60" fill="#b58fb4" stroke="none" stroke-width="0.5"/>
<rect x="733.70" y="306.20" width="7.70" height="3.00" fill="#cf8b34" stroke="none" stroke-width="0.5"/>
<rect x="733.70" y="309.20" width="7.70" height="4.70" fill="#a9cbe8" stroke="none" stroke-width="0.5"/>
<rect x="733.70" y="313.90" width="7.70" height="70.10" fill="#f17fc1" stroke="none" stroke-width="0.5"/>
<text x="739.05" y="386.50" font-size="5.0" text-anchor="end" font-weight="bold" fill="#444" transform="rotate(-50 739.05 386.5)">wt1</text>
<rect x="747.60" y="324.30" width="7.90" height="0.60" fill="#b58fb4" stroke="none" stroke-width="0.5"/>
<rect x="747.60" y="324.90" width="7.90" height="2.90" fill="#cf8b34" stroke="none" stroke-width="0.5"/>
<rect x="747.60" y="327.80" width="7.90" height="2.30" fill="#a9cbe8" stroke="none" stroke-width="0.5"/>
<rect x="747.60" y="330.10" width="7.90" height="53.90" fill="#f17fc1" stroke="none" stroke-width="0.5"/>
<text x="753.05" y="386.50" font-size="5.0" text-anchor="end" font-weight="bold" fill="#444" transform="rotate(-50 753.05 386.5)">wt2</text>
<text x="695.40" y="344.00" font-size="6.4" text-anchor="middle" font-weight="bold" fill="#333" transform="rotate(-90 695.4 344)">Content (mg/kg)</text>
<rect x="768.00" y="302.50" width="5.50" height="5.60" fill="#1f4f8f" stroke="none" stroke-width="0.5"/>
<text x="775.50" y="307.50" font-size="5.9" text-anchor="start" font-weight="bold" fill="#333">Others</text>
<rect x="768.00" y="310.30" width="5.50" height="5.60" fill="#b58fb4" stroke="none" stroke-width="0.5"/>
<text x="775.50" y="315.30" font-size="5.9" text-anchor="start" font-weight="bold" fill="#333">Ketones</text>
<rect x="768.00" y="318.10" width="5.50" height="5.60" fill="#4fb054" stroke="none" stroke-width="0.5"/>
<text x="775.50" y="323.10" font-size="5.9" text-anchor="start" font-weight="bold" fill="#333">Alkene</text>
<rect x="768.00" y="325.90" width="5.50" height="5.60" fill="#cf8b34" stroke="none" stroke-width="0.5"/>
<text x="775.50" y="330.90" font-size="5.9" text-anchor="start" font-weight="bold" fill="#333">Aldehydes</text>
<rect x="768.00" y="333.70" width="5.50" height="5.60" fill="#a9cbe8" stroke="none" stroke-width="0.5"/>
<text x="775.50" y="338.70" font-size="5.9" text-anchor="start" font-weight="bold" fill="#333">Esters</text>
<rect x="768.00" y="341.50" width="5.50" height="5.60" fill="#f17fc1" stroke="none" stroke-width="0.5"/>
<text x="775.50" y="346.50" font-size="5.9" text-anchor="start" font-weight="bold" fill="#333">Alcohols</text>
<line x1="839.00" y1="303.50" x2="839.00" y2="387.40" stroke="#7d8790" stroke-width="0.7"/>
<line x1="839.00" y1="387.40" x2="890.00" y2="387.40" stroke="#7d8790" stroke-width="0.7"/>
<line x1="837.80" y1="304.60" x2="839.00" y2="304.60" stroke="#555" stroke-width="0.4"/>
<text x="837.00" y="306.50" font-size="5.8" text-anchor="end" font-weight="bold" fill="#444">100</text>
<line x1="837.80" y1="321.60" x2="839.00" y2="321.60" stroke="#555" stroke-width="0.4"/>
<text x="837.00" y="323.50" font-size="5.8" text-anchor="end" font-weight="bold" fill="#444">80</text>
<line x1="837.80" y1="338.30" x2="839.00" y2="338.30" stroke="#555" stroke-width="0.4"/>
<text x="837.00" y="340.20" font-size="5.8" text-anchor="end" font-weight="bold" fill="#444">60</text>
<line x1="837.80" y1="354.50" x2="839.00" y2="354.50" stroke="#555" stroke-width="0.4"/>
<text x="837.00" y="356.40" font-size="5.8" text-anchor="end" font-weight="bold" fill="#444">40</text>
<line x1="837.80" y1="371.10" x2="839.00" y2="371.10" stroke="#555" stroke-width="0.4"/>
<text x="837.00" y="373.00" font-size="5.8" text-anchor="end" font-weight="bold" fill="#444">20</text>
<line x1="837.80" y1="387.40" x2="839.00" y2="387.40" stroke="#555" stroke-width="0.4"/>
<text x="837.00" y="389.30" font-size="5.8" text-anchor="end" font-weight="bold" fill="#444">0</text>
<rect x="844.30" y="304.60" width="8.30" height="0.60" fill="#b58fb4" stroke="none" stroke-width="0.5"/>
<rect x="844.30" y="305.20" width="8.30" height="3.60" fill="#cf8b34" stroke="none" stroke-width="0.5"/>
<rect x="844.30" y="308.80" width="8.30" height="1.40" fill="#a9cbe8" stroke="none" stroke-width="0.5"/>
<rect x="844.30" y="310.20" width="8.30" height="77.20" fill="#f17fc1" stroke="none" stroke-width="0.5"/>
<text x="849.95" y="390.00" font-size="5.0" text-anchor="end" font-weight="bold" fill="#444" transform="rotate(-50 849.95 390)">wt0</text>
<rect x="860.00" y="304.60" width="7.80" height="0.60" fill="#b58fb4" stroke="none" stroke-width="0.5"/>
<rect x="860.00" y="305.20" width="7.80" height="3.10" fill="#cf8b34" stroke="none" stroke-width="0.5"/>
<rect x="860.00" y="308.30" width="7.80" height="3.50" fill="#a9cbe8" stroke="none" stroke-width="0.5"/>
<rect x="860.00" y="311.80" width="7.80" height="75.60" fill="#f17fc1" stroke="none" stroke-width="0.5"/>
<text x="865.40" y="390.00" font-size="5.0" text-anchor="end" font-weight="bold" fill="#444" transform="rotate(-50 865.4 390)">wt1</text>
<rect x="875.50" y="304.60" width="7.90" height="0.60" fill="#b58fb4" stroke="none" stroke-width="0.5"/>
<rect x="875.50" y="305.20" width="7.90" height="4.30" fill="#cf8b34" stroke="none" stroke-width="0.5"/>
<rect x="875.50" y="309.50" width="7.90" height="2.70" fill="#a9cbe8" stroke="none" stroke-width="0.5"/>
<rect x="875.50" y="312.20" width="7.90" height="75.20" fill="#f17fc1" stroke="none" stroke-width="0.5"/>
<text x="880.95" y="390.00" font-size="5.0" text-anchor="end" font-weight="bold" fill="#444" transform="rotate(-50 880.95 390)">wt2</text>
<text x="819.20" y="349.00" font-size="6.2" text-anchor="middle" font-weight="bold" fill="#333" transform="rotate(-90 819.2 349)">Relative concentration percentage  (%)</text>
<rect x="894.60" y="304.20" width="5.50" height="5.60" fill="#1f4f8f" stroke="none" stroke-width="0.5"/>
<text x="902.10" y="309.20" font-size="5.9" text-anchor="start" font-weight="bold" fill="#333">Others</text>
<rect x="894.60" y="312.00" width="5.50" height="5.60" fill="#b58fb4" stroke="none" stroke-width="0.5"/>
<text x="902.10" y="317.00" font-size="5.9" text-anchor="start" font-weight="bold" fill="#333">Ketones</text>
<rect x="894.60" y="319.80" width="5.50" height="5.60" fill="#4fb054" stroke="none" stroke-width="0.5"/>
<text x="902.10" y="324.80" font-size="5.9" text-anchor="start" font-weight="bold" fill="#333">Alkene</text>
<rect x="894.60" y="327.60" width="5.50" height="5.60" fill="#cf8b34" stroke="none" stroke-width="0.5"/>
<text x="902.10" y="332.60" font-size="5.9" text-anchor="start" font-weight="bold" fill="#333">Aldehydes</text>
<rect x="894.60" y="335.40" width="5.50" height="5.60" fill="#a9cbe8" stroke="none" stroke-width="0.5"/>
<text x="902.10" y="340.40" font-size="5.9" text-anchor="start" font-weight="bold" fill="#333">Esters</text>
<rect x="894.60" y="343.20" width="5.50" height="5.60" fill="#f17fc1" stroke="none" stroke-width="0.5"/>
<text x="902.10" y="348.20" font-size="5.9" text-anchor="start" font-weight="bold" fill="#333">Alcohols</text>
<line x1="719.00" y1="403.90" x2="904.50" y2="403.90" stroke="#777" stroke-width="0.8"/>
<line x1="719.00" y1="464.90" x2="904.50" y2="464.90" stroke="#777" stroke-width="0.8"/>
<polyline points="724.78,414.10 732.88,418.77 732.88,428.11 724.78,432.78 716.69,428.11 716.69,418.77 724.78,414.10" fill="none" stroke="#6a6a6a" stroke-width="0.9" stroke-linejoin="round" stroke-linecap="round"/>
<polyline points="724.78,416.34 730.93,419.89" fill="none" stroke="#6a6a6a" stroke-width="0.8" stroke-linejoin="round" stroke-linecap="round"/>
<polyline points="730.93,426.99 724.78,430.54" fill="none" stroke="#6a6a6a" stroke-width="0.8" stroke-linejoin="round" stroke-linecap="round"/>
<polyline points="718.63,426.99 718.63,419.89" fill="none" stroke="#6a6a6a" stroke-width="0.8" stroke-linejoin="round" stroke-linecap="round"/>
<polyline points="732.88,418.77 741.44,414.50 749.84,418.84 757.96,413.69" fill="none" stroke="#6a6a6a" stroke-width="0.9" stroke-linejoin="round" stroke-linecap="round"/>
<polyline points="749.59,417.55 756.90,412.92" fill="none" stroke="#6a6a6a" stroke-width="0.8" stroke-linejoin="round" stroke-linecap="round"/>
<text x="737.11" y="446.33" font-size="5.2" text-anchor="middle" font-weight="bold" fill="#3a3a3a">Phenylacetaldehyde</text>
<polyline points="785.86,409.08 794.19,413.89 794.19,423.51 785.86,428.32 777.53,423.51 777.53,413.89 785.86,409.08" fill="none" stroke="#6a6a6a" stroke-width="0.9" stroke-linejoin="round" stroke-linecap="round"/>
<polyline points="792.19,415.05 792.19,422.35" fill="none" stroke="#6a6a6a" stroke-width="0.8" stroke-linejoin="round" stroke-linecap="round"/>
<polyline points="794.19,413.89 801.57,410.44" fill="none" stroke="#6a6a6a" stroke-width="0.9" stroke-linejoin="round" stroke-linecap="round"/>
<polyline points="777.53,423.51 769.61,428.04 761.76,423.17" fill="none" stroke="#6a6a6a" stroke-width="0.9" stroke-linejoin="round" stroke-linecap="round"/>
<polyline points="769.61,428.04 769.61,437.25" fill="none" stroke="#6a6a6a" stroke-width="0.9" stroke-linejoin="round" stroke-linecap="round"/>
<polyline points="770.75,428.32 770.75,436.98" fill="none" stroke="#6a6a6a" stroke-width="0.8" stroke-linejoin="round" stroke-linecap="round"/>
<text x="779.90" y="446.33" font-size="5.2" text-anchor="middle" font-weight="bold" fill="#3a3a3a">Limonene</text>
<polyline points="816.93,416.94 825.42,421.84 825.42,431.65 816.93,436.55 808.44,431.65 808.44,421.84 816.93,416.94" fill="none" stroke="#6a6a6a" stroke-width="0.9" stroke-linejoin="round" stroke-linecap="round"/>
<polyline points="816.93,419.29 823.38,423.02" fill="none" stroke="#6a6a6a" stroke-width="0.8" stroke-linejoin="round" stroke-linecap="round"/>
<polyline points="823.38,430.47 816.93,434.20" fill="none" stroke="#6a6a6a" stroke-width="0.8" stroke-linejoin="round" stroke-linecap="round"/>
<polyline points="810.48,430.47 810.48,423.02" fill="none" stroke="#6a6a6a" stroke-width="0.8" stroke-linejoin="round" stroke-linecap="round"/>
<polyline points="825.42,421.84 831.83,417.62 839.95,423.03 847.40,417.62" fill="none" stroke="#6a6a6a" stroke-width="0.9" stroke-linejoin="round" stroke-linecap="round"/>
<polyline points="831.83,417.62 831.83,407.46" fill="none" stroke="#6a6a6a" stroke-width="0.9" stroke-linejoin="round" stroke-linecap="round"/>
<polyline points="832.96,417.31 832.96,407.76" fill="none" stroke="#6a6a6a" stroke-width="0.8" stroke-linejoin="round" stroke-linecap="round"/>
<polyline points="825.42,431.65 832.45,436.31" fill="none" stroke="#6a6a6a" stroke-width="0.9" stroke-linejoin="round" stroke-linecap="round"/>
<text x="832.99" y="437.52" font-size="3.6" text-anchor="start" font-weight="bold" fill="#555">OH</text>
<text x="829.47" y="446.33" font-size="5.2" text-anchor="middle" font-weight="bold" fill="#3a3a3a">Methyl salicylate</text>
<polyline points="854.85,412.47 860.67,416.26 861.62,425.47 870.42,431.16 877.87,425.74 886.67,431.43 894.80,425.07 902.93,431.16 911.05,426.42" fill="none" stroke="#6a6a6a" stroke-width="0.9" stroke-linejoin="round" stroke-linecap="round"/>
<polyline points="862.94,424.97 870.34,429.75" fill="none" stroke="#6a6a6a" stroke-width="0.8" stroke-linejoin="round" stroke-linecap="round"/>
<polyline points="902.93,431.16 902.93,440.64" fill="none" stroke="#6a6a6a" stroke-width="0.9" stroke-linejoin="round" stroke-linecap="round"/>
<polyline points="904.06,431.44 904.06,440.35" fill="none" stroke="#6a6a6a" stroke-width="0.8" stroke-linejoin="round" stroke-linecap="round"/>
<text x="883.37" y="446.33" font-size="5.2" text-anchor="middle" font-weight="bold" fill="#3a3a3a">(Z)-3-Hexen-1-ol, acetate</text>
<polyline points="716.93,488.42 725.33,483.95 734.13,488.42 741.58,483.68 751.73,488.82 760.54,483.95 767.98,489.10" fill="none" stroke="#6a6a6a" stroke-width="0.9" stroke-linejoin="round" stroke-linecap="round"/>
<polyline points="734.11,487.08 740.37,483.10" fill="none" stroke="#6a6a6a" stroke-width="0.8" stroke-linejoin="round" stroke-linecap="round"/>
<text x="768.53" y="490.48" font-size="3.6" text-anchor="start" font-weight="bold" fill="#555">OH</text>
<text x="747.67" y="499.66" font-size="5.2" text-anchor="middle" font-weight="bold" fill="#3a3a3a">(E)-3-Hexen-1-ol</text>
<polyline points="776.79,485.71 783.56,489.77 791.01,486.12 798.46,490.18 805.90,486.39 814.03,490.45 821.48,486.39 828.93,490.18" fill="none" stroke="#6a6a6a" stroke-width="0.9" stroke-linejoin="round" stroke-linecap="round"/>
<polyline points="777.71,484.94 783.81,488.59" fill="none" stroke="#6a6a6a" stroke-width="0.8" stroke-linejoin="round" stroke-linecap="round"/>
<polyline points="791.01,486.12 791.01,477.58" fill="none" stroke="#6a6a6a" stroke-width="0.9" stroke-linejoin="round" stroke-linecap="round"/>
<polyline points="792.15,485.86 792.15,477.84" fill="none" stroke="#6a6a6a" stroke-width="0.8" stroke-linejoin="round" stroke-linecap="round"/>
<polyline points="821.48,486.39 821.48,478.26" fill="none" stroke="#6a6a6a" stroke-width="0.9" stroke-linejoin="round" stroke-linecap="round"/>
<polyline points="814.08,489.13 820.34,485.71" fill="none" stroke="#6a6a6a" stroke-width="0.8" stroke-linejoin="round" stroke-linecap="round"/>
<text x="803.52" y="499.66" font-size="5.2" text-anchor="middle" font-weight="bold" fill="#3a3a3a">β-Myrcene</text>
<polyline points="839.22,492.07 848.70,486.66 858.18,491.80 867.66,486.39 867.66,474.20" fill="none" stroke="#6a6a6a" stroke-width="0.9" stroke-linejoin="round" stroke-linecap="round"/>
<polyline points="868.80,486.02 868.80,474.56" fill="none" stroke="#6a6a6a" stroke-width="0.8" stroke-linejoin="round" stroke-linecap="round"/>
<text x="852.41" y="499.66" font-size="5.2" text-anchor="middle" font-weight="bold" fill="#3a3a3a">Butanal</text>
<polyline points="882.96,476.23 882.96,486.39 890.01,490.72 897.45,486.39 904.90,490.72 912.35,486.39 920.48,490.72 927.93,486.12" fill="none" stroke="#6a6a6a" stroke-width="0.9" stroke-linejoin="round" stroke-linecap="round"/>
<polyline points="884.10,476.53 884.10,486.08" fill="none" stroke="#6a6a6a" stroke-width="0.8" stroke-linejoin="round" stroke-linecap="round"/>
<text x="898.59" y="499.66" font-size="5.2" text-anchor="middle" font-weight="bold" fill="#3a3a3a">Heptanal</text>
</svg>
</body></html>
